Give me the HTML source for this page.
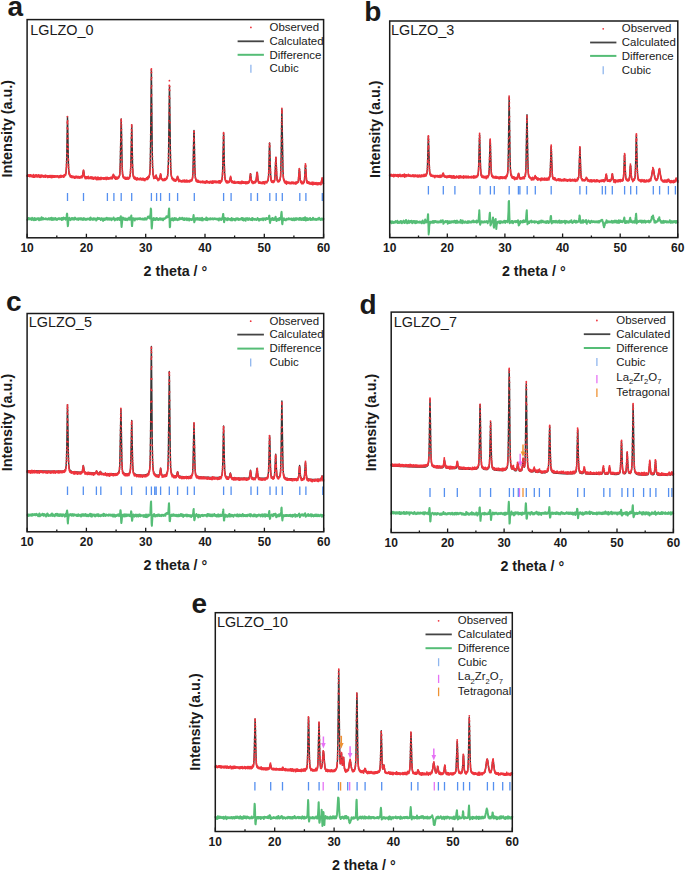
<!DOCTYPE html>
<html><head><meta charset="utf-8"><style>
html,body{margin:0;padding:0;background:#fff;}
svg{display:block;}
text{font-family:"Liberation Sans", sans-serif;fill:#1a1a1a;}
</style></head><body>
<svg width="685" height="871" viewBox="0 0 685 871">
<path d="M27.1 175.8L52.8 176.4L60.6 176.5L62.5 176.4L63.7 176.2L64.6 175.7L65.3 175.1L65.7 174L66.1 172.3L66.5 166L66.8 153.5L67.3 123.8L67.5 116.8L67.7 124.2L68.3 157.7L68.6 168.1L68.9 171.7L69.2 173.9L69.7 175.1L70.4 176L71 176.4L71.8 176.7L74.2 177L79.6 177.3L81 177.3L81.8 177.1L82.2 176.8L82.5 176L83.3 171.3L83.5 170.4L83.7 170.9L84.2 174.9L84.5 176.4L85 177.2L85.9 177.5L89.1 177.8L99 178.2L108 178.5L111.3 178.4L112.1 178.2L112.5 177.8L113.3 175.1L113.5 174.7L113.7 175.2L114.4 177.5L114.6 177.9L114.9 178.2L115.9 178.3L117.2 178.2L118.1 177.8L118.7 177.3L119.3 176.4L119.7 174.9L119.9 172.7L120.1 168.3L121.2 118.9L121.4 125.3L122.2 167.7L122.6 174.2L122.9 175.6L123.2 176.6L123.8 177.5L124.8 178.1L126.3 178.4L127.9 178.3L128.9 178L129.5 177.3L129.9 176.5L130.2 175.1L130.5 171.6L130.8 165.7L131.7 124.9L131.9 129.7L132.6 166.2L132.9 173.1L133.4 176.5L133.9 177.5L134.6 178.3L135.7 178.8L137.3 179.1L141.5 179.3L144.9 179.2L146.8 178.9L148.1 178.2L148.6 177.6L149 176.8L149.6 174.8L150 170.9L150.2 165.2L150.6 141.7L151.2 79.7L151.4 69.4L152.2 146.5L152.5 164.4L152.8 170.6L153.1 174.2L153.7 176.6L154.1 177.6L154.6 178.1L154.9 178.2L155.3 178L156 175.8L156.2 175.6L156.9 178.1L157.3 179L157.7 179.3L158.1 179.5L158.8 179.5L159.2 179.3L159.5 178.9L159.7 178.3L160.4 174.9L160.6 174.4L161.4 178.3L161.8 179.3L162.1 179.6L162.7 179.7L164.5 179.7L165.7 179.2L166.6 178.5L167.3 177.2L167.7 175.6L168.1 170L168.5 159.4L169.3 95L169.5 85.9L169.7 96.5L170.4 151.7L170.8 168.7L171.1 174.1L171.5 176.7L172.2 178.5L172.7 179.2L173.3 179.7L174.1 180.1L175 180.3L175.8 180.4L176.3 180.2L176.8 179.5L177.4 177.3L177.6 176.9L177.8 177.3L178.6 180.2L179 180.6L179.8 180.8L185 181.2L189.4 181.1L190.4 180.9L191.2 180.5L191.8 180L192.2 179.4L192.5 178.2L192.7 176.4L193 170.6L193.8 133.7L194 130.5L194.2 133.1L194.7 161.5L195.1 173.9L195.4 177.1L195.7 179L196.2 180.1L197 180.9L198.7 181.5L201.9 181.8L208 182.1L215.7 182.1L218.2 182L219.8 181.8L220.9 181.3L221.6 180.5L222 179.5L222.2 178.1L222.6 171.8L223.4 139.4L223.6 133.3L223.8 135.8L224.3 163.1L224.7 174.9L225 178L225.2 179.4L225.6 180.6L226.2 181.2L226.9 181.7L227.8 181.9L228.7 182L229.3 181.8L229.8 180.8L230.4 177.7L230.6 177.3L231.6 181.4L231.9 181.9L232.5 182.2L234.8 182.5L241 182.6L246.4 182.6L248.5 182.4L249.1 181.9L249.5 180.8L250.5 173.7L250.7 174.6L251.4 180.1L251.8 181.7L252.1 182.1L252.7 182.4L253.9 182.5L255 182.3L255.7 181.9L256.1 180.7L256.9 173.2L257.1 172.1L257.4 173.5L258 180L258.3 181.4L258.7 182.1L259.3 182.4L260.2 182.5L263.8 182.6L266 182.3L266.7 182L267.3 181.7L267.8 181L268.1 180.1L268.3 178.6L268.6 175.6L268.9 167.5L269.4 145.2L269.6 142.9L269.8 147.5L270.5 172L270.8 177.7L271.1 180L271.4 180.7L271.8 181.3L272.2 181.6L272.9 181.8L273.5 181.7L274 181.4L274.3 180.9L274.6 180.2L275 175.6L275.7 160.1L275.9 157.5L276.2 160.9L276.7 174.7L277 178.8L277.3 180.2L277.7 181L278.3 181.3L279 181.1L279.8 180.2L280.2 178.7L280.6 176L280.8 171.3L281.2 153.1L281.7 116.7L281.9 109.1L283 170.1L283.4 177.4L283.7 179.4L284.2 180.7L284.7 181.5L285.4 182L286.4 182.4L287.8 182.7L291 182.9L294.8 183L296.6 182.8L297.6 182.5L298.1 181.8L298.4 180.3L299.2 170.1L299.4 168.9L300.2 179L300.6 181.5L301 182.2L301.6 182.7L302.7 182.8L303.6 182.5L303.9 182.1L304.2 181.6L304.5 179.8L305.3 166.8L305.5 164.9L306.5 179.5L306.8 181.5L307.3 182.5L307.8 182.9L308.4 183.1L310.5 183.4L317.3 183.6L320.3 183.5L320.8 183.3L321.1 182.8L322.1 179.2L322.3 179.6L323 182.7L323.3 183.2L323.6 183.5" fill="none" stroke="#363636" stroke-width="1.4" stroke-linejoin="round"/>
<path d="M27.1 175.7h0m0.2 0.6h0m0.3 -1.2h0m0.1 0.9h0m0 -1h0m0.2 0.9h0m0.4 -0.4h0m0.2 0.6h0m0.2 -0.6h0m0.2 -0.6h0m0.1 0.9h0m0.2 -0.6h0m0.1 1h0m0.3 -0.6h0m0.1 0.8h0m0.1 -1.2h0m0.1 1.3h0m0.1 -1.5h0m0.1 1h0m0 -0.6h0m0.1 1h0m0.3 -1.2h0m0.1 1.1h0m0.1 -1.3h0m0.1 1.2h0m0.1 -0.9h0m0.1 0.8h0m0.3 -0.5h0m0 0.8h0m0.1 -0.9h0m0.1 1.1h0m0.1 -1.3h0m0.1 0.5h0m0 0.7h0m0.2 -0.9h0m0.1 0.8h0m0.2 -0.6h0m0.3 1h0m0 -1.1h0m0.3 1h0m0.1 -1.3h0m0 0.7h0m0.3 0.9h0m0.1 -1.3h0m0.1 -1h0m0.1 1.7h0m0.2 -1.2h0m0.1 0.6h0m0.1 0.6h0m0.3 -0.5h0m0.3 0.6h0m0 0.7h0m0.1 -0.8h0m0.3 -1.1h0m0 1h0m0.1 -0.8h0m0.1 1.1h0m0.2 -0.6h0m0.3 -0.9h0m0.1 0.9h0m0.1 0.7h0m0.3 -1h0m0.1 1h0m0.1 -1.7h0m0.2 1.2h0m0.3 0.5h0m0.1 -0.9h0m0 -0.6h0m0.3 0.8h0m0.1 0.9h0m0.1 -0.6h0m0.3 -1h0m0 1.2h0m0.3 -1.1h0m0.1 1.1h0m0 -0.8h0m0.3 -0.7h0m0.1 0.8h0m0 0.6h0m0.1 -1.3h0m0.1 1.1h0m0.6 0.8h0m0 -0.7h0m0.1 -0.6h0m0.1 1.3h0m0.1 -0.6h0m0.1 -0.7h0m0 0.6h0m0.2 -0.6h0m0.1 0.8h0m0.1 -0.8h0m0 1.6h0m0.1 -0.9h0m0.3 -1.1h0m0.1 1h0m0.2 -0.8h0m0.1 0.8h0m0.1 0.8h0m0.1 -1.5h0m0.1 1.3h0m0.1 -1.1h0m0.1 -0.6h0m0.1 0.9h0m0.6 0h0m0.4 -0.8h0m0.4 0.7h0m0.2 0.9h0m0.1 -0.7h0m0.1 0.8h0m0.1 -0.8h0m0.3 0.6h0m0.2 -0.7h0m0.1 0.6h0m0.1 -1h0m0 0.7h0m0.4 -0.6h0m0.4 0.7h0m0.1 0.6h0m0.2 -0.9h0m0.1 -0.8h0m0.1 1.1h0m0.1 -1.1h0m0.2 0.9h0m0.1 0.7h0m0.1 -1.3h0m0.2 0.5h0m0.5 0h0m0.2 -0.6h0m0.1 0.8h0m0.4 -0.4h0m0.4 0.6h0m0 0.8h0m0.2 -0.6h0m0.1 -0.8h0m0.1 0.6h0m0.5 -0.4h0m0.1 0.7h0m0.1 -0.9h0m0.1 0.6h0m0 -0.6h0m0.1 1.1h0m0.1 -0.6h0m0.3 0.5h0m0.1 -0.9h0m0.2 1h0m0 -0.9h0m0.3 -0.6h0m0.1 1.4h0m0 -1.3h0m0.1 1.2h0m0.1 -0.5h0m0.6 0.3h0m0 -0.5h0m0.3 0.5h0m0.1 -0.6h0m0 1.5h0m0.1 -1.4h0m0.3 -0.6h0m0.1 0.8h0m0.4 -0.6h0m0.1 0.8h0m0.2 -0.5h0m0 1.2h0m0.1 -0.8h0m0.1 0.6h0m0.2 -0.7h0m0 -0.7h0m0.1 1.1h0m0.3 -1h0m0 1.3h0m0.1 -1.1h0m0.2 1.2h0m0.1 -0.6h0m0.2 -0.6h0m0.1 0.6h0m0.1 -0.7h0m0.1 0.5h0m0.2 0.7h0m0.1 -0.6h0m0.1 0.7h0m0.1 -0.7h0m0.1 -0.7h0m0.2 0.7h0m0.6 0.2h0m0.3 -0.8h0m0.1 0.9h0m0.4 -0.5h0m0.1 0.6h0m0.2 -0.6h0m0.3 0.4h0m0.2 -0.7h0m0.1 0.7h0m0.1 -0.8h0m0.1 0.8h0m0.2 -0.8h0m0 0.6h0m0.4 0.6h0m0.1 -0.6h0m0.2 0.8h0m0.1 -0.7h0m0.2 1h0m0.1 -1.3h0m0.3 0.5h0m0.1 -0.6h0m0.2 0.6h0m0.3 -0.8h0m0 1.4h0m0.1 -0.9h0m0.3 -0.5h0m0.3 0.7h0m0.1 -0.6h0m0.2 1h0m0.1 -1h0m0.1 -0.6h0m0 0.7h0m0.2 0.5h0m0.1 -1h0m0.1 1.3h0m0.4 -0.5h0m0.2 -0.6h0m0.1 0.7h0m0.5 -0.1h0m0.2 -0.5h0m0.2 0.8h0m0 -0.7h0m0.4 1h0m0 -1h0m0.2 1.1h0m0.1 -1.7h0m0.2 1.2h0m0.1 -1.3h0m0.1 1.3h0m0.1 -1h0m0.1 -0.8h0m0.1 1.5h0m0.3 -0.8h0m0.4 -0.8h0m0.1 0.6h0m0.2 -0.8h0m0 0.7h0m0.1 -0.9h0m0.1 0.9h0m0.1 -0.9h0m0.1 -1h0m0.2 -0.5h0m0.2 -1h0m0.1 -1.6h0m0.1 -1.2h0m0.1 -1.4h0m0.1 -1.9h0m0 -1.6h0m0.1 -2.8h0m0.1 -4.1h0m0.1 -4h0m0.1 -5h0m0 -4.2h0m0.1 -5.5h0m0.1 -4.7h0m0.1 -5.9h0m0.1 -5.3h0m0 -0.6h0m0.1 -5.5h0m0.3 4.3h0m0 2.9h0m0.1 5.1h0m0.1 5h0m0.1 4.5h0m0.1 6.6h0m0 4h0m0.1 5.2h0m0.1 4.8h0m0.1 1.1h0m0.1 4.6h0m0 2.1h0m0.1 0.8h0m0.1 2.2h0m0.2 3.4h0m0 -1.2h0m0.1 1h0m0.1 1.1h0m0.3 0.6h0m0.1 -1h0m0.1 0.6h0m0.1 0.8h0m0.2 -0.6h0m0.1 1.4h0m0.5 1h0m0.1 -0.7h0m0.1 0.6h0m0.2 -0.8h0m0 1h0m0.1 -1h0m0.2 1.1h0m0.2 -0.8h0m0.1 1h0m0.3 -1.3h0m0.1 0.7h0m0.2 0.9h0m0 -0.8h0m0.1 0.8h0m0.1 -0.9h0m0.6 -0.3h0m0 0.6h0m0.6 0.2h0m0.2 -0.7h0m0.4 0.7h0m0.1 0.8h0m0.1 -0.9h0m0.1 0.8h0m0.1 -1h0m0.3 0.8h0m0.1 -1.1h0m0 0.8h0m0.2 0.6h0m0.1 -0.6h0m0.2 -0.9h0m0.2 0.8h0m0.4 -0.4h0m0.1 0.8h0m0.2 -1.2h0m0.2 0.8h0m0.4 -0.9h0m0.1 1.1h0m0.1 -0.7h0m0.3 1h0m0.2 -0.8h0m0.4 0.4h0m0.1 -0.7h0m0.1 0.7h0m0.1 -0.8h0m0.1 0.7h0m0.1 0.6h0m0.1 -1h0m0.1 0.7h0m0.4 -0.6h0m0.4 1.1h0m0.3 -0.8h0m0.3 -0.6h0m0.3 1.1h0m0.1 -1h0m0 0.9h0m0.1 -1.1h0m0.3 0.8h0m0.4 -0.4h0m0.4 0.5h0m0.1 -1.6h0m0.1 1.8h0m0.3 -1.6h0m0.2 0.5h0m0.1 -1.2h0m0 0.9h0m0.1 -1.1h0m0.1 1.2h0m0.1 -1.7h0m0.1 -0.5h0m0.1 -1.6h0m0.3 -0.9h0m0.1 -1.3h0m0.1 0.8h0m0.1 -0.7h0m0.1 1.5h0m0.2 0.6h0m0.2 0.9h0m0 1h0m0.1 0.5h0m0.3 1.8h0m0.2 -0.6h0m0.2 1.6h0m0.3 -0.6h0m0.1 1.3h0m0 -1.3h0m0.4 0.9h0m0.1 -1.2h0m0.2 0.8h0m0.1 -0.9h0m0.3 0.8h0m0.2 -0.5h0m0.2 1.4h0m0.1 -1.4h0m0.2 0.7h0m0.1 -0.6h0m0.1 1.1h0m0 -1.1h0m0.3 0.6h0m0.3 -0.8h0m0.1 0.9h0m0.1 -0.6h0m0 0.6h0m0.3 -1.4h0m0.1 0.8h0m0.3 1.2h0m0.4 -1.2h0m0.1 1h0m0 -1h0m0.4 0.5h0m0.5 -0.1h0m0.2 0.7h0m0.4 -1.4h0m0.1 1.4h0m0 -0.7h0m0.3 0.9h0m0.2 -0.6h0m0.3 0.7h0m0 -1h0m0.3 -0.8h0m0.1 1.1h0m0.1 0.6h0m0.1 -0.6h0m0.4 -0.6h0m0.1 1.1h0m0.1 -0.9h0m0.2 1.1h0m0.1 -1h0m0.1 1.5h0m0 -1.5h0m0.2 1.2h0m0.1 -1.2h0m0.3 0.4h0m0.2 -0.6h0m0 0.9h0m0.3 -0.7h0m0.1 0.8h0m0 -0.9h0m0.3 0.7h0m0.1 -0.8h0m0.2 0.6h0m0.2 0.7h0m0 -0.7h0m0.1 -0.9h0m0.1 1.3h0m0.1 -1h0m0.1 0.7h0m0.2 -0.5h0m0.2 0.9h0m0.2 -0.8h0m0.2 1.7h0m0 -1h0m0.1 -0.7h0m0.2 1.1h0m0.1 -0.7h0m0.3 -0.9h0m0.1 1h0m0.2 0.7h0m0.1 -0.8h0m0.1 -0.8h0m0.2 2.1h0m0.1 -1.3h0m0.1 0.8h0m0.1 -0.7h0m0.2 -0.9h0m0.1 1.1h0m0.2 -0.9h0m0.1 1h0m0.1 -0.6h0m0.4 1.3h0m0 -0.8h0m0.3 0.6h0m0.1 -0.5h0m0 -0.7h0m0.1 0.6h0m0.6 0h0m0.1 -0.6h0m0.1 1.4h0m0.2 -1.2h0m0.2 -0.7h0m0.1 1.9h0m0.1 -0.7h0m0.5 -0.1h0m0.5 -0.6h0m0.3 0.6h0m0.5 0.3h0m0.3 -0.6h0m0.1 0.7h0m0.1 -1h0m0.1 1h0m0.1 -0.8h0m0.2 1.1h0m0.2 -1.4h0m0.1 0.9h0m0.5 -0.8h0m0.2 1h0m0.1 -1h0m0.3 0.9h0m0.3 -0.7h0m0.1 0.6h0m0 -1.1h0m0.1 0.9h0m0.2 -1.2h0m0.1 1.4h0m0.2 0.7h0m0.1 -0.9h0m0.2 -0.5h0m0.1 0.7h0m0.4 -0.5h0m0.2 -0.8h0m0 0.8h0m0.2 0.6h0m0.4 -0.6h0m0.3 0.8h0m0.2 -1.1h0m0.1 0.8h0m0 -0.8h0m0.3 0.7h0m0.1 -0.5h0m0 0.8h0m0.2 -0.9h0m0.2 0.6h0m0.3 -0.8h0m0.1 0.9h0m0.2 -0.6h0m0.2 0.6h0m0.5 -1.4h0m0.1 0.7h0m0.1 0.6h0m0.1 -0.6h0m0.4 0.5h0m0 -0.6h0m0.1 0.7h0m0.5 -1.1h0m0.1 0.9h0m0.1 -0.7h0m0 1.1h0m0.1 -2.3h0m0.1 1h0m0.5 -0.9h0m0.1 -0.8h0m0 1.1h0m0.1 -1.3h0m0.1 0.6h0m0.1 -1.6h0m0.1 0.8h0m0.1 -0.9h0m0.1 0.6h0m0.4 0.9h0m0.2 0.7h0m0.2 0.5h0m0.1 0.7h0m0.2 -0.5h0m0.1 0.7h0m0.1 -1.6h0m0.1 1.2h0m0 0.7h0m0.3 -1h0m0.1 1h0m0.4 0.8h0m0 -1.3h0m0.2 1.3h0m0.1 -2h0m0.1 1.1h0m0.1 0.8h0m0.1 -1.1h0m0.2 -0.7h0m0.1 1h0m0.3 -0.9h0m0 0.9h0m0.4 -0.6h0m0.1 1.1h0m0.1 -0.9h0m0.3 0.5h0m0.3 -1.3h0m0 0.7h0m0.2 -0.8h0m0.1 1.1h0m0.1 -0.9h0m0.2 0.5h0m0.1 -0.6h0m0.2 -0.8h0m0.5 -0.7h0m0.2 -0.9h0m0.1 -1.1h0m0.2 -1.9h0m0.1 -1.1h0m0 -1.9h0m0.1 -2.2h0m0.1 -2.4h0m0.1 -4.5h0m0.1 -3.5h0m0 -4.5h0m0.1 -4.5h0m0.1 -5.4h0m0.1 -3.4h0m0.1 -7.6h0m0 -3.7h0m0.1 -3.7h0m0.1 -2.8h0m0.1 -1.1h0m0.1 2h0m0.1 3.4h0m0.1 4.8h0m0.1 5.4h0m0.1 5h0m0 5.6h0m0.1 4.8h0m0.1 4.9h0m0.1 4.6h0m0.1 3.4h0m0 1.8h0m0.1 2.2h0m0.1 1.8h0m0.1 2.1h0m0.1 1.6h0m0 1.1h0m0.3 2.1h0m0.1 -0.8h0m0 0.9h0m0.3 0.6h0m0.1 0.7h0m0 -0.8h0m0.1 0.9h0m0.4 -0.5h0m0.1 1h0m0.3 -0.9h0m0.1 1.2h0m0.1 -0.8h0m0.1 0.9h0m0.5 -0.3h0m0.2 0.9h0m0.3 -0.9h0m0.2 0.8h0m0 -1.4h0m0.1 0.6h0m0.2 1.1h0m0.1 -0.6h0m0.5 -0.5h0m0.3 0.5h0m0.1 0.6h0m0.1 -1.3h0m0.1 0.8h0m0.2 -1.3h0m0.1 1.1h0m0.5 -0.7h0m0.2 0.6h0m0.2 -0.6h0m0.2 1.2h0m0.3 -1h0m0.3 -0.6h0m0.3 0.6h0m0.1 -1.1h0m0.5 -0.9h0m0 -0.7h0m0.1 -0.7h0m0.3 -2h0m0 -1.1h0m0.1 -2.1h0m0.1 -2.1h0m0.1 -1.7h0m0.1 -2h0m0 -3h0m0.1 -4.9h0m0.1 -3.7h0m0.1 -5.3h0m0.1 -4.7h0m0 -4.1h0m0.1 -4.3h0m0.1 -3.9h0m0.1 -4.1h0m0.1 -0.8h0m0.1 2.1h0m0.1 4h0m0.1 3.2h0m0.1 2.9h0m0 6.7h0m0.1 3h0m0.1 5.5h0m0.1 4.1h0m0.1 3h0m0 5.4h0m0.1 1.2h0m0.1 3.1h0m0.1 1.4h0m0.1 1.6h0m0 2h0m0.2 0.9h0m0.2 1.2h0m0.2 0.6h0m0.1 -0.7h0m0.1 1.1h0m0 0.7h0m0.1 -0.7h0m0.2 0.7h0m0.2 0.5h0m0.3 -0.7h0m0.1 1.3h0m0.1 -0.6h0m0.1 -1.1h0m0.1 1.5h0m0.3 -1.3h0m0.1 1.3h0m0 -0.8h0m0.1 1.2h0m0.1 -0.9h0m0.2 0.7h0m0.4 -0.5h0m0 0.9h0m0.1 -0.9h0m0.3 1.5h0m0.1 -1.4h0m0.2 0.6h0m0.5 -1.3h0m0 0.8h0m0.2 1h0m0.3 -0.6h0m0.2 -0.7h0m0.1 0.6h0m0.4 0.5h0m0.2 -0.5h0m0.2 0.7h0m0.2 -0.6h0m0.2 0.7h0m0.2 -1.1h0m0.2 0.8h0m0.2 -0.8h0m0.2 0.6h0m0.4 -1h0m0.1 1.1h0m0.1 -0.7h0m0.1 0.7h0m0.3 0.5h0m0.1 -0.8h0m0.1 0.7h0m0.1 -0.6h0m0.3 0.7h0m0 -0.8h0m0.3 0.9h0m0.1 -1.3h0m0.1 1.3h0m0.1 -1.4h0m0.1 1.4h0m0.1 -0.6h0m0.4 0.6h0m0.2 -0.7h0m0.2 -0.8h0m0 1.3h0m0.1 -0.8h0m0.2 0.7h0m0.1 -0.7h0m0 0.5h0m0.1 0.7h0m0.1 -0.8h0m0.1 1h0m0.1 -0.5h0m0.2 -0.6h0m0.6 -0.2h0m0 1.6h0m0.1 -1.7h0m0.1 0.7h0m0.3 -0.7h0m0.2 0.6h0m0.5 -0.9h0m0.4 0.8h0m0 -0.7h0m0.1 -0.7h0m0.1 0.6h0m0.2 -0.7h0m0.1 1h0m0.4 -0.5h0m0.3 0.9h0m0 -0.6h0m0.1 -1.7h0m0.1 1.5h0m0.2 -0.5h0m0.2 -0.5h0m0.1 0.6h0m0.1 -1.1h0m0.2 0.6h0m0.2 -1h0m0.1 0.8h0m0.1 -1.4h0m0.2 -0.5h0m0.4 -1.2h0m0 -0.7h0m0.1 -1.4h0m0.2 -2h0m0.1 -0.9h0m0 -2.2h0m0.1 -2.3h0m0.1 -2.7h0m0.1 -3.7h0m0.1 -3.9h0m0 -5.9h0m0.1 -7.3h0m0.1 -6.9h0m0.1 -8.7h0m0.1 -10.6h0m0 -7.3h0m0.1 -11.4h0m0.1 -8.5h0m0.1 -8.3h0m0.1 -6.9h0m0 -2.7h0m0.1 -1.2h0m0.1 3.6h0m0.1 5.3h0m0.1 8.1h0m0 9h0m0.1 9.5h0m0.1 9h0m0.1 9.3h0m0.1 9.4h0m0 8.4h0m0.1 5.7h0m0.1 6.1h0m0.1 4.2h0m0.1 4.5h0m0 2.6h0m0.1 2.7h0m0.1 2.7h0m0.1 1.2h0m0.1 1.4h0m0 1.6h0m0.1 1.4h0m0.3 1.4h0m0 -0.7h0m0.1 1.4h0m0.1 -0.9h0m0.1 1.5h0m0.2 1.2h0m0.1 -1.2h0m0.3 0.9h0m0.3 -0.5h0m0.3 0.6h0m0.2 -0.5h0m0.4 -1h0m0.2 1h0m0.1 -0.9h0m0.1 -0.7h0m0.3 -1h0m0.2 0.8h0m0.3 1.2h0m0.2 1.1h0m0.4 0.8h0m0.4 0.4h0m0.4 1.2h0m0.1 -0.7h0m0.1 -0.5h0m0.2 -0.8h0m0.1 1.1h0m0.4 -1.3h0m0 0.6h0m0.4 0.7h0m0 -0.5h0m0.2 -1.1h0m0.2 1h0m0.1 -0.6h0m0.1 -1.1h0m0.2 -1.3h0m0.2 -0.6h0m0.2 -1.5h0m0 0.9h0m0.2 -0.8h0m0.1 1.1h0m0.1 0.9h0m0.1 -0.9h0m0.1 2.5h0m0.1 -1.4h0m0.1 1.9h0m0.2 0.8h0m0.1 -0.6h0m0.1 0.7h0m0.1 -0.5h0m0.1 0.7h0m0.4 0.5h0m0.6 0.1h0m0 -0.6h0m0.1 1.2h0m0.1 -1.3h0m0.2 0.9h0m0.6 0.2h0m0.2 -1h0m0 0.6h0m0.4 0.5h0m0 -0.6h0m0.3 -1.2h0m0.1 0.5h0m0.2 1.1h0m0.1 -0.9h0m0.3 0.5h0m0.2 -1.1h0m0.4 0.6h0m0 -0.7h0m0.2 0.7h0m0.2 -0.5h0m0.2 -1.5h0m0.2 1.1h0m0.1 -0.7h0m0.3 -1.4h0m0 0.6h0m0.2 -0.5h0m0.1 -1.1h0m0.2 -2.1h0m0.2 -1.4h0m0.1 -1.5h0m0 -0.6h0m0.1 -2.5h0m0.1 -1.3h0m0.1 -4.7h0m0.1 -3.5h0m0 -3.8h0m0.1 -5.4h0m0.1 -5.6h0m0.1 -6.2h0m0.1 -7h0m0 -9h0m0.1 -7.8h0m0.1 -8.9h0m0.1 -7.6h0m0.1 -6.9h0m0 -4.1h0m0.1 -4.7h0m0.3 5.7h0m0 4h0m0.1 7.9h0m0.1 9.4h0m0.1 7.1h0m0.1 7.7h0m0 8.3h0m0.1 7.4h0m0.1 7h0m0.1 5.3h0m0.1 4.7h0m0 4.2h0m0.1 3.8h0m0.1 2.3h0m0.1 2.8h0m0.1 2.5h0m0.1 1.1h0m0.1 1.8h0m0.1 0.6h0m0.1 1.2h0m0.2 0.6h0m0.2 0.9h0m0.2 0.8h0m0.1 0.7h0m0.1 -0.6h0m0.1 0.9h0m0.1 -1.2h0m0.2 1.1h0m0 0.8h0m0.1 -0.7h0m0.2 0.9h0m0.1 -1h0m0.1 1h0m0.2 -1.1h0m0.1 0.6h0m0.2 0.6h0m0.2 0.7h0m0.1 -0.8h0m0.2 0.8h0m0.1 -0.8h0m0.3 0.5h0m0.1 -0.8h0m0 0.8h0m0.3 0.7h0m0.2 -1.4h0m0.1 1.6h0m0.1 -0.5h0m0.1 -0.6h0m0.1 0.6h0m0.3 0.5h0m0.1 -0.9h0m0.3 -0.5h0m0.1 0.9h0m0.3 -0.8h0m0.3 -0.6h0m0.2 -0.8h0m0 0.6h0m0.2 -1.8h0m0.1 1.1h0m0.1 -1.6h0m0.2 1.1h0m0.1 -1.3h0m0.1 0.7h0m0 0.6h0m0.4 0.9h0m0.1 1.2h0m0.1 -1.6h0m0.1 2.1h0m0.1 -1.2h0m0 1.1h0m0.1 -0.5h0m0.1 0.7h0m0.1 1h0m0.1 -1.4h0m0 1h0m0.6 -0.4h0m0.2 0.5h0m0 -1.1h0m0.2 0.9h0m0.3 -0.6h0m0.3 0.5h0m0.4 0.8h0m0 -0.9h0m0.5 1h0m0.1 -0.6h0m0.6 0.6h0m0.4 -1.5h0m0.3 0.9h0m0.5 -0.3h0m0.1 0.8h0m0.1 -0.7h0m0.4 -0.9h0m0.1 1.1h0m0.3 -0.5h0m0.2 1.2h0m0.1 -0.8h0m0.2 -0.7h0m0.1 1.3h0m0 -1.2h0m0.1 0.7h0m0.3 0.6h0m0.2 -0.6h0m0.2 0.7h0m0.1 -1h0m0.3 1h0m0 -0.9h0m0.4 -0.8h0m0.2 1.3h0m0.2 -0.7h0m0.1 0.7h0m0.1 -0.6h0m0.2 1h0m0.1 -0.6h0m0.2 -0.7h0m0.1 0.6h0m0.4 0.6h0m0 -0.7h0m0.6 0.2h0m0.4 -0.6h0m0.2 0.8h0m0.1 -0.8h0m0.2 1.2h0m0.1 -1.3h0m0.1 1h0m0.1 -0.5h0m0.5 -0.5h0m0.5 -0.6h0m0 0.8h0m0.4 -0.6h0m0 0.7h0m0.2 -0.8h0m0.1 0.6h0m0.1 -0.6h0m0.4 -0.4h0m0 -0.6h0m0.3 -1h0m0.1 -0.9h0m0.1 -1.3h0m0.2 -2.1h0m0.1 -0.9h0m0 -3h0m0.1 -0.7h0m0.1 -3.2h0m0.1 -3.8h0m0.1 -3.6h0m0 -3.5h0m0.1 -5h0m0.1 -4.4h0m0.1 -4.7h0m0.1 -2.8h0m0 -6.1h0m0.1 -0.7h0m0.3 0.5h0m0 3.1h0m0.1 4.7h0m0.1 4.8h0m0.1 5.1h0m0.1 5.2h0m0 3.1h0m0.1 3.7h0m0.1 3.7h0m0.1 3.4h0m0.1 2.1h0m0 1.7h0m0.1 0.6h0m0.1 2.4h0m0.1 1.9h0m0.2 0.9h0m0.3 0.5h0m0.1 1.2h0m0.2 1h0m0.1 -0.9h0m0.1 1h0m0.1 -1.1h0m0.1 0.8h0m0.1 -0.7h0m0 0.8h0m0.1 -0.6h0m0.1 0.6h0m0.2 0.9h0m0 -1.2h0m0.4 1.2h0m0 -1.1h0m0.2 1h0m0.1 -0.9h0m0.1 1.2h0m0.1 -0.6h0m0.2 -1h0m0.1 1.2h0m0.1 -0.7h0m0.1 0.7h0m0.2 -0.5h0m0.1 0.9h0m0.2 -0.9h0m0.4 0.5h0m0.5 0.5h0m0 -0.7h0m0.1 0.8h0m0.1 -0.6h0m0.5 0.9h0m0.1 -0.6h0m0.2 -0.5h0m0.6 0.9h0m0.1 -0.7h0m0.3 0.7h0m0.3 -0.8h0m0.1 0.5h0m0.3 -0.9h0m0.1 1.5h0m0 -0.7h0m0.1 -0.5h0m0.2 0.6h0m0.5 -0.4h0m0 0.9h0m0.2 -0.9h0m0.1 1.1h0m0.1 -1.1h0m0 0.7h0m0.1 -0.8h0m0.3 0.8h0m0 -0.7h0m0.4 1.3h0m0.1 -1.1h0m0.3 1.1h0m0 -0.6h0m0.1 -0.6h0m0.1 1h0m0.1 -0.7h0m0.1 1h0m0.1 -0.6h0m0.5 -0.7h0m0.1 0.6h0m0.3 -1.4h0m0.1 0.8h0m0.2 0.8h0m0.2 -0.6h0m0.3 0.5h0m0.2 -1h0m0 1h0m0.2 -1.1h0m0.1 1.2h0m0.2 -0.7h0m0.3 0.8h0m0.3 -0.6h0m0.5 0.6h0m0.2 -0.8h0m0.1 1.2h0m0.1 -1.4h0m0.1 0.6h0m0.6 -0.5h0m0.1 0.7h0m0.3 -0.6h0m0.3 -0.4h0m0.1 0.6h0m0.1 0.8h0m0.3 -1.3h0m0.2 0.7h0m0.3 0.9h0m0 -1.3h0m0.2 0.5h0m0.2 -0.8h0m0.1 1.4h0m0.2 -0.7h0m0.2 -0.7h0m0.1 0.7h0m0.1 -1h0m0.1 1.8h0m0 -1.9h0m0.1 0.8h0m0.5 0.7h0m0.1 -0.6h0m0.2 -0.7h0m0.1 1.1h0m0.6 -0.1h0m0.1 -1.2h0m0.1 0.7h0m0.2 0.6h0m0 -0.5h0m0.2 0.5h0m0.2 -1.3h0m0.2 0.8h0m0.6 0.8h0m0 -0.6h0m0.4 -0.6h0m0.2 0.9h0m0.2 -0.9h0m0.2 0.7h0m0.2 -0.6h0m0.3 1h0m0.1 -0.9h0m0.5 0.8h0m0.4 -0.7h0m0.1 1h0m0.1 -1.8h0m0.1 1.9h0m0 -1.2h0m0.3 0.7h0m0.1 -1.6h0m0 1.2h0m0.4 -0.9h0m0.3 0.7h0m0.1 1.3h0m0 -1.6h0m0.3 0.6h0m0.1 -0.6h0m0 -0.7h0m0.2 1h0m0.1 -0.6h0m0.1 0.8h0m0.1 -0.6h0m0.1 -0.8h0m0.1 1.2h0m0.1 -0.9h0m0 0.7h0m0.1 -1.4h0m0.2 -0.6h0m0.1 1.5h0m0 -1.5h0m0.3 -0.6h0m0.1 -1h0m0.2 -0.8h0m0.1 -2.4h0m0.1 -1.1h0m0 -1.4h0m0.1 -2h0m0.1 -4.7h0m0.1 -2.6h0m0.1 -2.8h0m0 -4.2h0m0.1 -3.9h0m0.1 -4.6h0m0.1 -4.6h0m0.1 -4.3h0m0 -1.6h0m0.1 -3.3h0m0.1 -1h0m0.1 1.4h0m0.1 2.5h0m0 2h0m0.1 3.5h0m0.1 4.2h0m0.1 4.6h0m0.1 4.4h0m0 3.9h0m0.1 3.7h0m0.1 3.9h0m0.1 2.1h0m0.1 2h0m0 2.9h0m0.1 1.7h0m0.1 1.6h0m0.2 1.1h0m0.1 0.6h0m0.1 0.8h0m0.2 0.8h0m0.3 0.5h0m0.1 0.7h0m0.1 -1.1h0m0.1 0.8h0m0.1 0.8h0m0.1 -0.8h0m0.1 -0.7h0m0.1 1.8h0m0.2 -1.3h0m0 0.6h0m0.1 -0.6h0m0.1 0.6h0m0.1 -0.8h0m0.1 1.1h0m0.1 0.9h0m0.1 -0.7h0m0.2 -0.8h0m0 0.8h0m0.2 -0.8h0m0.1 1.1h0m0.1 -1.2h0m0.1 1h0m0.1 -0.7h0m0.2 0.6h0m0.4 -0.8h0m0 1.2h0m0.1 -0.6h0m0.3 -0.9h0m0.2 1h0m0.3 -1.1h0m0.1 0.7h0m0.1 -0.7h0m0.2 -0.8h0m0.1 -0.7h0m0.1 1.1h0m0.1 -1h0m0 -1.3h0m0.2 -0.9h0m0.2 -0.9h0m0.1 1.4h0m0.1 -0.8h0m0.1 0.6h0m0.1 1h0m0.1 0.6h0m0.1 0.6h0m0.1 0.8h0m0.4 1.4h0m0.4 -1.1h0m0.1 1.1h0m0.1 0.6h0m0.1 -0.7h0m0.2 0.6h0m0.4 -0.6h0m0.4 0.4h0m0 -0.7h0m0.4 0.5h0m0 0.7h0m0.3 -0.8h0m0.2 1.1h0m0.1 -1h0m0.2 -0.9h0m0.1 1.9h0m0.1 -0.7h0m0.2 -0.7h0m0.2 0.5h0m0.2 0.8h0m0.2 -0.7h0m0.3 0.5h0m0.5 -0.8h0m0.6 0.5h0m0.4 -0.8h0m0.1 0.9h0m0.2 -0.6h0m0.1 0.6h0m0.2 -0.6h0m0.2 1h0m0.1 -1.2h0m0.1 0.8h0m0.2 -0.6h0m0.3 1h0m0.1 -1h0m0.1 0.6h0m0.5 0.6h0m0.1 -1.1h0m0.1 0.8h0m0.2 -0.9h0m0.2 1.2h0m0.1 -1h0m0.1 0.6h0m0.2 -0.8h0m0.3 0.7h0m0.1 -0.8h0m0.1 1.6h0m0.1 -0.9h0m0.4 -1.4h0m0.1 1.7h0m0.2 -0.8h0m0.3 -0.9h0m0 1.8h0m0.3 -0.8h0m0.2 0.6h0m0.1 -0.8h0m0.2 0.8h0m0.1 -0.7h0m0.2 0.8h0m0.1 -0.8h0m0.3 0.8h0m0.1 -0.6h0m0.3 -0.6h0m0.1 1.1h0m0.2 -0.5h0m0.2 0.6h0m0.2 -0.6h0m0.3 0.5h0m0.1 -0.6h0m0.2 -0.5h0m0.3 1.6h0m0.1 -0.9h0m0.1 1.2h0m0.1 -1.2h0m0.2 1h0m0.1 -1.7h0m0.2 1h0m0.5 -0.3h0m0 0.8h0m0.2 -0.7h0m0.1 0.6h0m0.1 -0.7h0m0 0.9h0m0.1 -1.5h0m0.1 0.8h0m0.5 -0.4h0m0.1 0.5h0m0.1 -0.9h0m0.1 1.2h0m0.1 -0.9h0m0.5 -0.9h0m0 1.1h0m0.1 -0.9h0m0.1 0.6h0m0.1 -0.9h0m0.3 -0.6h0m0.1 -1.3h0m0.1 -0.6h0m0.2 -2.1h0m0.1 -0.6h0m0.2 -1.9h0m0.5 0.3h0m0.1 2.7h0m0.2 0.9h0m0.1 0.9h0m0.2 1.4h0m0.1 1.3h0m0.2 -0.9h0m0.1 1.8h0m0 -0.6h0m0.5 0.3h0m0.3 0.5h0m0.2 -1.1h0m0.1 0.5h0m0.1 1.3h0m0 -1.5h0m0.2 0.7h0m0.2 -0.5h0m0.4 0.4h0m0.1 -0.5h0m0.1 0.7h0m0.3 -0.7h0m0.1 0.9h0m0.1 -0.7h0m0.3 -0.7h0m0.1 1.4h0m0.2 -0.8h0m0.6 -0.9h0m0.2 0.6h0m0.1 -0.6h0m0.1 -1.1h0m0.1 -0.8h0m0.1 0.6h0m0.1 -1.2h0m0.1 -1.1h0m0.1 -1.6h0m0.1 -1.2h0m0.1 -0.7h0m0.1 -0.8h0m0.1 -0.6h0m0.4 0.5h0m0 1.1h0m0.1 1.1h0m0.1 0.8h0m0.1 0.8h0m0.1 1.3h0m0.1 1.3h0m0.2 0.7h0m0.1 0.6h0m0.2 0.8h0m0.1 0.9h0m0.1 -1h0m0 0.9h0m0.1 -1.1h0m0.2 1.1h0m0.1 0.7h0m0.1 -0.8h0m0.2 0.6h0m0.3 -0.8h0m0.2 0.9h0m0.1 -1.1h0m0.1 0.8h0m0.2 -0.6h0m0.3 0.9h0m0.3 -0.6h0m0.1 0.8h0m0.1 -0.6h0m0.6 0.4h0m0.2 -0.8h0m0.3 1.2h0m0.1 -0.9h0m0.2 0.6h0m0.1 -1.1h0m0.1 0.9h0m0.4 -1.2h0m0.1 1.2h0m0.3 -1.1h0m0.1 1.4h0m0.1 -1.1h0m0.1 0.8h0m0.1 -0.8h0m0.2 1.1h0m0.1 -1.2h0m0.1 1h0m0.2 -1h0m0.1 0.6h0m0.1 -0.6h0m0 1.8h0m0.1 -2.1h0m0.2 1h0m0.2 -1.2h0m0.2 0.9h0m0.5 0h0m0.1 -0.9h0m0.2 0.9h0m0.3 -0.8h0m0.2 1.1h0m0 -0.6h0m0.2 0.5h0m0.1 -0.8h0m0.4 -0.5h0m0.5 -0.9h0m0.2 -0.6h0m0.2 -0.6h0m0.1 -0.7h0m0.1 -1.5h0m0.2 -1h0m0 -2.7h0m0.1 -1.1h0m0.1 -1.7h0m0.1 -2.9h0m0.1 -3.6h0m0 -2.7h0m0.1 -2.8h0m0.1 -5h0m0.1 -2.3h0m0.1 -4.5h0m0.1 -3.3h0m0.3 2.1h0m0 1.1h0m0.1 5.1h0m0.1 2h0m0.1 3.4h0m0.1 4.9h0m0 2h0m0.1 4h0m0.1 1.6h0m0.1 1.9h0m0.1 1.3h0m0 2.9h0m0.1 1h0m0.1 0.9h0m0.2 1h0m0 1.1h0m0.1 1h0m0.2 -0.7h0m0.1 1.3h0m0 -0.6h0m0.1 0.5h0m0.4 0.9h0m0.3 -1.2h0m0.1 1.1h0m0.2 -0.7h0m0.1 0.7h0m0.4 -0.7h0m0.1 1.2h0m0.1 -1.3h0m0.1 0.6h0m0.1 -1h0m0.1 1.1h0m0.2 -0.9h0m0.1 0.8h0m0.1 -0.7h0m0.3 0.6h0m0.2 -0.8h0m0.2 -0.6h0m0.1 -0.9h0m0.1 -1.3h0m0.2 -1.8h0m0.1 -2.4h0m0.1 -1.3h0m0.1 -2.2h0m0.1 -3.1h0m0 -0.6h0m0.1 -2.7h0m0.1 -1.4h0m0.1 -3.2h0m0.1 -1.7h0m0.1 1h0m0.1 -1.5h0m0.1 1.7h0m0.1 2h0m0 1h0m0.1 2.7h0m0.1 2.8h0m0.1 1.8h0m0.1 2.1h0m0 1.5h0m0.1 1.2h0m0.1 2.1h0m0.2 1.4h0m0 1.2h0m0.1 1.2h0m0.2 0.7h0m0.4 0.4h0m0.4 0.8h0m0.1 -1.2h0m0 1h0m0.4 -0.5h0m0.3 -0.8h0m0.1 1.2h0m0.2 -1.1h0m0.2 0.8h0m0 -1.3h0m0.1 0.5h0m0.3 -0.6h0m0.1 -0.6h0m0.3 -0.6h0m0.2 -1.4h0m0.2 -0.5h0m0 -1.8h0m0.1 -1.5h0m0.1 -1.8h0m0.1 -2.6h0m0.1 -3.7h0m0 -3.5h0m0.1 -3.1h0m0.1 -5.2h0m0.1 -5.9h0m0.1 -6.6h0m0 -5h0m0.1 -7.4h0m0.1 -6.4h0m0.1 -5.2h0m0.1 -4.6h0m0 -2.2h0m0.1 -2h0m0.1 2.9h0m0.1 1.9h0m0.1 6.6h0m0 4.7h0m0.1 6.7h0m0.1 8.3h0m0.1 4.5h0m0.1 6.6h0m0 5.7h0m0.1 4.4h0m0.1 3.3h0m0.1 2.8h0m0.1 4h0m0 0.8h0m0.1 3.2h0m0.1 1.2h0m0.1 0.9h0m0.1 1.3h0m0.2 1.3h0m0.2 0.7h0m0 -0.8h0m0.1 0.6h0m0.1 0.7h0m0.1 -1.1h0m0.1 2.1h0m0 -0.8h0m0.5 1.8h0m0.1 -1.5h0m0.2 0.6h0m0 0.6h0m0.2 -0.7h0m0.1 1.4h0m0.1 -0.8h0m0.3 -0.8h0m0.1 0.8h0m0.2 0.8h0m0.1 -0.6h0m0.2 -0.9h0m0.1 1.4h0m0.1 1.1h0m0.1 -0.6h0m0 -0.6h0m0.2 -0.8h0m0.1 0.9h0m0.3 -0.9h0m0.2 0.9h0m0.5 -0.4h0m0.3 0.5h0m0.4 -0.8h0m0.2 1.1h0m0.1 -0.9h0m0.5 0.6h0m0.2 -0.5h0m0.2 1h0m0.1 -0.7h0m0.2 0.7h0m0.1 -0.6h0m0.3 0.5h0m0.2 -0.7h0m0.1 0.9h0m0.2 -1h0m0 1.1h0m0.1 -0.9h0m0.5 -0.6h0m0.1 1.1h0m0.1 -0.8h0m0 0.8h0m0.1 -0.5h0m0.5 0.6h0m0.3 -1.3h0m0.1 1h0m0.3 -0.6h0m0.3 0.6h0m0 -0.8h0m0.2 1.4h0m0.1 -1.1h0m0.5 0.7h0m0.1 -0.7h0m0.3 0.5h0m0.4 -0.4h0m0.1 1h0m0.1 -0.8h0m0.5 0.4h0m0.1 -0.8h0m0.1 1.6h0m0.1 -0.6h0m0.1 -0.7h0m0.1 -0.8h0m0 0.9h0m0.1 -0.5h0m0.2 0.6h0m0.1 -0.7h0m0.2 0.9h0m0.4 -0.6h0m0.5 -0.3h0m0.3 -0.6h0m0.1 0.6h0m0.1 -0.8h0m0.3 -1.8h0m0.1 -0.9h0m0 -1.2h0m0.1 -0.6h0m0.1 -1h0m0.1 -1.5h0m0.1 -1h0m0.1 -3h0m0.2 -1.9h0m0.2 0.8h0m0.2 2.1h0m0.1 0.7h0m0 1.7h0m0.1 1h0m0.1 1h0m0.2 1.8h0m0 2.3h0m0.3 0.9h0m0.1 1h0m0.2 -0.7h0m0.1 1.3h0m0.1 -0.5h0m0.5 0.4h0m0.2 -0.9h0m0.1 2.2h0m0 -1.2h0m0.4 0.9h0m0.2 -0.7h0m0.2 0.7h0m0 -1.1h0m0.3 1.1h0m0.1 -0.6h0m0.2 0.7h0m0.1 -0.6h0m0.2 -0.8h0m0.5 0.4h0m0.1 -1h0m0.2 -0.9h0m0.2 -0.6h0m0.1 -2h0m0.2 -2.2h0m0.1 -1.3h0m0.1 -4.1h0m0.2 -3.2h0m0.2 -1.8h0m0 -1.6h0m0.1 1.2h0m0.1 0.6h0m0.2 0.6h0m0 3.4h0m0.1 1.4h0m0.1 1.7h0m0.1 1.3h0m0.1 1h0m0 1.9h0m0.1 0.6h0m0.1 1.3h0m0.2 1.6h0m0 1.2h0m0.1 -1.1h0m0.1 2h0m0.1 -1.1h0m0.1 -0.7h0m0 1.3h0m0.3 1h0m0.1 -0.6h0m0.1 0.7h0m0.2 -0.7h0m0.1 0.7h0m0.5 -0.3h0m0.1 -0.9h0m0.1 1.3h0m0.5 0.1h0m0.2 -1h0m0.1 1.6h0m0.1 -0.9h0m0 0.7h0m0.2 -1.1h0m0.2 1h0m0 -1.2h0m0.1 1.5h0m0.1 -0.7h0m0.2 0.6h0m0.2 -1h0m0.1 0.7h0m0.3 0.5h0m0.3 -0.8h0m0.2 0.6h0m0.1 -0.8h0m0.1 0.8h0m0.1 -0.7h0m0.5 -0.9h0m0.1 2.1h0m0 -0.9h0m0.6 1.3h0m0.2 -0.7h0m0.4 -0.8h0m0.3 0.8h0m0.1 -1.7h0m0.1 1.3h0m0.5 0.5h0m0.1 -0.7h0m0.5 -0.3h0m0 0.6h0m0.6 -0.4h0m0.1 0.8h0m0.1 -1.3h0m0 1h0m0.3 -1.2h0m0.2 1h0m0.1 0.8h0m0.1 -0.6h0m0.5 -0.4h0m0.2 1.1h0m0.1 -1h0m0.4 -0.5h0m0.1 0.9h0m0 -0.8h0m0.3 1.4h0m0.2 -0.7h0m0.3 -0.9h0m0 0.7h0m0.4 -0.4h0m0.4 0.4h0m0.3 -0.5h0m0.1 0.7h0m0 -0.8h0m0.1 1.3h0m0.1 -0.7h0m0.2 -0.6h0m0.1 1.1h0m0.1 -0.6h0m0.2 1h0m0 -1.1h0m0.4 -0.8h0m0.1 1.8h0m0.1 -1.8h0m0.1 -0.6h0m0.2 -1.2h0m0.3 -1.2h0m0.1 -0.6h0m0.2 -1.1h0m0.1 1.4h0m0.2 0.9h0m0.2 1.4h0m0.1 -1.2h0m0.1 1h0m0.1 0.9h0m0.1 1.3h0m0 -1.5h0m0.1 1.5h0m0.1 -0.9h0m0.2 0.9h0" fill="none" stroke="#ef343d" stroke-width="1.8" stroke-linecap="round"/>
<path d="M67.5 192.9V201M83.5 192.9V201M107.4 192.9V201M113.9 192.9V201M121.2 192.9V201M131.7 192.9V201M151.4 192.9V201M156.6 192.9V201M160.6 192.9V201M169.5 192.9V201M177.6 192.9V201M194.3 192.9V201M223.6 192.9V201M231.1 192.9V201M251 192.9V201M257.5 192.9V201M269.8 192.9V201M276.2 192.9V201M282.3 192.9V201M299.8 192.9V201M305.9 192.9V201M322.3 192.9V201" stroke="#5590f0" stroke-width="1.3"/>
<path d="M27.1 219.2L27.4 219.9L27.6 219.5L27.9 219.2L28.1 219.1L28.4 218L28.6 219L28.9 218.6L29.1 219.3L29.4 218.5L29.6 219.2L29.9 218.3L30.1 219.4L30.4 218.5L30.6 218.9L30.9 219.2L31.1 218.7L31.4 218.9L31.6 219.5L31.9 220L32.1 217.8L32.4 218.4L32.6 219.3L32.9 219.5L33.1 218.6L33.4 219L33.6 218.8L33.9 220.3L34.1 218.8L34.4 218.2L34.6 218L34.9 218.2L35.1 219.7L35.4 218.7L35.6 220.1L35.9 219.3L36.1 219.1L36.4 219.3L36.6 219.4L36.9 219.5L37.1 218.3L37.4 218.6L37.6 218.6L37.9 219L38.1 218.8L38.4 218.2L38.6 218.5L38.9 220L39.1 220.2L39.4 218.4L39.6 219.1L39.9 218.9L40.1 218.4L40.4 219.3L40.6 218.9L40.9 219.9L41.1 219.2L41.4 218.7L41.6 217.3L41.9 218.9L42.1 219.4L42.4 218.5L42.6 219.4L42.9 219.3L43.1 217.9L43.4 218.8L43.6 219.1L43.9 219.4L44.1 219L44.4 218.9L44.6 218.7L44.9 218.7L45.1 218.9L45.4 218.3L45.6 219.3L45.9 218.7L46.1 219.2L46.4 218.6L46.6 219.2L46.9 219L47.1 219.4L47.4 219.2L47.6 219.5L47.9 218.8L48.1 218.9L48.4 218.8L48.6 218.2L48.9 218.8L49.1 219.6L49.4 219.4L49.6 218.4L49.9 219.1L50.1 219.4L50.4 218.1L50.6 219.1L50.9 219.1L51.1 219.4L51.4 219.1L51.6 217.9L51.9 217.7L52.1 220.1L52.4 218.7L52.6 219.7L52.9 219.7L53.1 219L53.4 218.2L53.6 219.7L53.9 218.9L54.1 219.2L54.4 219.2L54.6 219.5L54.9 219.5L55.1 218.1L55.4 218.1L55.6 219L55.9 218.9L56.1 219.4L56.4 218.8L56.6 218.8L56.9 220.1L57.1 219.7L57.4 219.6L57.6 219.5L57.9 218.5L58.1 218.9L58.4 218.9L58.6 218.3L58.9 218.4L59.1 219L59.4 218.2L59.6 219.3L59.9 219.2L60.1 218.8L60.4 218.7L60.6 219.3L60.9 219.2L61.1 219.2L61.4 218.2L61.6 218L61.9 220.1L62.1 218.5L62.4 218.7L62.6 217.9L62.9 218.5L63.1 218.5L63.4 219.4L63.6 217.4L63.9 218.1L64.1 218.7L64.3 218.6L64.6 218.5L64.8 218.7L65.1 218L65.3 219.1L65.6 219.6L65.8 219L66.1 218.6L66.3 219.3L66.6 217.6L66.8 214.5L67.1 213.6L67.2 214.1L67.3 216.8L67.6 223.6L67.8 225.6L67.8 226.2L68.1 224.9L68.3 220.9L68.6 219.4L68.8 219.4L69.1 219.6L69.3 217.8L69.6 219.4L69.8 218.8L70.1 219.7L70.3 219.3L70.6 220.1L70.8 219.1L71.1 218.7L71.3 218.5L71.6 218.1L71.8 219.3L72.1 219.3L72.3 219.4L72.6 219.2L72.8 218.1L73.1 218.7L73.3 218.8L73.6 219L73.8 219.4L74.1 219.8L74.3 219.1L74.6 217.7L74.8 218.3L75.1 217.7L75.3 218.5L75.6 218.2L75.8 219.1L76.1 218.8L76.3 219.6L76.6 219.6L76.8 218.7L77.1 219.5L77.3 219L77.6 219.2L77.8 219.7L78.1 218.3L78.3 218.9L78.6 219.9L78.8 218.5L79.1 219.1L79.3 219L79.6 218.7L79.8 218.2L80.1 218.5L80.3 218.4L80.6 219.6L80.8 219.1L81.1 219.4L81.3 218.3L81.6 219.3L81.8 219L82.1 219.6L82.3 218.5L82.6 219.4L82.8 219.8L83.1 220L83.3 218.4L83.6 218.3L83.8 218.1L84.1 219.5L84.3 219.3L84.6 219.2L84.8 218.4L85.1 219.7L85.3 219.9L85.6 218.9L85.8 218.9L86.1 219.7L86.3 219.3L86.6 219.8L86.8 218.7L87.1 219.2L87.3 218.8L87.6 218.6L87.8 218.8L88.1 218.8L88.3 219.3L88.6 218.8L88.8 219L89.1 218.5L89.3 218.2L89.6 219.8L89.8 218.4L90.1 220L90.3 219.5L90.6 217.6L90.8 218.6L91.1 218.7L91.3 219L91.6 218.9L91.8 218.6L92.1 219.7L92.3 218.9L92.6 219.5L92.8 218.6L93.1 218.6L93.3 219.8L93.6 218.8L93.8 218.3L94.1 218.9L94.3 219.6L94.6 218.9L94.8 218.5L95.1 219.3L95.3 219.5L95.6 218.8L95.8 218.8L96.1 218.8L96.3 220.6L96.6 218.9L96.8 220L97.1 218.9L97.3 219.2L97.6 217.8L97.8 219.1L98.1 219L98.3 218.8L98.6 218.7L98.8 218.2L99.1 218.1L99.3 219.1L99.6 218.6L99.8 218.9L100.1 218.9L100.3 218.7L100.6 218.5L100.8 220.1L101.1 218.3L101.3 218.7L101.6 218.8L101.8 218.3L102.1 218.4L102.3 219.5L102.6 219.5L102.8 219.1L103.1 220.9L103.3 219.5L103.6 219.7L103.8 218.5L104.1 219.6L104.3 220L104.6 218.8L104.8 220L105.1 218.5L105.3 218.3L105.6 219L105.8 218.5L106.1 219.4L106.3 218.3L106.6 219L106.8 217.8L107.1 219L107.3 219.6L107.6 218.8L107.8 219.2L108.1 219.6L108.3 218.3L108.6 218.2L108.8 219L109.1 219.1L109.3 218.8L109.6 218.4L109.8 219.7L110.1 218.3L110.3 218.8L110.6 219L110.8 219.4L111.1 218.7L111.3 218.5L111.6 220.2L111.8 218.5L112.1 219.5L112.3 218.9L112.6 218.7L112.8 219L113.1 218.8L113.3 219.2L113.6 217.5L113.8 219L114.1 219L114.3 218.4L114.6 218.8L114.8 220.4L115.1 220.1L115.3 219.4L115.6 219.1L115.8 218.8L116.1 219.8L116.3 218.7L116.6 218.5L116.8 219.4L117.1 218.4L117.3 218.5L117.6 219.9L117.8 218.1L118.1 219L118.3 219.1L118.6 219.1L118.8 218.1L119.1 218.9L119.3 218.8L119.6 220.1L119.8 219.5L120.1 218.2L120.3 218.2L120.6 216.6L120.8 216.2L120.9 216.5L121.1 219.5L121.3 223.7L121.5 225.8L121.6 226.9L121.8 224.9L122.1 222.1L122.3 219.3L122.6 219.4L122.8 217.6L123.1 218.8L123.3 218.3L123.6 219.5L123.8 218L124.1 218.4L124.3 218.4L124.6 219.2L124.8 219.5L125.1 218.5L125.3 220.1L125.6 219.1L125.8 218.5L126.1 219.2L126.3 219L126.6 219.5L126.8 219.2L127.1 220.3L127.3 219.7L127.6 218.6L127.8 219.5L128.1 219.5L128.3 218.4L128.6 218.6L128.8 218.5L129.1 217.5L129.3 219.4L129.6 218.9L129.8 219.7L130.1 218.7L130.3 219L130.6 219.1L130.8 218.2L131.1 216.4L131.3 215.4L131.4 217.7L131.6 219.6L131.8 224.4L132 226.1L132.1 226.1L132.3 223.6L132.6 221.1L132.8 219.8L133.1 218.2L133.3 219.5L133.6 218.4L133.8 219.3L134.1 218.4L134.3 219.4L134.6 218.7L134.8 220.5L135.1 219.1L135.3 219.3L135.6 218.5L135.8 218.8L136.1 219L136.3 218.8L136.6 218.8L136.8 218.5L137.1 219.5L137.3 218.8L137.6 218.5L137.8 219.2L138.1 218.5L138.3 218.9L138.6 218.7L138.8 218.5L139.1 218.9L139.3 218.5L139.6 218.3L139.8 219.2L140.1 218.8L140.3 218.2L140.6 218.8L140.8 219.1L141.1 219.3L141.3 219.2L141.6 219.2L141.8 219.4L142.1 218.7L142.3 218.6L142.6 219.4L142.8 218.8L143.1 219L143.3 219.4L143.6 219.6L143.8 219.7L144.1 218.6L144.3 218.8L144.6 219.4L144.8 218.2L145.1 218.3L145.3 219.4L145.6 218.6L145.8 218.4L146.1 219.4L146.3 219.2L146.6 219.4L146.8 218.5L147.1 218.4L147.3 218.2L147.6 218.3L147.8 216.7L148.1 217.2L148.3 217.7L148.6 216.6L148.8 216.9L149.1 216.9L149.2 217.1L149.3 216.6L149.6 216.3L149.8 218.5L149.8 216.7L150.1 218.1L150.3 215.1L150.6 213.1L150.8 208.5L151.1 209.5L151.3 217.3L151.6 226.5L151.7 227.6L151.8 228.5L152.1 225L152.3 221.1L152.6 219.7L152.8 218.6L153.1 218.9L153.3 219.9L153.6 219.9L153.8 217.9L154.1 218.5L154.3 218.8L154.6 219.8L154.8 218.8L155.1 220.1L155.3 219.3L155.6 219.9L155.8 218.5L156.1 218.9L156.3 219.6L156.6 219.4L156.8 217.9L157.1 218.9L157.3 219.1L157.6 219.4L157.8 218.7L158.1 220L158.3 219.1L158.6 219.9L158.8 219.3L159.1 219.1L159.3 218.9L159.6 218.4L159.8 219.6L160.1 219.5L160.3 219.6L160.6 218.8L160.8 218.4L161.1 218.8L161.3 218.9L161.6 219L161.8 219.6L162.1 218.5L162.3 218.8L162.6 219.4L162.8 219.6L163.1 220.3L163.3 219.3L163.6 218.5L163.8 218.4L164.1 218.5L164.3 218.9L164.6 218.9L164.8 218.6L165.1 218.1L165.3 218.2L165.6 218L165.8 218.1L166.1 217.4L166.3 216.6L166.6 216.2L166.8 217.5L167.1 216.5L167.2 216.4L167.3 216.5L167.6 217.3L167.8 216.6L167.8 217L168.1 216.9L168.3 217L168.6 214.1L168.8 210.7L169.1 208.5L169.2 209.2L169.3 212.2L169.6 221.1L169.8 227.1L169.8 227.2L170.1 226.6L170.3 221.5L170.6 219.2L170.8 219.6L171.1 218.9L171.3 218.8L171.6 218.5L171.8 219.9L172.1 218.4L172.3 219.1L172.6 218.2L172.8 219L173.1 220.4L173.3 220.5L173.6 218.8L173.8 218.5L174.1 220L174.3 218.6L174.6 218L174.8 219.3L175.1 218.4L175.3 218.2L175.6 219.7L175.8 218.6L176.1 218.4L176.3 219.2L176.6 218.9L176.8 219.7L177.1 219.1L177.3 220L177.6 219.7L177.8 220.1L178.1 219.7L178.3 219.1L178.6 219.4L178.8 219.1L179.1 218.2L179.3 218.4L179.6 219.5L179.8 217.7L180.1 218.6L180.3 218.3L180.6 219L180.8 218.5L181.1 219.2L181.3 218.9L181.6 218.8L181.8 218.6L182.1 217.8L182.3 219.1L182.6 218.3L182.8 218.9L183.1 219.3L183.3 219.7L183.6 219.5L183.8 219.9L184.1 218.2L184.3 219.5L184.6 220L184.8 219.3L185.1 218.4L185.3 219.3L185.6 218.8L185.8 218.7L186.1 219.7L186.3 219L186.6 218.4L186.8 218.7L187.1 220.2L187.3 218.6L187.6 219.5L187.8 219.2L188.1 219.7L188.3 218.9L188.6 218.5L188.8 218.7L189.1 218.5L189.3 220.6L189.6 219.2L189.8 218.9L190.1 219.8L190.3 219.5L190.6 219L190.8 219.4L191.1 219.2L191.3 219.7L191.6 220L191.8 218.9L192.1 219L192.3 219L192.6 219.7L192.8 219L193.1 218.4L193.3 217L193.6 215.1L193.7 215.7L193.8 217.6L194.1 220.6L194.3 222.3L194.3 221.9L194.6 221.4L194.8 219.8L195.1 219.2L195.3 219.1L195.6 218.2L195.8 219.8L196.1 218.6L196.3 219.2L196.6 219.4L196.8 218.8L197.1 218L197.3 219.6L197.6 219.3L197.8 218.9L198.1 219.7L198.3 219.6L198.6 218.5L198.8 219L199.1 218.1L199.3 218.9L199.6 219.9L199.8 218.6L200.1 219.6L200.3 218.2L200.6 218.9L200.8 219.6L201.1 220.1L201.3 219.4L201.6 219.5L201.8 220.1L202.1 217.7L202.3 218.1L202.6 220.2L202.8 220.5L203.1 219.4L203.3 219.1L203.6 219.2L203.8 219.1L204.1 218.7L204.3 219.1L204.6 219L204.8 219.5L205.1 219.5L205.3 219.7L205.6 219.4L205.8 218.5L206.1 219.9L206.3 217.5L206.6 219.2L206.8 219.3L207.1 218.8L207.3 220.2L207.6 218.5L207.8 218.4L208.1 218.8L208.3 219.3L208.6 219.5L208.8 219.2L209.1 219.5L209.3 218.7L209.6 218.7L209.8 219.2L210.1 218.3L210.3 219.2L210.6 218.9L210.8 219.5L211.1 218.5L211.3 218.8L211.6 218.8L211.8 218.9L212.1 218.5L212.3 218.9L212.6 218.3L212.8 219.4L213.1 219.5L213.3 219.1L213.6 219L213.8 218.6L214.1 218.5L214.3 219L214.6 218.6L214.8 218.4L215.1 219.2L215.3 219.1L215.6 218.9L215.8 218.6L216.1 219.1L216.3 218.7L216.6 218.8L216.8 219.2L217.1 219.5L217.3 219.5L217.6 218.7L217.8 219.8L218.1 218.4L218.3 219L218.6 219.9L218.8 220.5L219.1 219.2L219.3 218.9L219.6 218.9L219.8 218.4L220.1 219L220.3 218.9L220.6 218.7L220.8 219.8L221.1 218.6L221.3 220.1L221.6 219.6L221.8 219.5L222.1 218.7L222.3 218.6L222.6 217L222.8 216.6L223.1 214.1L223.3 214.3L223.3 214L223.6 217.9L223.8 220.2L223.9 220.2L224.1 222.2L224.3 221.4L224.6 217.9L224.8 220L225.1 218.9L225.3 219L225.6 218.2L225.8 218.5L226.1 219.5L226.3 218.7L226.6 219.1L226.8 219L227.1 220.3L227.3 219.6L227.6 218.3L227.8 218.8L228.1 218.4L228.3 218.3L228.6 218.7L228.8 219.8L229.1 219.1L229.3 219.5L229.6 219L229.8 218.9L230.1 219.2L230.3 219.1L230.6 220.2L230.8 220.2L231.1 219.3L231.3 219.5L231.6 218L231.8 219L232.1 220.5L232.3 218.7L232.6 219.6L232.8 219.8L233.1 218.9L233.3 219L233.6 218.8L233.8 219.6L234.1 219.1L234.3 220L234.6 219.8L234.8 219.1L235.1 220.6L235.3 218.9L235.6 218.8L235.8 219L236.1 218.6L236.3 218.9L236.6 219.1L236.8 219.6L237.1 218.2L237.3 218.3L237.6 218.7L237.8 218.9L238.1 219.4L238.3 218.7L238.6 220L238.8 218.8L239.1 219L239.3 219.2L239.6 219.8L239.8 219.3L240.1 219.1L240.3 218.8L240.6 219.2L240.8 219.4L241.1 218.9L241.3 219.1L241.6 218L241.8 218.8L242.1 219.8L242.3 219.9L242.6 219.1L242.8 217.9L243.1 220.2L243.3 219L243.6 220.6L243.8 218.9L244.1 219.7L244.3 218.8L244.6 219.9L244.8 219.8L245.1 218.5L245.3 219.9L245.6 220.8L245.8 219L246.1 218.4L246.3 219.3L246.6 218.9L246.8 218.3L247.1 218.5L247.3 219.3L247.6 218.2L247.8 219.8L248.1 219.4L248.3 219L248.6 219.9L248.8 218.6L249.1 219.5L249.3 218.3L249.6 218.9L249.8 219.5L250.1 218.8L250.3 219.1L250.6 219.5L250.8 220L251.1 219.9L251.3 219.4L251.6 219L251.8 218.3L252.1 220.1L252.3 220.2L252.6 217.9L252.8 219.6L253.1 219.1L253.3 219.5L253.6 219.3L253.8 219L254.1 219.1L254.3 219.1L254.6 219.8L254.8 219L255.1 218.8L255.3 219.5L255.6 219.5L255.8 219.4L256.1 219.3L256.4 220L256.6 219.8L256.9 219.3L257.1 219L257.4 219.5L257.6 218L257.9 218.8L258.1 218.7L258.4 219.2L258.6 218.9L258.9 220.6L259.1 219.6L259.4 219.4L259.6 220.4L259.9 219.1L260.1 218.9L260.4 219.9L260.6 219.6L260.9 219.7L261.1 219.8L261.4 218.9L261.6 218.8L261.9 218.7L262.1 219.2L262.4 219.7L262.6 218.5L262.9 218.8L263.1 218.4L263.4 220.3L263.6 219.6L263.9 219.3L264.1 218.4L264.4 218.6L264.6 218.8L264.9 219.2L265.1 218.4L265.4 219L265.6 219.9L265.9 219.2L266.1 219.2L266.4 217.9L266.6 219L266.9 219.1L267.1 218.7L267.4 218.4L267.6 219.1L267.9 218.6L268.1 218.8L268.4 218.1L268.6 218.5L268.9 218L269.1 215.8L269.3 216.6L269.4 215.8L269.6 219.8L269.9 222.5L269.9 222.3L270.1 223L270.4 220.6L270.6 219.8L270.9 220.3L271.1 219.2L271.4 218.5L271.6 219.8L271.9 219.5L272.1 219L272.4 218.1L272.6 218L272.9 218.3L273.1 220L273.4 219.3L273.6 218.7L273.9 219.8L274.1 220L274.4 218.7L274.6 219.4L274.9 218.1L275.1 218.9L275.4 219L275.6 216.7L275.7 217.7L275.9 217.9L276.1 219.7L276.3 220.7L276.4 220.9L276.6 221L276.9 220.1L277.1 219.9L277.4 219.8L277.6 219.8L277.9 218.8L278.1 219.4L278.4 218.9L278.6 218.7L278.9 220.3L279.1 219.3L279.4 219.2L279.6 217.9L279.9 219L280.1 219.6L280.4 219L280.6 218.7L280.9 219L281.1 215.7L281.4 212.5L281.6 211.9L281.9 216.2L282.1 222.7L282.2 223.8L282.4 224.1L282.6 222.3L282.9 220.3L283.1 220.4L283.4 219L283.6 219.5L283.9 218.2L284.1 219.4L284.4 219.6L284.6 219.9L284.9 219.3L285.1 219.5L285.4 219.4L285.6 219.8L285.9 220.4L286.1 219.3L286.4 218.7L286.6 219.5L286.9 219.1L287.1 219.5L287.4 219.6L287.6 219.3L287.9 218.9L288.1 219.3L288.4 218.4L288.6 219.3L288.9 218.6L289.1 219.4L289.4 219.2L289.6 219L289.9 218.5L290.1 219.2L290.4 218.8L290.6 219.1L290.9 219.6L291.1 219.7L291.4 218.4L291.6 219.7L291.9 220L292.1 219.8L292.4 219.3L292.6 219.1L292.9 220.2L293.1 219L293.4 218.3L293.6 219.2L293.9 219.3L294.1 218.6L294.4 218.5L294.6 220.3L294.9 219.2L295.1 219.6L295.4 218.8L295.6 218.3L295.9 219.1L296.1 219.9L296.4 218.8L296.6 218.2L296.9 219.1L297.1 219L297.4 219.2L297.6 218.6L297.9 219L298.1 218.9L298.4 219.7L298.6 219.3L298.9 219.7L299.1 219.2L299.4 217.9L299.6 218.1L299.9 219.5L300.1 219.7L300.4 219.7L300.6 219.1L300.9 218.1L301.1 218.9L301.4 219.4L301.6 220L301.9 219L302.1 218.9L302.4 218.7L302.6 219.8L302.9 219.7L303.1 218.1L303.4 219.9L303.6 218.7L303.9 218.3L304.1 218.3L304.4 218.7L304.6 220.1L304.9 219.7L305.1 217.2L305.2 217.7L305.4 218.7L305.6 220.3L305.8 220.5L305.9 219.9L306.1 220.3L306.4 219.4L306.6 218.3L306.9 219.3L307.1 218.4L307.4 218.2L307.6 220.1L307.9 219.7L308.1 220L308.4 219.3L308.6 219L308.9 219.1L309.1 218.4L309.4 219.6L309.6 219.3L309.9 219L310.1 218.1L310.4 219.1L310.6 220.1L310.9 220L311.1 219.7L311.4 219L311.6 219.3L311.9 219.5L312.1 219.3L312.4 219.8L312.6 218.8L312.9 217.8L313.1 217.8L313.4 218.7L313.6 218.4L313.9 219.6L314.1 219.8L314.4 219.2L314.6 219.5L314.9 219.2L315.1 219.3L315.4 218.9L315.6 219L315.9 219.9L316.1 219L316.4 219.2L316.6 219.9L316.9 219.8L317.1 219L317.4 219.3L317.6 218.6L317.9 219.3L318.1 219.4L318.4 219.2L318.6 219.3L318.9 219.4L319.1 217.7L319.4 218.7L319.6 219.2L319.9 218.9L320.1 218.6L320.4 219.1L320.6 220.1L320.9 219.1L321.1 218.8L321.4 218.9L321.6 218.5L321.9 219.5L322.1 218.6L322.4 219.7L322.6 219.7L322.9 219.5L323.1 219.8L323.4 219.1L323.6 218.2" fill="none" stroke="#55bd76" stroke-width="2" stroke-linejoin="round"/>
<rect x="27.1" y="19.6" width="296.5" height="218.2" fill="none" stroke="#1a1a1a" stroke-width="1.5"/>
<path d="M27.1 237.8v-4M56.8 237.8v-2.2M86.4 237.8v-4M116 237.8v-2.2M145.7 237.8v-4M175.3 237.8v-2.2M205 237.8v-4M234.6 237.8v-2.2M264.3 237.8v-4M293.9 237.8v-2.2M323.6 237.8v-4" stroke="#1a1a1a" stroke-width="1.3"/>
<text x="27.1" y="252.3" text-anchor="middle" font-size="12" font-weight="bold">10</text>
<text x="86.4" y="252.3" text-anchor="middle" font-size="12" font-weight="bold">20</text>
<text x="145.7" y="252.3" text-anchor="middle" font-size="12" font-weight="bold">30</text>
<text x="205" y="252.3" text-anchor="middle" font-size="12" font-weight="bold">40</text>
<text x="264.3" y="252.3" text-anchor="middle" font-size="12" font-weight="bold">50</text>
<text x="323.6" y="252.3" text-anchor="middle" font-size="12" font-weight="bold">60</text>
<text x="175.4" y="276" text-anchor="middle" font-size="14.3" font-weight="bold">2 theta / <tspan dy="0.9">°</tspan></text>
<text transform="translate(11.9 128.7) rotate(-90)" text-anchor="middle" font-size="14.4" font-weight="bold">Intensity (a.u.)</text>
<text x="7.4" y="16.3" font-size="28" font-weight="bold">a</text>
<text x="30.3" y="34.6" font-size="14.4">LGLZO_0</text>
<text x="269.5" y="30.8" font-size="11.45">Observed</text>
<text x="269.5" y="44.9" font-size="11.45">Calculated</text>
<text x="269.5" y="58.5" font-size="11.45">Difference</text>
<text x="269.5" y="72.4" font-size="11.45">Cubic</text>
<circle cx="250.9" cy="27.4" r="0.9" fill="#ef343d"/>
<path d="M237.6 41.3H263.9" stroke="#444" stroke-width="1.8"/>
<path d="M237.6 54.8H263.9" stroke="#55bd76" stroke-width="2"/>
<path d="M250.9 64.8V72.8" stroke="#8fb6ee" stroke-width="1.3"/>
<path d="M389.7 175.4L421.4 175.9L424.7 175.7L425.5 175.4L426.2 174.9L426.7 174.2L427 173L427.4 168.5L428.2 140.2L428.4 136.2L429.5 169.4L429.7 172.3L429.9 173.7L430.3 174.5L430.8 175.2L431.9 175.8L433.7 176.1L438.1 176.4L441.3 176.4L441.9 176.2L442.2 175.7L443.1 173.4L443.3 173.6L443.9 175.5L444.2 176.1L444.6 176.4L445.5 176.5L454.7 177L456.2 176.9L470.7 177.2L474.6 177.1L475.8 176.9L476.6 176.7L477.4 176.1L477.9 175.3L478.2 174L478.4 171.8L478.7 165.2L479.4 138.7L479.6 134.6L480.6 168.6L481 173.8L481.2 175L481.5 175.8L482.2 176.5L483.1 176.9L484.4 177.1L486 177.1L487.1 176.9L487.8 176.6L488.3 176L488.7 175.1L489 173L489.3 167.8L489.9 144.6L490.2 139.6L490.4 143.7L491.1 169.1L491.5 173.6L491.9 175.9L492.4 176.6L493.2 177.1L494.3 177.4L495.9 177.6L499.9 177.8L502.9 177.8L504.7 177.5L505.9 177L506.5 176.5L506.9 175.9L507.5 174.2L507.8 171.7L508 167.5L508.4 150.2L509 104.5L509.2 96.9L510 153.8L510.4 168.9L510.7 173.2L511.1 175.2L511.9 176.7L512.3 177.2L513 177.6L514 177.9L515.4 178.2L516.6 178.2L517.2 178L517.7 177.2L518.3 174.3L518.6 173.7L518.8 174.2L519.5 177.4L519.9 177.9L520.3 178.2L522.3 178.2L523.8 177.8L524.3 177.3L524.7 176.8L525.3 175.4L525.7 172.2L526 165.1L526.8 118.9L527 114.8L527.2 121.9L527.8 157.7L528.2 170.7L528.4 173.8L528.8 176L529.5 177.4L530.6 178.1L532.3 178.5L534 178.5L534.4 178.1L535.1 176.6L535.3 176.3L536.3 178.3L536.7 178.7L537.3 178.8L542.4 179.1L546.6 179.1L548.4 178.8L548.9 178.5L549.3 178.1L549.6 177.5L549.9 176.4L550.2 173L551 149.3L551.2 146.3L552 167.6L552.4 175L552.6 176.9L552.9 178L553.4 178.6L554.2 179.1L555.9 179.5L559.1 179.8L565 180.1L572.5 180.3L574.9 180.2L576.4 180.1L577.3 179.8L578 179.2L578.3 178.6L578.5 177.7L578.9 173.7L579.9 147.3L580.1 150.5L580.7 169.2L581 175.3L581.2 177.5L581.5 178.6L581.9 179.4L582.4 179.9L583.9 180.3L584.8 180.4L585.2 180.2L585.6 179.8L586.3 178L586.5 177.7L587.5 180.1L587.8 180.4L588.4 180.6L596 181L602 181L604.2 180.8L604.8 180.5L605.2 179.7L606 175.4L606.2 174.6L606.4 175.4L607.1 179.3L607.5 180.3L607.8 180.6L608.4 180.8L610.2 180.8L610.9 180.4L611.3 179.6L612.3 174L612.5 174.7L613.2 179.4L613.5 180.1L613.9 180.6L615.3 180.9L618.8 180.9L621 180.7L622.3 180.3L622.8 179.9L623.1 179.3L623.3 178.3L623.6 176.3L623.9 170.9L624.4 156.2L624.6 154.6L624.8 157.7L625.5 173.9L625.8 177.6L626.1 179.1L626.4 179.6L626.8 180L627.8 180.3L628.4 180.2L628.8 180L629.2 179.1L629.6 176.4L630.3 166.6L630.5 164.9L630.8 167.1L631.3 175.8L631.6 178.4L631.9 179.3L632.3 179.9L632.8 180.1L633.6 179.9L634.2 179.5L634.7 178.6L635 177.1L635.2 174.7L635.6 164.6L636.2 138.5L636.4 134.6L637.2 164.5L637.5 173.3L637.9 177.7L638.2 178.9L638.7 179.7L639.2 180.2L640 180.5L642.7 180.9L647.7 180.8L649.2 180.6L650 180.2L650.6 179.5L651.2 178L651.7 175.5L652.6 170.4L652.8 169.4L653.1 169L653.3 169.3L653.6 170.1L654.5 175.6L655 177.7L655.5 179L656.1 179.8L656.6 179.9L657 179.6L657.3 179.2L657.6 178.4L658.1 176.3L659 170.6L659.2 169.6L659.4 169.4L659.6 169.7L659.8 170.7L660.6 176L661.1 178.4L661.6 179.9L662.3 180.6L663 180.9L664.1 181.1L666.9 181.2L667.5 180.9L668.2 179.5L668.4 179.4L669.2 180.8L669.8 181.3L671.8 181.5L674.5 181.4L675 181.3L675.3 180.9L676.3 178.4L676.5 178.8L677.2 180.9L677.8 181.4" fill="none" stroke="#363636" stroke-width="1.4" stroke-linejoin="round"/>
<path d="M389.7 175.4h0m0.1 -0.7h0m0.1 1.2h0m0.3 -0.6h0m0.5 -0.5h0m0.1 0.9h0m0.1 -0.7h0m0.1 0.9h0m0.1 -0.5h0m0 -1h0m0.1 0.6h0m0.1 0.7h0m0.3 -0.7h0m0.3 1h0m0.3 -0.9h0m0.3 1.1h0m0.1 -0.7h0m0.1 -0.6h0m0.1 0.9h0m0.5 -1.1h0m0.1 0.8h0m0.3 1.2h0m0.2 -2h0m0 0.8h0m0.5 0.4h0m0.2 -0.5h0m0.1 0.6h0m0.5 -1.3h0m0.1 0.7h0m0.4 0.5h0m0.1 -0.9h0m0.1 0.8h0m0.2 -0.6h0m0.2 0.9h0m0 -0.6h0m0.3 -0.5h0m0.3 1.2h0m0.2 -0.9h0m0.4 0.6h0m0.1 -0.8h0m0.2 0.6h0m0.1 -1.1h0m0.1 1.6h0m0.1 -0.6h0m0.1 -0.8h0m0.1 2h0m0 -1.6h0m0.2 1.1h0m0.1 -0.6h0m0.3 -0.8h0m0.1 1.2h0m0.2 -0.6h0m0.5 -0.8h0m0.2 1.4h0m0.1 -1.7h0m0.1 0.7h0m0.2 0.7h0m0.2 -0.7h0m0.2 0.9h0m0.3 0.6h0m0.1 -1h0m0.2 0.7h0m0.1 -0.9h0m0.1 0.8h0m0.3 -1.1h0m0.1 0.8h0m0.3 -0.5h0m0.3 0.5h0m0.1 -0.9h0m0.1 0.8h0m0.2 0.6h0m0.1 -0.8h0m0.2 -0.8h0m0.1 0.9h0m0.2 0.5h0m0.1 -0.8h0m0.1 0.6h0m0.2 -1h0m0 0.9h0m0.1 -0.6h0m0.4 -1.2h0m0.1 1.3h0m0.1 1h0m0.1 -0.8h0m0 1.5h0m0.1 -1.2h0m0.3 -0.6h0m0 0.8h0m0.2 -1.2h0m0.2 0.7h0m0.4 0.7h0m0 -1.2h0m0.1 0.6h0m0.1 -0.7h0m0.1 0.8h0m0.1 -0.6h0m0 0.6h0m0.1 -0.8h0m0.1 1.4h0m0.2 -1h0m0.1 0.6h0m0.3 -0.6h0m0.5 0.3h0m0.3 -0.9h0m0 0.8h0m0.4 -0.4h0m0.1 -0.7h0m0.1 1.3h0m0.2 -0.7h0m0.1 0.6h0m0.1 -0.8h0m0.1 1.2h0m0.3 -0.9h0m0.2 0.9h0m0.2 -0.9h0m0.1 0.8h0m0.4 -0.7h0m0.5 0.5h0m0.1 -0.6h0m0.3 1.2h0m0.2 -0.6h0m0.6 -0.2h0m0.1 0.6h0m0.1 -0.7h0m0.6 0.8h0m0.1 -1.5h0m0.1 1.4h0m0.4 -0.6h0m0.2 0.5h0m0.2 -0.8h0m0.2 0.6h0m0.2 0.8h0m0.2 -0.7h0m0.1 -0.9h0m0.1 1.1h0m0.2 -0.6h0m0.1 0.5h0m0.4 -0.5h0m0.2 0.5h0m0.1 -1h0m0 1.3h0m0.1 -0.7h0m0.3 -0.6h0m0.2 0.9h0m0.6 0h0m0.2 0.5h0m0.1 -0.8h0m0.1 0.7h0m0.1 -1h0m0.3 0.7h0m0.1 -0.6h0m0.2 0.7h0m0.1 0.7h0m0.1 -1.4h0m0.1 0.7h0m0.1 0.7h0m0.1 -0.8h0m0.2 -0.8h0m0.1 1.4h0m0.1 -1.1h0m0.4 0.5h0m0.3 0.6h0m0.1 -1.2h0m0 0.8h0m0.1 -0.9h0m0.2 0.6h0m0.1 -0.7h0m0.2 1.4h0m0.1 -0.9h0m0.1 0.7h0m0.2 -0.6h0m0.1 0.9h0m0.1 -1.4h0m0.2 0.6h0m0.3 -0.7h0m0.1 0.9h0m0.4 0.4h0m0.1 -0.8h0m0.1 -0.8h0m0.3 0.7h0m0.1 0.7h0m0.3 -0.8h0m0.2 0.8h0m0.1 -0.7h0m0.1 0.7h0m0.1 -1.1h0m0 1h0m0.1 -0.6h0m0.3 0.6h0m0.3 -0.8h0m0.1 0.8h0m0.1 -1h0m0.1 -0.8h0m0.1 1.3h0m0.1 0.5h0m0.2 -0.7h0m0.2 0.6h0m0.1 -1.2h0m0.1 1.1h0m0.1 -0.7h0m0.1 0.7h0m0 -0.6h0m0.1 -0.6h0m0.2 0.9h0m0.1 -0.8h0m0.1 0.9h0m0.1 -1.1h0m0.1 -0.6h0m0.1 1.7h0m0 -1h0m0.4 -0.6h0m0 0.6h0m0.1 -0.6h0m0.4 -0.8h0m0.1 -0.7h0m0.3 -1.6h0m0.1 -0.6h0m0.1 -2.1h0m0.1 -2.4h0m0.1 -4h0m0.1 -1.6h0m0.1 -3.4h0m0.1 -4.3h0m0 -3.3h0m0.1 -2.7h0m0.1 -4.3h0m0.1 -3.1h0m0.1 -1.2h0m0 -1.6h0m0.1 -0.8h0m0.1 0.8h0m0.1 2.8h0m0.1 2.2h0m0 4.4h0m0.1 1.9h0m0.1 4.4h0m0.1 2.6h0m0.1 4.2h0m0 2.9h0m0.1 1.7h0m0.1 2.4h0m0.1 1.5h0m0.1 2.1h0m0 1.1h0m0.1 0.7h0m0.2 1h0m0.1 1.2h0m0.4 1.3h0m0 -0.7h0m0.1 0.8h0m0.1 -1.3h0m0.1 1.5h0m0.3 0.7h0m0.1 -1.6h0m0.1 1.1h0m0.1 -0.5h0m0.1 0.6h0m0.1 0.6h0m0.1 -1h0m0.2 1h0m0.5 -0.4h0m0.2 0.5h0m0.1 -0.5h0m0.2 0.5h0m0.1 -0.8h0m0.1 0.7h0m0.1 -0.7h0m0.1 1h0m0.1 -0.7h0m0.1 0.7h0m0.3 -0.7h0m0.6 0.2h0m0.1 0.7h0m0 -0.8h0m0.5 1.6h0m0.1 -1.9h0m0.2 1.4h0m0 -1.2h0m0.1 0.7h0m0.2 -0.8h0m0.1 0.8h0m0.3 -0.5h0m0.5 0.7h0m0 -0.6h0m0.4 0.6h0m0.2 -1.1h0m0.1 0.9h0m0.1 -0.7h0m0.2 1h0m0.2 -1.2h0m0 0.7h0m0.1 0.5h0m0.2 -0.9h0m0.1 0.5h0m0.4 -0.5h0m0.2 1.1h0m0.2 -0.8h0m0.2 0.6h0m0.2 -1.1h0m0.1 0.8h0m0.2 -0.6h0m0.2 0.5h0m0.2 -0.6h0m0.1 0.6h0m0.1 0.9h0m0.1 -1.8h0m0.1 0.9h0m0.4 0.8h0m0.2 -0.7h0m0.1 -1h0m0.1 0.8h0m0.5 0.5h0m0.1 -0.8h0m0.4 0.5h0m0.1 -0.8h0m0.3 -0.9h0m0.3 -0.8h0m0.4 -0.8h0m0.2 0.9h0m0.1 -0.8h0m0.1 0.6h0m0.2 1.1h0m0.2 1.1h0m0.6 0.8h0m0.1 -0.8h0m0.3 0.8h0m0.2 -0.7h0m0.3 1h0m0.1 -1h0m0.3 0.8h0m0.5 0.1h0m0.2 -0.8h0m0.1 1.3h0m0.1 -0.6h0m0.1 -0.9h0m0.2 0.7h0m0.4 0.5h0m0.1 -1.1h0m0.1 0.6h0m0.3 0.5h0m0.2 -0.8h0m0.3 -0.6h0m0.1 1h0m0.2 -0.7h0m0.2 0.9h0m0.5 -0.7h0m0.1 0.7h0m0.1 -0.9h0m0.1 0.9h0m0.1 -1.4h0m0.1 1.5h0m0.1 -0.7h0m0.4 -0.4h0m0.2 1.3h0m0.1 -0.9h0m0.3 -0.7h0m0.1 0.8h0m0.4 1h0m0 -0.9h0m0.2 1.2h0m0.1 -1h0m0.1 -0.7h0m0.1 0.7h0m0.3 -0.7h0m0.1 1.6h0m0.1 -0.6h0m0.2 -0.8h0m0 0.8h0m0.4 -0.5h0m0 0.6h0m0.1 -0.8h0m0.3 -0.7h0m0.1 2h0m0.1 -1.2h0m0.1 -0.7h0m0.1 1.4h0m0 -1h0m0.2 0.7h0m0.1 0.8h0m0.1 -1.4h0m0.1 0.6h0m0.1 0.5h0m0.1 -0.8h0m0.1 1.3h0m0 -0.9h0m0.1 -0.6h0m0.2 0.6h0m0.2 0.7h0m0.1 -0.9h0m0.4 0.9h0m0.1 -1h0m0.2 0.5h0m0.4 -0.6h0m0.3 -0.5h0m0 0.6h0m0.1 0.7h0m0.1 -1.3h0m0.2 0.9h0m0.5 -0.4h0m0.4 0.6h0m0.3 -0.6h0m0.4 1.3h0m0.1 -0.9h0m0.2 -1.3h0m0.1 1.3h0m0.3 0.8h0m0.1 -1.2h0m0.1 0.9h0m0.2 -0.7h0m0.3 0.6h0m0.2 -0.6h0m0.2 -0.9h0m0.1 1.5h0m0.1 -0.6h0m0.1 0.5h0m0.3 -0.5h0m0.5 0.1h0m0.3 -0.6h0m0 0.7h0m0.1 0.6h0m0.1 -1.1h0m0.3 0.6h0m0.4 -0.4h0m0.3 0.8h0m0.2 -0.9h0m0.1 0.5h0m0.1 0.8h0m0.1 -2h0m0.1 1.4h0m0.2 -0.6h0m0.4 0.7h0m0 -0.7h0m0.1 0.6h0m0.3 -0.8h0m0.2 0.9h0m0.2 -0.9h0m0.2 1h0m0.1 -1.2h0m0.1 1.2h0m0.2 -0.9h0m0.2 0.6h0m0 -1h0m0.1 1.1h0m0.1 -0.9h0m0.2 0.8h0m0.3 -0.6h0m0.1 0.7h0m0 -0.9h0m0.1 1.3h0m0.2 -1.2h0m0.3 0.9h0m0.1 -1.1h0m0.1 0.6h0m0.3 0.4h0m0.3 -0.5h0m0.1 -0.5h0m0.1 1.4h0m0.1 -1.3h0m0.1 0.6h0m0.2 0.6h0m0.1 -0.9h0m0.3 0.6h0m0.2 -0.6h0m0.2 0.7h0m0.5 0.2h0m0.2 -1h0m0.1 0.6h0m0.4 -0.5h0m0 0.9h0m0.2 -0.6h0m0.2 0.5h0m0 -1h0m0.2 1.2h0m0.1 -0.6h0m0.3 -0.9h0m0.1 1.4h0m0.1 -1h0m0.3 1h0m0.3 -1h0m0.1 0.8h0m0.1 -0.7h0m0.2 0.7h0m0.2 -0.7h0m0.4 0.4h0m0.3 -1.2h0m0.1 2h0m0 -0.8h0m0.3 -0.7h0m0.1 0.9h0m0 -0.8h0m0.1 0.6h0m0.3 -0.7h0m0 1h0m0.4 -0.7h0m0.3 0.7h0m0.2 -0.5h0m0.3 0.6h0m0 -1.5h0m0.1 0.6h0m0.2 0.6h0m0.1 -0.5h0m0.2 -0.7h0m0.1 1h0m0.1 -0.7h0m0.1 0.7h0m0.3 -0.5h0m0.2 -1.2h0m0.2 1h0m0.3 -1.1h0m0.1 -0.9h0m0.1 0.6h0m0.3 -1h0m0 -1.8h0m0.2 -1.9h0m0.1 -1.4h0m0.1 -1.3h0m0 -2.7h0m0.1 -1.6h0m0.1 -4.1h0m0.1 -2.1h0m0.1 -4.4h0m0 -3.3h0m0.1 -3.3h0m0.1 -5.2h0m0.1 -2.2h0m0.1 -3.5h0m0.1 -1.9h0m0.1 2.5h0m0.1 1.8h0m0.1 3h0m0 2.4h0m0.1 5.4h0m0.1 3.8h0m0.1 3.5h0m0.1 3.4h0m0 4.4h0m0.1 1.3h0m0.1 2h0m0.1 2.3h0m0.1 0.8h0m0 1.5h0m0.1 0.9h0m0.2 1h0m0.1 1.2h0m0 0.7h0m0.1 -0.8h0m0.1 0.9h0m0.2 0.9h0m0.1 -1.5h0m0.1 0.8h0m0.1 1.4h0m0.1 -0.7h0m0.1 0.9h0m0.5 -0.6h0m0.5 0.6h0m0.1 -1h0m0.1 1h0m0.1 0.6h0m0.1 -0.9h0m0.4 0.5h0m0.1 -0.6h0m0.4 1h0m0 -1h0m0.2 1.1h0m0.2 -1.2h0m0.5 0.6h0m0.1 -0.9h0m0.1 1h0m0.4 -0.4h0m0.1 0.8h0m0.3 0.8h0m0.1 -1.7h0m0.4 -0.3h0m0.1 0.8h0m0.2 -0.9h0m0.1 1.3h0m0 -1.7h0m0.1 1.6h0m0.1 -1.4h0m0.2 1.2h0m0.1 -0.8h0m0.2 0.9h0m0.1 -0.6h0m0.1 -0.6h0m0.4 -0.4h0m0.2 -0.7h0m0.2 -1.3h0m0.2 -1h0m0.1 -1.3h0m0.1 -0.8h0m0.1 -2.2h0m0.1 -3.6h0m0.1 -1.5h0m0 -4h0m0.1 -1.8h0m0.1 -2.9h0m0.1 -4h0m0.1 -1.9h0m0 -4.1h0m0.1 -2.1h0m0.1 -1.9h0m0.1 -1.6h0m0.1 1.8h0m0 1.1h0m0.1 1.9h0m0.1 3h0m0.1 2.8h0m0.1 3.5h0m0 3.2h0m0.1 3.2h0m0.1 2.8h0m0.1 2.2h0m0.1 1.7h0m0 2.3h0m0.1 2.2h0m0.1 1.7h0m0.1 0.8h0m0.1 0.9h0m0.2 1.1h0m0.1 0.7h0m0.1 -1h0m0.1 0.8h0m0.1 0.7h0m0.5 -0.6h0m0.3 0.9h0m0.2 0.8h0m0.1 -0.8h0m0.2 0.8h0m0.3 -1.2h0m0.1 0.8h0m0.4 0.6h0m0.5 -0.7h0m0.4 0.4h0m0 -0.6h0m0.3 0.8h0m0.2 -0.7h0m0.3 1h0m0 -1.7h0m0.1 1.3h0m0.3 -0.5h0m0.2 1h0m0.1 -1.2h0m0.1 0.7h0m0.1 -0.6h0m0.2 0.9h0m0.2 -1.1h0m0.1 0.7h0m0.6 0.3h0m0.5 -0.8h0m0.2 0.7h0m0.2 0.8h0m0.3 -0.5h0m0.1 -0.7h0m0.3 1.3h0m0.1 -1.5h0m0.1 0.6h0m0.2 0.9h0m0.1 -1.8h0m0.1 1.1h0m0.5 -0.3h0m0.1 -0.8h0m0.2 0.9h0m0.2 -0.6h0m0.1 0.6h0m0.2 -0.9h0m0.1 1.3h0m0.4 -0.4h0m0.5 0.6h0m0.1 -0.9h0m0.1 0.9h0m0.1 -0.7h0m0.2 -0.9h0m0.1 1.3h0m0.5 -0.3h0m0.6 0h0m0.3 -0.7h0m0.1 0.6h0m0.2 0.6h0m0.1 -0.6h0m0.2 0.7h0m0.1 -1.4h0m0.1 1h0m0.1 -1.4h0m0.2 0.8h0m0.1 -0.9h0m0.1 1.8h0m0.1 -0.9h0m0.1 1.2h0m0 -1.9h0m0.2 -0.7h0m0.1 0.9h0m0.1 -0.8h0m0.1 1.1h0m0.1 -0.9h0m0.1 -0.8h0m0.1 1h0m0 -1h0m0.1 0.7h0m0.1 -1.3h0m0.1 1.1h0m0.1 -0.7h0m0 0.6h0m0.2 -1h0m0.2 -1.1h0m0.1 -1h0m0.2 -0.7h0m0.1 -1.9h0m0 -1.5h0m0.1 -1.1h0m0.1 -3h0m0.1 -2.2h0m0.1 -3h0m0 -4.1h0m0.1 -6.3h0m0.1 -4.6h0m0.1 -5.9h0m0.1 -6.5h0m0 -7.6h0m0.1 -6.6h0m0.1 -8h0m0.1 -5h0m0.1 -6h0m0 -2.7h0m0.1 1.9h0m0.1 1.4h0m0.1 3.4h0m0.1 5.1h0m0 8.7h0m0.1 4.9h0m0.1 9.2h0m0.1 6.2h0m0.1 6.1h0m0 5.5h0m0.1 5.3h0m0.1 4.8h0m0.1 2.7h0m0.1 4.8h0m0.1 3.5h0m0.1 1h0m0.1 1.1h0m0.1 1.3h0m0.1 0.8h0m0.2 1.5h0m0.3 0.7h0m0.2 -1.1h0m0 1.5h0m0.2 0.7h0m0.1 -0.6h0m0.1 0.8h0m0.4 -0.3h0m0.1 1.2h0m0.1 -1.5h0m0.2 1.2h0m0.2 -1.1h0m0.1 1h0m0.4 -0.7h0m0.1 0.7h0m0 -0.8h0m0.1 0.8h0m0.1 0.8h0m0.1 -1.2h0m0.1 1.2h0m0.3 -0.9h0m0.1 0.6h0m0.2 -1.1h0m0.2 1h0m0 1.4h0m0.1 -1.8h0m0.2 0.7h0m0.1 -0.6h0m0.4 0.4h0m0.4 0.4h0m0.1 -0.7h0m0.3 1h0m0.1 -1.3h0m0.3 0.9h0m0.2 -0.6h0m0.4 -0.6h0m0.2 1.4h0m0 -1.3h0m0.1 -1.1h0m0.1 0.6h0m0.2 -0.8h0m0.2 -1h0m0.2 -0.6h0m0 -0.7h0m0.1 1h0m0.1 -0.7h0m0.1 -0.7h0m0.2 0.6h0m0.1 1h0m0.2 0.5h0m0.1 0.9h0m0.1 0.6h0m0.2 0.6h0m0.2 0.6h0m0.5 0.7h0m0.1 -1.4h0m0 1.1h0m0.1 -0.6h0m0.3 0.5h0m0.3 -0.5h0m0.1 0.6h0m0.4 -0.5h0m0 0.6h0m0.1 -0.7h0m0.4 -0.5h0m0.1 0.6h0m0.2 0.5h0m0.3 -0.5h0m0.1 -0.7h0m0.2 1.2h0m0.2 -1.4h0m0.1 0.9h0m0.2 -1h0m0.2 1h0m0.1 -1h0m0.3 0.5h0m0.3 -0.5h0m0.1 1.3h0m0.1 -1.5h0m0.4 -0.7h0m0.3 -1.5h0m0.1 1.4h0m0.1 -1h0m0.1 -0.9h0m0 -1h0m0.2 -1.1h0m0.1 -1.2h0m0.1 -0.8h0m0 -2.6h0m0.1 -2.9h0m0.1 -2.4h0m0.1 -3.1h0m0.1 -4.7h0m0 -4.7h0m0.1 -4.4h0m0.1 -5.9h0m0.1 -5.3h0m0.1 -4.8h0m0 -7.1h0m0.1 -1.9h0m0.1 -4.5h0m0.2 1.8h0m0.1 2.8h0m0.1 5.7h0m0.1 5.4h0m0.1 6.8h0m0 5.2h0m0.1 6h0m0.1 4.8h0m0.1 3.4h0m0.1 3.5h0m0 2.9h0m0.1 2.4h0m0.1 3h0m0.1 1.4h0m0.1 0.5h0m0 1.3h0m0.1 1.3h0m0.2 0.8h0m0.1 0.8h0m0.1 0.9h0m0.3 -0.5h0m0 1h0m0.6 -0.1h0m0.2 0.8h0m0.1 -0.7h0m0.2 1.2h0m0.2 -0.9h0m0.1 1.2h0m0.1 -0.7h0m0.5 0h0m0.3 0.5h0m0.1 1.5h0m0.1 -1.6h0m0.5 0.6h0m0.1 -0.9h0m0.1 0.8h0m0.1 0.7h0m0.3 -2h0m0 0.9h0m0.1 0.5h0m0.4 -0.6h0m0.3 0.5h0m0.1 0.9h0m0.1 -0.8h0m0.4 -0.5h0m0.3 -0.6h0m0.1 0.8h0m0.1 -0.7h0m0.1 -0.7h0m0.1 0.6h0m0 -1.4h0m0.1 0.7h0m0.3 -1.4h0m0 0.6h0m0.4 0.7h0m0.4 0.7h0m0 0.6h0m0.1 -1.3h0m0.2 1.5h0m0.1 -0.6h0m0.2 0.8h0m0.2 -0.8h0m0 0.7h0m0.2 0.6h0m0.1 -0.9h0m0.2 0.7h0m0.2 0.7h0m0.1 -0.9h0m0.2 1.2h0m0.1 -2.1h0m0.1 1h0m0.1 -0.6h0m0.1 1h0m0.2 -0.6h0m0.2 0.7h0m0.2 -0.6h0m0.1 0.7h0m0.1 -0.7h0m0.6 0.8h0m0.2 -0.6h0m0.6 -0.1h0m0.3 1.5h0m0.1 -1.7h0m0 1.9h0m0.1 -2h0m0.1 1.3h0m0.1 -1.3h0m0.3 0.6h0m0.2 -0.9h0m0.1 0.7h0m0.1 0.6h0m0.2 -1.1h0m0 1.1h0m0.2 -0.5h0m0.1 -0.7h0m0.1 1.5h0m0.1 -1.3h0m0.2 1h0m0.1 -0.9h0m0.4 0.4h0m0.5 -0.4h0m0.1 1.2h0m0.1 -0.6h0m0.1 -0.7h0m0.2 0.6h0m0.3 -1h0m0.1 0.8h0m0.3 1.1h0m0.1 -1.2h0m0.2 0.5h0m0.3 -0.7h0m0.1 0.7h0m0.1 -0.8h0m0.1 1.2h0m0.1 -0.8h0m0.1 0.7h0m0 -1.4h0m0.2 0.7h0m0.1 1h0m0.1 -0.8h0m0.2 -0.8h0m0.1 0.9h0m0.1 -0.7h0m0.2 1h0m0.2 -0.7h0m0.4 0.4h0m0.1 -0.6h0m0.1 1.4h0m0.1 -1.4h0m0.3 -0.8h0m0.1 1.3h0m0.2 -1.4h0m0.1 1h0m0.3 -0.5h0m0.2 1.4h0m0.1 -1.1h0m0 -1.8h0m0.1 1.2h0m0.1 -0.7h0m0.3 -0.5h0m0.3 -0.5h0m0 -1.1h0m0.1 -0.9h0m0.1 -1.8h0m0.1 -1.2h0m0.1 -2h0m0 -0.6h0m0.1 -3.2h0m0.1 -2.4h0m0.1 -3.5h0m0.1 -2.3h0m0 -2.9h0m0.1 -3.1h0m0.1 -2.8h0m0.1 -0.8h0m0.1 -1.4h0m0 -1.2h0m0.1 1.4h0m0.1 3h0m0.1 2.2h0m0.1 2.5h0m0 3.6h0m0.1 2.8h0m0.1 2.7h0m0.1 2.2h0m0.1 1.8h0m0 1.8h0m0.1 2h0m0.1 1.4h0m0.1 1.8h0m0.1 0.7h0m0 1.3h0m0.3 0.6h0m0.1 1.2h0m0 -0.7h0m0.2 0.9h0m0.1 -0.8h0m0.1 1.5h0m0.1 -0.8h0m0.3 0.7h0m0 -0.9h0m0.1 1h0m0.4 -0.4h0m0.1 1h0m0.1 -0.9h0m0.1 0.8h0m0.1 -1.5h0m0.1 1.7h0m0.2 -0.6h0m0.1 0.7h0m0.1 -1.9h0m0.1 1.2h0m0.2 0.5h0m0.1 -1h0m0.2 0.7h0m0.3 0.7h0m0.1 -0.6h0m0.3 0.6h0m0.2 0.5h0m0.1 -0.9h0m0.6 0.2h0m0.5 -0.4h0m0.4 -0.5h0m0.1 1.4h0m0.1 -0.5h0m0.2 -0.6h0m0.1 0.6h0m0.2 -1h0m0.1 0.8h0m0.1 0.8h0m0.1 -1h0m0.1 0.7h0m0.4 0.6h0m0 -0.7h0m0.2 -0.8h0m0.1 0.9h0m0.1 -0.6h0m0 1h0m0.1 -0.6h0m0.3 -0.7h0m0.1 1h0m0.5 -0.9h0m0.1 0.8h0m0.3 0.7h0m0.1 -1.1h0m0.2 0.5h0m0.3 0.6h0m0.1 -0.9h0m0.6 -0.1h0m0.1 0.6h0m0.1 -0.8h0m0.1 0.9h0m0.1 -1h0m0.2 0.9h0m0.4 0.4h0m0.1 -1.1h0m0.1 1h0m0.1 -0.8h0m0.3 -0.9h0m0.1 1.4h0m0.3 -0.6h0m0.5 0.7h0m0 -0.6h0m0.1 0.8h0m0.3 -1.2h0m0 1.1h0m0.3 -0.7h0m0.1 0.8h0m0 -1.2h0m0.1 1.1h0m0.5 -0.5h0m0.1 0.7h0m0.3 -1h0m0.1 1h0m0.1 -1h0m0 1.2h0m0.1 -0.9h0m0.3 0.9h0m0.1 -0.9h0m0.5 -0.4h0m0.2 0.8h0m0.2 -0.5h0m0.2 0.6h0m0.1 -0.5h0m0.5 -0.5h0m0.2 0.8h0m0.4 -1.2h0m0 1.3h0m0.1 -0.7h0m0.2 0.8h0m0.1 0.5h0m0.1 -1h0m0.2 0.8h0m0.1 -0.9h0m0 0.8h0m0.1 -0.9h0m0.2 1h0m0.3 -0.9h0m0.1 0.7h0m0.1 -0.9h0m0.1 0.7h0m0.2 -0.9h0m0.2 1.2h0m0.3 -1.3h0m0 0.7h0m0.6 0.4h0m0.1 -0.7h0m0.1 0.8h0m0.4 -0.5h0m0.2 -0.5h0m0.1 0.6h0m0.1 0.6h0m0 -0.6h0m0.3 -0.6h0m0.1 0.7h0m0 -1h0m0.2 0.7h0m0.2 -0.6h0m0 1h0m0.1 -0.6h0m0.2 0.9h0m0.2 -1h0m0.1 1.5h0m0.2 -1h0m0.2 -0.6h0m0.2 0.7h0m0.4 -0.5h0m0.1 1h0m0.1 -0.9h0m0.4 -0.5h0m0.2 1.2h0m0 -1h0m0.3 0.8h0m0.1 -0.7h0m0 -1.6h0m0.1 1.2h0m0.3 -0.9h0m0.4 -0.5h0m0.3 -0.7h0m0.1 -1.7h0m0 -0.5h0m0.1 -1.6h0m0.1 -1.1h0m0.1 -1.5h0m0.1 -1.6h0m0 -3.2h0m0.1 -4h0m0.1 -1.5h0m0.1 -1.7h0m0.1 -3.5h0m0 -3.6h0m0.1 -2.7h0m0.1 -0.9h0m0.1 -1.3h0m0.1 1.3h0m0.1 2.9h0m0.1 2.1h0m0.1 2.5h0m0.1 4.2h0m0 2.1h0m0.1 2.7h0m0.1 2h0m0.1 2.3h0m0.1 2.5h0m0 2.1h0m0.2 1.8h0m0.1 0.6h0m0.1 1.5h0m0 0.6h0m0.2 -1.3h0m0.1 1.9h0m0.3 0.5h0m0.2 0.5h0m0.3 -0.5h0m0.1 1.5h0m0 -1.6h0m0.2 0.6h0m0.2 0.8h0m0.4 -0.5h0m0.2 0.5h0m0.1 -0.7h0m0.1 0.9h0m0.4 -0.5h0m0.4 0.6h0m0 -0.6h0m0.4 -0.5h0m0.2 0.9h0m0.3 -0.8h0m0.5 -0.6h0m0.4 -0.6h0m0.1 -1.3h0m0.1 0.7h0m0.4 1.2h0m0.2 -0.6h0m0.1 1h0m0.2 -1h0m0.1 1.4h0m0.1 0.7h0m0.4 -0.6h0m0.1 0.9h0m0.2 -0.8h0m0.1 0.7h0m0.1 -0.9h0m0.1 0.6h0m0.3 -0.8h0m0 1h0m0.1 -0.7h0m0.1 0.6h0m0.2 -0.5h0m0.1 0.7h0m0.2 0.6h0m0.1 -0.5h0m0.2 -0.6h0m0.2 0.7h0m0.2 -0.6h0m0.1 0.8h0m0.3 -0.5h0m0.1 -0.9h0m0.1 1.3h0m0.1 -0.7h0m0.1 0.7h0m0.1 -0.6h0m0.1 1.2h0m0.1 -0.6h0m0.1 -0.9h0m0.2 0.6h0m0.1 -1h0m0.1 0.8h0m0.2 0.7h0m0.3 -1.2h0m0.1 1.3h0m0.4 -1.1h0m0.1 0.8h0m0.2 -1h0m0.1 0.9h0m0.6 0h0m0.4 -1.3h0m0.1 0.8h0m0.1 0.8h0m0.2 -1.2h0m0.1 0.7h0m0.2 0.8h0m0.1 -0.8h0m0.2 0.6h0m0 -0.7h0m0.2 0.9h0m0.1 -1.1h0m0.1 1h0m0.2 -0.7h0m0.3 -0.5h0m0.2 1.2h0m0.1 -1.7h0m0.1 1.3h0m0.6 0.1h0m0.1 -1h0m0.1 1h0m0.2 -0.8h0m0.2 0.7h0m0.1 -0.7h0m0.1 0.6h0m0.2 -0.6h0m0.2 0.8h0m0.1 -0.5h0m0 0.6h0m0.1 -0.6h0m0.4 0.8h0m0.4 -0.5h0m0.1 1h0m0.1 -0.9h0m0.1 -0.6h0m0.1 1h0m0.4 -0.9h0m0.3 0.7h0m0.1 -0.7h0m0.3 0.6h0m0.3 -0.5h0m0.1 -0.7h0m0 0.6h0m0.4 0.6h0m0.4 -0.8h0m0 0.8h0m0.2 -0.8h0m0.3 0.7h0m0.6 -1.4h0m0.1 0.8h0m0.3 -0.6h0m0.1 1.1h0m0 -0.5h0m0.2 0.9h0m0.1 -1h0m0.1 1h0m0.2 -0.8h0m0.2 -0.6h0m0 1.5h0m0.1 -0.8h0m0.2 -0.9h0m0.1 0.8h0m0.4 -0.5h0m0.1 -0.9h0m0.3 -0.8h0m0 -0.8h0m0.1 -0.6h0m0.1 -1.3h0m0.1 0.9h0m0.1 -1.6h0m0 -0.7h0m0.3 0.6h0m0.1 -0.9h0m0 1.5h0m0.2 1.2h0m0.1 -1.1h0m0.1 2.3h0m0.2 1.5h0m0.2 0.7h0m0 -0.8h0m0.2 1.6h0m0.1 -0.7h0m0.4 0.4h0m0.5 0.3h0m0.4 -0.5h0m0.1 -0.6h0m0.1 0.8h0m0.3 0.6h0m0.2 -0.7h0m0.1 -0.6h0m0.1 1h0m0.3 -0.6h0m0.1 1h0m0.5 -0.5h0m0.4 -1.1h0m0.3 -0.5h0m0.3 -1h0m0.1 -0.7h0m0.1 -0.5h0m0.1 -0.7h0m0.1 -0.6h0m0 -1.1h0m0.2 -0.6h0m0.1 0.6h0m0.1 -0.9h0m0.1 0.9h0m0.2 1.8h0m0.1 1h0m0.2 1.1h0m0.2 0.9h0m0.4 0.8h0m0.1 1.6h0m0.1 -1.5h0m0.2 1.2h0m0.2 -0.5h0m0.1 -0.6h0m0.1 -0.6h0m0.1 0.9h0m0.2 0.8h0m0.1 -1.6h0m0 0.9h0m0.3 0.6h0m0.1 1h0m0.1 -1.5h0m0.5 -0.8h0m0.1 0.7h0m0.1 -0.8h0m0 1.3h0m0.4 -0.9h0m0 0.6h0m0.6 0.7h0m0.1 -1h0m0.5 -0.3h0m0.1 0.7h0m0.4 -1.2h0m0.1 0.7h0m0.2 0.8h0m0 -0.9h0m0.4 0.9h0m0.1 -1.2h0m0.1 0.7h0m0.3 -1.1h0m0.1 1.1h0m0.6 -0.4h0m0.3 -0.9h0m0.1 1.9h0m0 -1.3h0m0.2 0.8h0m0.4 -0.7h0m0.6 0.5h0m0 -1.1h0m0.1 0.9h0m0.4 -0.5h0m0.1 0.8h0m0.1 -0.9h0m0.2 0.8h0m0.1 -0.6h0m0.2 -0.7h0m0.2 -0.6h0m0.2 1h0m0.1 -1.5h0m0.2 -1.4h0m0.1 -1.3h0m0 -0.6h0m0.1 -0.7h0m0.1 -1.6h0m0.1 -2h0m0.1 -1.7h0m0 -2.4h0m0.1 -3.2h0m0.2 -3.4h0m0.1 -2.1h0m0 -1.6h0m0.1 -0.9h0m0.1 -2h0m0.1 0.7h0m0.1 1.2h0m0 2.2h0m0.1 1.6h0m0.1 3.4h0m0.1 0.9h0m0.1 3.4h0m0 1.7h0m0.1 1.4h0m0.1 2.6h0m0.1 1h0m0.1 2.1h0m0.1 1.2h0m0.1 1.3h0m0.2 0.5h0m0.4 1h0m0.1 -1h0m0.1 0.9h0m0.1 0.6h0m0.1 -0.6h0m0.3 0.7h0m0.1 -0.9h0m0.1 0.8h0m0.2 0.5h0m0.1 -0.5h0m0.2 -0.8h0m0.1 1h0m0.1 -0.6h0m0.2 0.6h0m0.1 -0.9h0m0.1 0.6h0m0 0.6h0m0.2 -1h0m0.1 0.7h0m0.1 -1h0m0.3 0.5h0m0.1 -1.3h0m0 1.2h0m0.1 -1.1h0m0.1 -1.2h0m0.2 -0.6h0m0.1 -2.2h0m0.1 -0.9h0m0.1 -1.2h0m0.1 -1.4h0m0.1 -1.8h0m0.1 -1.9h0m0.1 -1h0m0.1 -2.5h0m0.1 1.9h0m0.3 0.6h0m0 2h0m0.1 1.7h0m0.1 1.5h0m0.2 0.9h0m0 1.9h0m0.1 1.2h0m0.1 1.1h0m0.1 0.6h0m0.1 -0.6h0m0 1.8h0m0.2 0.6h0m0.4 0.5h0m0.5 -0.2h0m0.1 0.6h0m0 1.3h0m0.1 -1.2h0m0.2 0.7h0m0.1 -0.6h0m0.1 -0.6h0m0.5 0.5h0m0.1 -1.3h0m0.1 0.7h0m0.3 0.4h0m0.1 -1.2h0m0.4 -0.8h0m0.2 -1.4h0m0.2 -2.2h0m0.1 -1.9h0m0.1 -1.1h0m0.1 -1.9h0m0.1 -2.5h0m0 -2h0m0.1 -4.8h0m0.1 -2.7h0m0.1 -2.4h0m0.1 -4.6h0m0 -5.6h0m0.1 -3.8h0m0.1 -1.8h0m0.1 -3.2h0m0.1 -2.4h0m0 0.9h0m0.1 1h0m0.1 3.3h0m0.1 1h0m0.1 5.6h0m0 3.3h0m0.1 5.1h0m0.1 3.5h0m0.1 3.4h0m0.1 3h0m0 4.3h0m0.1 1h0m0.1 2.2h0m0.1 2.4h0m0.1 1.4h0m0.1 1.2h0m0.1 0.8h0m0.2 0.7h0m0.1 1.6h0m0.5 0.6h0m0.1 -0.8h0m0.1 1h0m0 -0.9h0m0.2 1.2h0m0.3 -0.9h0m0.3 0.8h0m0.2 -0.6h0m0.1 0.6h0m0.1 -0.7h0m0.1 1h0m0.3 0.4h0m0.1 -0.5h0m0.3 -0.6h0m0 0.6h0m0.2 1.1h0m0.2 -0.9h0m0.3 -0.5h0m0.1 0.6h0m0.1 -0.7h0m0.3 -0.6h0m0 1.6h0m0.2 -1h0m0.2 0.5h0m0.2 -0.5h0m0.3 0.9h0m0.1 -0.6h0m0.2 0.5h0m0.2 -0.9h0m0.1 0.9h0m0.1 0.6h0m0.1 -0.6h0m0.6 -1.2h0m0.1 1.1h0m0.1 0.9h0m0.1 -1.5h0m0.1 0.7h0m0.1 -0.6h0m0 0.9h0m0.4 0.4h0m0.1 -0.8h0m0.1 0.9h0m0.1 -1.1h0m0.2 0.6h0m0.1 -0.9h0m0.2 1h0m0 -0.7h0m0.4 -0.6h0m0 1.4h0m0.1 -1.2h0m0.2 0.7h0m0.1 -0.9h0m0 1.3h0m0.1 -0.7h0m0.3 -0.5h0m0.1 1.1h0m0.2 -0.5h0m0.4 -0.6h0m0.3 0.9h0m0.2 -0.7h0m0.2 0.7h0m0.1 0.5h0m0.1 -1h0m0.1 -0.8h0m0.4 1h0m0.1 -1.4h0m0.1 1.7h0m0.1 -1.4h0m0 0.9h0m0.4 -0.6h0m0.2 -0.6h0m0.1 0.6h0m0.1 -0.5h0m0.2 -0.9h0m0.2 1.8h0m0 -1.5h0m0.2 -0.8h0m0.2 -0.7h0m0.2 -0.5h0m0.2 -0.7h0m0.1 -1.1h0m0.3 -1.8h0m0.2 -0.8h0m0.1 0.7h0m0.1 -2.3h0m0 0.7h0m0.1 -1.2h0m0.3 -2.9h0m0.1 2.2h0m0.1 -1.3h0m0.1 0.6h0m0.1 -0.7h0m0.1 0.7h0m0.3 0.7h0m0.1 1.4h0m0.2 0.8h0m0.1 1.5h0m0.1 -0.7h0m0.1 1.5h0m0.2 1h0m0.1 0.5h0m0.1 1.1h0m0.2 0.6h0m0.2 0.7h0m0.3 1.1h0m0.1 -0.9h0m0.2 0.8h0m0.4 -0.2h0m0.1 0.8h0m0.1 0.6h0m0.1 -0.7h0m0.1 0.7h0m0.1 -1h0m0.2 0.7h0m0.1 -0.7h0m0.4 0.3h0m0.2 -0.7h0m0.3 -0.6h0m0.1 -1.2h0m0.2 -0.8h0m0.2 -1.5h0m0.3 -1.7h0m0.2 0.5h0m0.1 -1.4h0m0 -0.7h0m0.1 -1.1h0m0.1 0.9h0m0.1 -1.9h0m0.1 1.2h0m0 -0.9h0m0.1 -1h0m0.3 2.3h0m0 -2.5h0m0.1 1.2h0m0.1 1.6h0m0.2 1.7h0m0.1 -0.6h0m0.2 1.1h0m0.1 0.7h0m0.1 1.4h0m0.2 0.5h0m0.1 1.1h0m0 1h0m0.1 -1.3h0m0.1 0.7h0m0.1 1.8h0m0.2 -1.1h0m0.1 1.8h0m0.1 -0.7h0m0.5 0.6h0m0.1 0.6h0m0.1 -0.6h0m0.1 0.8h0m0.1 -0.6h0m0.2 1h0m0.1 -0.9h0m0.1 1.3h0m0.2 -0.9h0m0.6 -0.1h0m0.4 0.4h0m0 1h0m0.1 -1.7h0m0.1 0.8h0m0.1 -0.7h0m0.1 0.8h0m0.2 -0.6h0m0.2 0.9h0m0.2 -0.5h0m0.2 -0.9h0m0.1 1.6h0m0.3 -1.2h0m0.1 0.8h0m0.3 -0.7h0m0.3 0.6h0m0.1 -0.8h0m0 1.4h0m0.1 -1h0m0.2 0.6h0m0.2 0.5h0m0.1 -0.8h0m0.1 -1h0m0.1 1h0m0.1 -0.7h0m0.1 1.2h0m0.1 -2h0m0.1 1.5h0m0 -1h0m0.5 0.6h0m0.1 -1.1h0m0.4 0.5h0m0.1 -0.8h0m0.2 1.3h0m0.3 0.7h0m0.1 -0.9h0m0.2 0.6h0m0.4 1.2h0m0.1 -0.8h0m0.2 -0.5h0m0.1 0.6h0m0.2 1h0m0.1 -1.7h0m0.3 1.5h0m0.1 -0.7h0m0.2 -1.1h0m0.1 0.8h0m0.3 0.5h0m0.3 0.5h0m0.1 -1.5h0m0 1.1h0m0.2 -0.6h0m0.5 0.6h0m0.4 -0.5h0m0.1 -0.6h0m0.1 0.7h0m0.3 0.9h0m0 -0.8h0m0.4 -1.3h0m0.1 0.9h0m0.3 0.5h0m0.1 -0.7h0m0.2 0.9h0m0.1 -0.6h0m0.2 -0.9h0m0.1 1.3h0m0.1 -0.7h0m0.5 -1.6h0m0.3 0.7h0m0 -0.8h0m0.1 -1.2h0m0.3 0.6h0m0.2 0.5h0m0.2 0.8h0m0 -0.6h0m0.1 1.1h0m0.4 1h0m0.1 -0.7h0m0.3 1.4h0m0.1 -1.4h0" fill="none" stroke="#ef343d" stroke-width="1.8" stroke-linecap="round"/>
<path d="M428.4 186.1V194.6M443.3 186.1V194.6M454.9 186.1V194.6M479.9 186.1V194.6M490.4 186.1V194.6M494.3 186.1V194.6M509.2 186.1V194.6M518.4 186.1V194.6M519.9 186.1V194.6M527.2 186.1V194.6M535.3 186.1V194.6M551.2 186.1V194.6M579.9 186.1V194.6M586.5 186.1V194.6M602.3 186.1V194.6M605.5 186.1V194.6M612.3 186.1V194.6M624.6 186.1V194.6M630.7 186.1V194.6M636.6 186.1V194.6M653.3 186.1V194.6M659.6 186.1V194.6M668.4 186.1V194.6M675.4 186.1V194.6" stroke="#5590f0" stroke-width="1.3"/>
<path d="M389.7 222.1L389.9 221.8L390.2 222.1L390.4 221.3L390.7 222.1L390.9 222.2L391.2 222.7L391.4 223.2L391.7 221.6L391.9 222.2L392.2 221.5L392.4 222.1L392.7 222.7L392.9 222.4L393.2 221.8L393.4 223L393.7 222.5L393.9 222.7L394.2 222L394.4 222.8L394.7 221.9L394.9 222.5L395.2 222L395.4 222L395.7 221.1L395.9 222.6L396.2 222.3L396.4 221.6L396.7 222L396.9 222.3L397.2 222.4L397.4 220.8L397.7 222.9L397.9 221.4L398.2 223.1L398.4 222.7L398.7 222.1L398.9 222.1L399.2 222.2L399.4 221.8L399.7 222.9L399.9 221.6L400.2 221.7L400.4 221.9L400.7 221.1L400.9 222.6L401.2 221.3L401.4 222.9L401.7 222.5L401.9 223.2L402.2 221.6L402.4 221.8L402.7 221.7L402.9 222.4L403.2 221.5L403.4 221.8L403.7 220.6L403.9 222L404.2 222.1L404.5 223.1L404.7 221.5L405 222.5L405.2 222.3L405.5 222.5L405.7 221.3L406 219.9L406.2 221.7L406.5 222.5L406.7 222.1L407 222.8L407.2 223.3L407.5 221.6L407.7 221.7L408 222.9L408.2 221L408.5 220.5L408.7 222.1L409 222.2L409.2 222.9L409.5 222.4L409.7 222L410 221.6L410.2 220.9L410.5 222.3L410.7 221.6L411 221.8L411.2 222.2L411.5 220.8L411.7 221.9L412 221.6L412.2 223.2L412.5 221.9L412.7 222.6L413 221.4L413.2 221L413.5 222.5L413.7 221.8L414 221.2L414.2 222.6L414.5 222.3L414.7 221L415 221.8L415.2 223.2L415.5 222L415.7 221.2L416 221.5L416.2 222.8L416.5 222.9L416.7 222.4L417 221.1L417.2 222.5L417.5 221.5L417.7 221.7L418 221.7L418.2 222.6L418.5 222.3L418.7 222.3L419 221.7L419.2 221.7L419.5 222.6L419.7 221.6L420 221.8L420.2 222.3L420.5 221.9L420.7 222.6L421 222.3L421.2 222.3L421.5 223.3L421.7 221.6L422 223.2L422.2 221.2L422.5 221.5L422.7 220.5L423 221.6L423.2 221.5L423.5 222.4L423.7 222.7L424 223.3L424.2 221.6L424.5 222.6L424.7 221.8L425 220.9L425.2 219.5L425.5 221.7L425.7 220.8L426 222.5L426.2 221.4L426.5 222.3L426.7 221.5L427 222.2L427.2 220.9L427.5 220.1L427.7 217.5L428 214.2L428.1 214.3L428.2 217.2L428.5 227.4L428.7 234.4L428.7 233.3L429 232.1L429.2 226.2L429.5 224.6L429.7 222.4L430 222.2L430.2 221.7L430.5 223.1L430.7 222.3L431 221.9L431.2 222.7L431.5 222.3L431.7 221.8L432 221.7L432.2 221.9L432.5 222.8L432.7 221.1L433 221L433.2 222.4L433.5 222.6L433.7 222.8L434 222.3L434.2 221L434.5 222.4L434.7 222L435 221.3L435.2 221L435.5 221L435.7 222L436 221.2L436.2 222.2L436.5 221.8L436.7 222.3L437 222.5L437.2 221.4L437.5 221.7L437.7 222.4L438 221.6L438.2 222.6L438.5 222.3L438.7 222.5L439 221.6L439.2 222.4L439.5 221.8L439.7 222.1L440 222.3L440.2 221.6L440.5 221.9L440.7 220.5L441 221.5L441.2 222.3L441.5 221.3L441.7 220.6L442 221L442.2 221.4L442.5 221.5L442.7 221.2L442.8 220.2L443 221.7L443.2 221.9L443.4 223.8L443.5 223.4L443.7 222.5L444 222.1L444.2 222L444.5 221.6L444.7 222.6L445 222.1L445.2 221.6L445.5 222.2L445.7 221.1L446 222L446.2 221.7L446.5 221.6L446.7 221.9L447 222.1L447.2 221L447.5 222.1L447.7 223.7L448 222.4L448.2 221.6L448.5 222.1L448.7 222.9L449 221.3L449.2 222.9L449.5 221.7L449.7 223.1L450 221.4L450.2 222.6L450.5 221.6L450.7 222.7L451 222.4L451.2 222.1L451.5 221.4L451.7 222.6L452 222.1L452.2 221.3L452.5 222.2L452.7 221.8L453 221.8L453.2 221.3L453.5 222L453.7 222.4L454 221.4L454.2 222.4L454.5 220.8L454.7 222L455 222.1L455.2 221.3L455.5 222L455.7 221.1L456 223L456.2 222.1L456.5 222.5L456.7 221.3L457 220.6L457.2 221.9L457.5 222.7L457.7 221.8L458 222.6L458.2 222.1L458.5 222.1L458.7 222.5L459 221.6L459.2 221.7L459.5 222.5L459.7 222.2L460 221.6L460.2 221.2L460.5 222.8L460.7 219.9L461 222.4L461.2 221.8L461.5 221.2L461.7 222.1L462 222.2L462.2 223.3L462.5 222.1L462.7 220.4L463 221.4L463.2 222.4L463.5 221.6L463.7 221.9L464 221.9L464.2 222.8L464.5 222.1L464.7 221.8L465 221.5L465.2 222.5L465.5 221.5L465.7 222.1L466 222.1L466.2 222.4L466.5 222.3L466.7 222.1L467 223L467.2 222.4L467.5 221.5L467.7 221.3L468 221.5L468.2 222.7L468.5 221.3L468.7 222.8L469 222.1L469.2 221.5L469.5 221.3L469.7 221.8L470 222.3L470.2 221.8L470.5 222.3L470.7 222L471 222.7L471.2 221.6L471.5 221.8L471.7 221.2L472 221.7L472.2 221.3L472.5 221L472.7 221.7L473 222.3L473.2 220.5L473.5 221.2L473.7 221L474 222.1L474.2 222.2L474.5 222.1L474.7 221.8L475 221.4L475.2 222L475.5 221.4L475.7 221.7L476 222.1L476.2 221.7L476.5 222.6L476.7 220.5L477 221L477.2 222.5L477.5 221.6L477.7 221.6L478 221.6L478.2 221.7L478.5 220.9L478.7 218.8L479 214.8L479.2 212.5L479.3 210.3L479.5 214L479.7 220L479.9 223.9L480 224L480.2 224.7L480.5 223.3L480.7 222.2L481 222.1L481.2 222.3L481.5 221.3L481.7 221.8L482 222.5L482.2 222.4L482.5 222.4L482.7 221.4L483 221.5L483.2 222.5L483.5 221.9L483.7 222L484 221.7L484.2 222.4L484.5 222L484.7 221.3L485 222.1L485.2 221.7L485.5 221.7L485.7 222.2L486 222L486.2 221.5L486.5 221.2L486.7 221.6L487 221.8L487.2 221.1L487.5 221.5L487.7 223.3L488 221.5L488.2 221.9L488.5 221.2L488.7 221.6L489 221.6L489.2 220.2L489.5 216L489.7 213.6L489.9 212.8L490 214.8L490.2 219.4L490.5 225.5L490.5 225L490.7 224.8L491 224.4L491.2 222.2L491.5 221.9L491.7 221.9L492 221.1L492.2 222.4L492.5 221.2L492.7 219.1L493 217.4L493.2 218.8L493.2 219.5L493.5 223L493.7 226.8L493.8 226.9L494 227.7L494.2 225.2L494.5 222.4L494.7 221.6L495 220L495.2 220.7L495.5 220.3L495.7 219L495.7 219.7L496 223.9L496.2 227.2L496.3 229L496.5 227L496.7 224.6L497 223.9L497.2 222.6L497.5 222.3L497.7 221.8L498 221.8L498.2 221.9L498.5 222.1L498.7 221.5L499 222.4L499.2 222.9L499.5 221.6L499.7 221.3L500 221.9L500.2 223.3L500.5 221.3L500.7 222.7L501 221.5L501.2 221.4L501.5 222.5L501.7 221.7L502 221.8L502.2 222.3L502.5 222.5L502.7 222L503 222.7L503.2 221.4L503.5 221.6L503.7 222.3L504 222.2L504.2 220.8L504.5 221.7L504.7 222.3L505 221.8L505.2 222.9L505.5 220.9L505.7 222L506 221.4L506.2 220.9L506.5 221.7L506.7 221.8L507 221.6L507.2 221.5L507.5 222.3L507.7 221.1L508 220.6L508.2 216.9L508.5 211.1L508.7 201.4L508.9 201.6L509 201L509.2 209.8L509.5 219.7L509.5 218.4L509.7 223.3L510 221.9L510.2 221.8L510.5 222.2L510.7 222L511 222L511.2 222L511.5 222.7L511.7 220.9L512 221.4L512.2 222.4L512.5 221L512.7 221.4L513 223.2L513.2 222.7L513.5 222.1L513.7 221.9L514 221.7L514.2 221.3L514.5 221.3L514.7 221.2L515 221.1L515.2 221.9L515.5 222.1L515.7 221.3L516 221.9L516.2 221L516.5 222L516.7 221.6L517 221.8L517.2 221.9L517.5 222.4L517.7 221.4L518 220.3L518.2 220.8L518.3 221.1L518.5 222.7L518.7 225.4L518.9 225.1L519 225L519.2 224.9L519.5 222.2L519.8 222.4L520 223.4L520.2 222.6L520.5 221L520.8 221.3L521 222L521.2 221.7L521.5 222.2L521.8 222L522 222L522.2 222.2L522.5 220.9L522.8 222.5L523 221L523.2 221.3L523.5 220.4L523.8 221.8L524 222L524.2 221.6L524.5 221.1L524.8 220.5L525 222.1L525.2 221.1L525.5 221.6L525.8 221.6L526 219.9L526.2 216.5L526.5 212.5L526.7 210.9L526.8 210.2L527 215.7L527.2 221.5L527.3 221.9L527.5 224.3L527.8 223.1L528 222.5L528.2 222.3L528.5 223L528.8 221.5L529 222.2L529.2 223.1L529.5 222.7L529.8 222L530 221.4L530.2 221.9L530.5 221.5L530.8 221.6L531 220.8L531.2 221.6L531.5 220.7L531.8 222.4L532 222.1L532.2 221.6L532.5 221.8L532.8 221.9L533 221.7L533.2 222L533.5 221.7L533.8 222.1L534 221.3L534.2 221.9L534.5 222.8L534.8 221.3L535 221.3L535.2 222.4L535.5 222L535.8 221.9L536 221.9L536.2 221.6L536.5 221.5L536.8 222.1L537 221.9L537.2 222.2L537.5 222.1L537.8 223.2L538 221.8L538.2 222.7L538.5 221.9L538.8 223.2L539 222.4L539.2 221.3L539.5 222.7L539.8 221.5L540 222.4L540.2 221.3L540.5 222L540.8 221.9L541 222.6L541.2 220.5L541.5 220.7L541.8 222.4L542 222.2L542.2 221.5L542.5 221.8L542.8 220.7L543 221.6L543.2 221.4L543.5 222.3L543.8 222L544 221.7L544.2 222.5L544.5 221.4L544.8 222.3L545 221.7L545.2 222.1L545.5 221.6L545.8 222.7L546 221.5L546.2 223L546.5 222.2L546.8 221.3L547 221.5L547.2 222.6L547.5 222.6L547.8 221.1L548 221.9L548.3 222.2L548.5 223.1L548.8 222.2L549 221.7L549.3 222.4L549.5 221.8L549.8 221.2L550 221.4L550.3 220.3L550.5 218L550.8 216L550.9 215.9L551 215.9L551.3 219.9L551.5 221.4L551.5 222.8L551.8 223.4L552 222.8L552.3 221.1L552.5 221.5L552.8 221.9L553 222L553.3 222.3L553.5 220.9L553.8 221.8L554 222.4L554.3 221.1L554.5 221.1L554.8 221.5L555 221.6L555.3 221.6L555.5 222.5L555.8 222L556 220.7L556.3 222.3L556.5 221.8L556.8 222.3L557 221.8L557.3 222.6L557.5 221.9L557.8 221.5L558 221.1L558.3 222.4L558.5 221.7L558.8 220.7L559 222.3L559.3 222.6L559.5 220.6L559.8 222.1L560 222.1L560.3 222.8L560.5 222.5L560.8 221.3L561 222L561.3 222.2L561.5 220.9L561.8 222.7L562 222.1L562.3 222.3L562.5 221.3L562.8 222.3L563 221.7L563.3 221.6L563.5 221.8L563.8 222L564 220.9L564.3 221.8L564.5 222L564.8 220.8L565 222.7L565.3 223.4L565.5 222.1L565.8 221.8L566 221.2L566.3 221.1L566.5 221.1L566.8 222.3L567 221.3L567.3 221.9L567.5 221.5L567.8 222.3L568 222.5L568.3 222.3L568.5 222.1L568.8 222.4L569 222.7L569.3 221.3L569.5 221.9L569.8 221.4L570 221.8L570.3 221.7L570.5 221.8L570.8 222.2L571 221L571.3 220.2L571.5 221.9L571.8 222.4L572 221.5L572.3 222.7L572.5 223L572.8 221.8L573 221.6L573.3 222.1L573.5 222.2L573.8 220.9L574 222L574.3 220.5L574.5 221.1L574.8 221.9L575 221.9L575.3 221.1L575.5 221.8L575.8 222.6L576 220.8L576.3 222.1L576.5 222.5L576.8 221L577 222.4L577.3 222.1L577.5 221.6L577.8 221.8L578 221.7L578.3 221.8L578.5 221.6L578.8 220.9L579 220.5L579.3 218.5L579.5 215.4L579.6 216.4L579.8 216.1L580 219L580.2 222L580.3 222.2L580.5 222.8L580.8 221.6L581 221.6L581.3 222.4L581.5 222.7L581.8 221.9L582 222L582.3 220.2L582.5 221.4L582.8 222.6L583 222.8L583.3 221.3L583.5 220.3L583.8 222.1L584 221L584.3 221.5L584.5 221.4L584.8 221.6L585 221.2L585.3 222.1L585.5 221.7L585.8 220.5L586 220L586.2 222.3L586.3 221.4L586.5 222L586.8 221.5L586.8 223.8L587 221.9L587.3 222.3L587.5 222.1L587.8 221.4L588 221.8L588.3 221.5L588.5 220.5L588.8 220.9L589 221.4L589.3 221.5L589.5 222L589.8 222.8L590 221.6L590.3 223.1L590.5 221.5L590.8 221.8L591 221.6L591.3 220.7L591.5 221.7L591.8 221.6L592 221.2L592.3 222.2L592.5 221.9L592.8 221.6L593 221.2L593.3 222L593.5 221.3L593.8 221.2L594 221.4L594.3 222.3L594.5 221.5L594.8 221.7L595 221.5L595.3 222.1L595.5 221.6L595.8 222.3L596 221.6L596.3 222.3L596.5 221.5L596.8 221.3L597 221.9L597.3 221.6L597.5 221.4L597.8 222.6L598 221.4L598.3 221.3L598.5 221.5L598.8 222.6L599 220.9L599.3 222.5L599.5 222L599.8 221.5L600 221.5L600.3 221.2L600.5 220.4L600.8 220.9L601 220.4L601.3 220L601.5 220.4L601.8 220.8L602 219.8L602.2 220.2L602.3 219.9L602.5 220.7L602.8 221.6L602.8 222.3L603 222.7L603.3 223.9L603.5 225.7L603.5 225.5L603.8 226.4L604 227.2L604.1 227.3L604.3 226.1L604.5 225.5L604.8 225.1L605 222.9L605.3 222.9L605.5 222.2L605.8 222.3L606 222.2L606.3 222.6L606.5 220.3L606.8 221.9L607 221.9L607.3 222.6L607.5 221.3L607.8 222L608 221.6L608.3 221.2L608.5 221.8L608.8 222.3L609 221.5L609.3 221.8L609.5 222.3L609.8 221.6L610 221.5L610.3 221.9L610.5 221.9L610.8 222L611 222.4L611.3 222L611.5 221L611.8 220.8L612 221.6L612.3 222.8L612.5 221.7L612.8 221.5L613 221.8L613.3 222.1L613.5 222.4L613.8 221L614 222.1L614.3 221.9L614.5 222.1L614.8 222.4L615 220.4L615.3 222.3L615.5 221.9L615.8 221.3L616 221.6L616.3 222.4L616.5 220.8L616.8 222.3L617 222.1L617.3 222.8L617.5 221.2L617.8 221.4L618 222.2L618.3 221.6L618.5 221.9L618.8 220.2L619 223L619.3 220.6L619.5 220.7L619.8 222L620 221.9L620.3 221.2L620.5 220.4L620.8 222.1L621 221.8L621.3 221.2L621.5 221.7L621.8 221.4L622 221.1L622.3 222.2L622.5 221.6L622.8 221.8L623 220.9L623.3 221.2L623.5 221L623.8 219.8L624 218.6L624.3 217.7L624.3 217.5L624.5 218.9L624.8 221.5L624.9 222.8L625 221.9L625.3 223.1L625.5 222.5L625.8 222.3L626 221.3L626.3 221.9L626.5 222.8L626.8 220.9L627 222.1L627.3 221.6L627.5 222.6L627.8 221.8L628 222.1L628.3 221.3L628.5 221.4L628.8 222.7L629 220.9L629.3 221.3L629.5 220.9L629.8 219.2L630 219L630.2 217.7L630.3 218.6L630.5 220L630.8 220.4L630.8 221.9L631 221.3L631.3 222.1L631.5 220.4L631.8 221.4L632 222.1L632.3 221.9L632.5 222.3L632.8 222.7L633 222L633.3 221.6L633.5 221.6L633.8 222.1L634 220.9L634.3 221.1L634.5 221.6L634.8 222.8L635 220.9L635.3 221.2L635.5 218.7L635.8 216.4L636 213.9L636.1 213.7L636.3 215.8L636.5 219.2L636.7 220.4L636.8 223.4L637 222.4L637.3 222.3L637.5 222.2L637.8 221.2L638 221.4L638.3 221.2L638.5 221.9L638.8 222L639 221.7L639.3 220.9L639.5 221.1L639.8 220.8L640 220.8L640.3 221.3L640.5 221.8L640.8 222L641 220.6L641.3 222.1L641.5 221.8L641.8 222.7L642 222.1L642.3 220.8L642.5 221.9L642.8 221.8L643 221.8L643.3 221.3L643.5 222.4L643.8 221.8L644 221.3L644.3 220.6L644.5 221.5L644.8 220.9L645 220.8L645.3 222.7L645.5 221.6L645.8 222.3L646 222.2L646.3 222.1L646.5 221.4L646.8 221L647 221.5L647.3 221.8L647.5 221.5L647.8 221.5L648 221.7L648.3 220.8L648.5 222.2L648.8 221L649 221.7L649.3 221.1L649.5 222.4L649.8 221.3L650 221L650.3 221.3L650.5 221.8L650.8 220.4L651 220L651.3 219.9L651.5 219.8L651.8 216.8L652 218.1L652.3 218.3L652.5 216.2L652.8 216.9L652.8 216.1L653 215.5L653.3 217L653.4 218.1L653.5 217.5L653.8 219L654 219.6L654.3 221L654.5 222.5L654.8 221.5L655 220.8L655.3 222.7L655.5 221.4L655.8 221.4L656 221.9L656.3 222.1L656.5 221.7L656.8 221.8L657 221.6L657.3 220.7L657.5 221.5L657.8 221.4L658 219.8L658.3 218.7L658.5 218.9L658.8 219.1L659 219.6L659.1 219.1L659.3 217.2L659.5 219.3L659.7 220L659.8 220.4L660 219.9L660.3 221.1L660.5 221.6L660.8 222.1L661 222.1L661.3 222.8L661.5 221.2L661.8 221.4L662 221.3L662.3 222L662.5 222.7L662.8 221.8L663 221.7L663.3 221.1L663.5 220.8L663.8 222.8L664 221.5L664.3 222.5L664.5 222.1L664.8 221.4L665 221.7L665.3 221.1L665.5 221.9L665.8 221.6L666 222L666.3 222.4L666.5 221.2L666.8 222.2L667 221.8L667.3 221.3L667.5 221.7L667.8 222.4L668 221.7L668.3 222.3L668.5 221.8L668.8 222.4L669 221.5L669.3 221.5L669.5 221.9L669.8 220.2L670 221.3L670.3 222.6L670.5 221.1L670.8 222.8L671 222.5L671.3 221.3L671.5 221.1L671.8 221.9L672 222.1L672.3 222.7L672.5 222.5L672.8 221.2L673 222.1L673.3 221.3L673.5 222.2L673.8 221.9L674 222.4L674.3 221.6L674.5 222.1L674.8 220.9L675 221L675.3 222L675.5 221.6L675.8 222.2L676 222.9L676.3 221.3L676.5 220.9L676.8 221L677 221.2L677.3 222.4L677.5 221.8L677.8 221.5" fill="none" stroke="#55bd76" stroke-width="2" stroke-linejoin="round"/>
<rect x="389.7" y="21" width="288.1" height="216.6" fill="none" stroke="#1a1a1a" stroke-width="1.5"/>
<path d="M389.7 237.6v-4M418.5 237.6v-2.2M447.3 237.6v-4M476.1 237.6v-2.2M504.9 237.6v-4M533.8 237.6v-2.2M562.6 237.6v-4M591.4 237.6v-2.2M620.2 237.6v-4M649 237.6v-2.2M677.8 237.6v-4" stroke="#1a1a1a" stroke-width="1.3"/>
<text x="389.7" y="252.1" text-anchor="middle" font-size="12" font-weight="bold">10</text>
<text x="447.3" y="252.1" text-anchor="middle" font-size="12" font-weight="bold">20</text>
<text x="504.9" y="252.1" text-anchor="middle" font-size="12" font-weight="bold">30</text>
<text x="562.6" y="252.1" text-anchor="middle" font-size="12" font-weight="bold">40</text>
<text x="620.2" y="252.1" text-anchor="middle" font-size="12" font-weight="bold">50</text>
<text x="677.8" y="252.1" text-anchor="middle" font-size="12" font-weight="bold">60</text>
<text x="533.8" y="275.8" text-anchor="middle" font-size="14.3" font-weight="bold">2 theta / <tspan dy="0.9">°</tspan></text>
<text transform="translate(379.7 129.3) rotate(-90)" text-anchor="middle" font-size="14.4" font-weight="bold">Intensity (a.u.)</text>
<text x="364.2" y="20.7" font-size="28" font-weight="bold">b</text>
<text x="391.1" y="35" font-size="14.4">LGLZO_3</text>
<text x="621.8" y="32.2" font-size="11.45">Observed</text>
<text x="621.8" y="46.1" font-size="11.45">Calculated</text>
<text x="621.8" y="59.6" font-size="11.45">Difference</text>
<text x="621.8" y="73.8" font-size="11.45">Cubic</text>
<circle cx="603.2" cy="28.8" r="0.9" fill="#ef343d"/>
<path d="M590.1 42.5H616.4" stroke="#444" stroke-width="1.8"/>
<path d="M590.1 55.9H616.4" stroke="#55bd76" stroke-width="2"/>
<path d="M603.2 66.2V74.2" stroke="#8fb6ee" stroke-width="1.3"/>
<path d="M27.1 470.7L53.2 471.2L60.9 471.2L62.6 471.1L63.8 470.8L64.6 470.4L65.3 469.6L65.7 468.4L66.1 466.5L66.5 459.4L66.8 445.4L67.3 412.4L67.5 404.7L67.7 413.1L68.3 450.4L68.6 461.9L68.9 465.9L69.2 468.3L69.7 469.7L70.4 470.6L70.9 471L71.7 471.4L74 471.8L79.2 472.2L80.7 472.2L81.6 472L82.1 471.6L82.4 470.7L83.3 465.5L83.5 466.2L84.1 470.1L84.4 471.4L84.8 472.1L85.7 472.4L89.7 472.8L94.9 472.9L95.3 472.8L95.7 472.6L96.4 471.2L96.6 471L97.4 472.5L98 473L98.8 473.1L99.3 472.9L100.4 471.5L100.6 471.7L101.2 472.7L101.6 473.1L103.4 473.4L111 473.7L115.1 473.7L117.3 473.4L117.9 473L118.5 472.5L119 471.4L119.4 470L119.6 467.8L119.8 463.2L120.9 409.1L121.1 415.3L121.9 461.7L122.3 469.1L122.6 470.7L122.9 471.8L123.5 472.9L124.4 473.5L125.8 473.9L127.4 473.9L128.5 473.7L129.3 473.2L129.8 472.3L130.2 471.2L130.5 468.3L130.8 461.1L131.7 420.4L131.9 425.6L132.6 462.1L133 468.8L133.4 472.2L134 473.3L134.8 474L136 474.5L137.9 474.8L141.6 475.1L145 474.9L146.9 474.5L148.1 473.7L148.6 473L149 472.1L149.6 469.7L150 465L150.2 458.2L150.6 430.2L151.2 357.5L151.4 346.5L152.2 437.4L152.6 460.9L153 467.6L153.4 470.7L154.1 473L154.6 473.8L155.1 474.3L156.1 474.9L157.3 475.2L158.6 475.3L159.2 475L159.5 474.4L159.8 473.5L160.6 468.3L160.8 468.9L161.6 474.2L161.9 475L162.4 475.3L163.4 475.4L164.5 475.3L165.4 475L166.1 474.6L166.6 473.9L167 473.1L167.6 470.8L167.8 468.5L168.1 463.8L168.4 449.6L169.3 371.4L169.5 382L170.2 446.9L170.5 462.6L170.7 468L171.1 471.6L171.8 473.7L172.2 474.5L172.9 475.1L173.7 475.5L174.6 475.8L175.7 475.9L176.2 475.8L176.7 475L177.4 472.3L177.6 471.8L177.8 472L178.6 475.6L179 476.1L179.7 476.3L181.5 476.5L184.8 476.6L189.4 476.5L190.4 476.2L191.2 475.8L191.8 475.3L192.2 474.6L192.5 473.3L192.7 471.3L193 465.1L193.8 429.6L194 423.2L194.2 429.8L194.8 459.8L195.1 469L195.4 472.3L195.7 474.2L196.2 475.3L197 476.1L198.6 476.7L201.4 477L209.3 477.3L216.3 477.4L218.6 477.3L220 477L221 476.6L221.6 475.8L221.9 474.9L222.2 473.7L222.6 468.2L222.9 457.4L223.4 431.8L223.6 425.9L223.8 432.4L224.4 461.3L224.7 470.2L225 473.2L225.2 474.7L225.6 475.9L226.2 476.6L226.8 477L227.7 477.3L228.6 477.4L229.1 477.2L229.5 476.4L230.2 473.5L230.4 473L230.6 473.6L231.4 476.8L231.7 477.4L232.2 477.7L234.6 478L241 478.2L246.3 478.2L248.4 478L249 477.7L249.4 476.9L250.5 470.3L250.7 471.2L251.4 476.1L251.8 477.5L252.1 477.8L252.7 478L253.9 478.1L255 478L255.4 477.8L255.7 477.5L256.1 476.4L256.9 469L257.1 468.1L258 475.8L258.3 477.2L258.7 477.7L259.2 478L260.1 478.2L263.6 478.3L265.9 478L266.7 477.7L267.2 477.3L267.8 476.6L268.1 475.5L268.5 471.9L268.9 461.4L269.5 437.6L269.6 435.6L269.9 441.2L270.5 467.3L270.8 473.2L271.1 475.5L271.4 476.3L271.8 476.9L272.3 477.3L272.9 477.4L273.5 477.3L273.9 477L274.4 475.7L274.9 470.5L275.5 457.1L275.7 454.1L275.9 456.8L276.5 470.3L276.9 475.1L277.1 476.2L277.5 476.9L278.2 477.2L279 476.9L279.7 476L280.2 474.6L280.5 472.2L280.7 468.1L281.1 451.4L281.7 407.8L281.9 401L282.7 450.8L283 465.7L283.4 473.1L283.7 475.1L284.2 476.4L284.7 477.2L285.5 477.8L286.4 478.2L287.7 478.4L290.8 478.7L294.7 478.8L296.7 478.7L297.8 478.4L298.1 478L298.3 477.5L298.7 475.9L299.4 466.9L299.6 465.5L299.9 467.3L300.4 474.8L300.8 477.3L301.1 478.1L301.7 478.5L302.7 478.6L303.6 478.3L303.9 478L304.2 477.4L304.5 475.7L305.3 463.5L305.5 462.1L306.4 475L306.7 477.2L307 478L307.3 478.4L308.3 478.9L310.4 479.2L317.1 479.4L320.3 479.3L320.8 479.1L321.1 478.7L321.9 476.3L322.1 475.9L322.3 476.3L323 478.6L323.3 479.1L323.7 479.4" fill="none" stroke="#363636" stroke-width="1.4" stroke-linejoin="round"/>
<path d="M27.1 471.9h0m0.2 -0.9h0m0 0.7h0m0.5 -0.5h0m0.1 0.7h0m0.3 -0.8h0m0.1 1h0m0.2 -1.1h0m0 1.3h0m0.1 -0.7h0m0.4 0.9h0m0.1 -1.1h0m0.2 0.6h0m0.1 -1h0m0.2 0.6h0m0.3 -0.8h0m0.2 0.6h0m0.4 1.5h0m0 -0.9h0m0.1 -0.8h0m0.1 1.8h0m0.1 -0.7h0m0.1 -1.2h0m0 0.6h0m0.2 -0.5h0m0.1 0.9h0m0.1 -0.9h0m0 0.6h0m0.1 0.8h0m0.2 -0.9h0m0.1 -0.7h0m0.1 1.4h0m0.1 -2.1h0m0.1 2h0m0.1 -0.6h0m0.4 0.6h0m0 -0.8h0m0.2 1.3h0m0.2 -1.4h0m0 1h0m0.1 -1h0m0.2 1.1h0m0.1 -1h0m0.1 1.1h0m0.1 -1h0m0.5 0.4h0m0.1 -0.9h0m0.1 1.3h0m0.3 -0.6h0m0 -1.1h0m0.2 1.1h0m0.2 1h0m0 -1.6h0m0.1 0.9h0m0.1 -1h0m0.1 1h0m0.1 -1.1h0m0 0.7h0m0.2 -0.8h0m0.1 1.1h0m0.2 -0.9h0m0.1 0.9h0m0.1 -0.5h0m0.2 0.5h0m0.2 -0.6h0m0.5 1h0m0.1 -0.7h0m0.1 1.2h0m0.1 -1.4h0m0.1 0.8h0m0 -0.6h0m0.3 0.7h0m0.1 -1.3h0m0.2 1.2h0m0.2 -0.7h0m0.3 1h0m0.1 -0.8h0m0.2 0.6h0m0.1 -0.7h0m0.2 0.6h0m0.2 -0.7h0m0.1 1.4h0m0.1 -2.1h0m0.1 1.4h0m0.1 -1.1h0m0.1 1.4h0m0.2 -1.6h0m0.1 0.7h0m0.4 -0.6h0m0.1 0.7h0m0.2 -0.7h0m0.1 1h0m0.3 -0.6h0m0.1 -0.6h0m0.1 1.3h0m0 -0.6h0m0.5 0.7h0m0.3 -0.7h0m0.4 0.9h0m0 -0.9h0m0.2 1.1h0m0.1 -0.9h0m0.1 0.6h0m0 -0.7h0m0.1 0.7h0m0.1 -0.7h0m0.6 0.8h0m0.1 -0.6h0m0.1 0.7h0m0.1 -0.8h0m0.1 0.6h0m0.1 -0.8h0m0.1 0.6h0m0.6 -0.9h0m0.1 0.6h0m0.5 -0.3h0m0.2 0.6h0m0.1 -0.6h0m0.1 0.7h0m0.1 0.6h0m0.1 -0.6h0m0.1 -0.7h0m0.6 -0.2h0m0.3 0.5h0m0.3 1.2h0m0.1 -1.3h0m0.1 1h0m0.1 -0.9h0m0.2 0.7h0m0.1 -1h0m0.3 1h0m0.1 -1.1h0m0.1 0.6h0m0.1 -0.8h0m0.1 1.3h0m0.2 -1.2h0m0.4 0.5h0m0.6 0.3h0m0.2 -0.7h0m0.2 1.6h0m0.1 -0.7h0m0.2 -0.7h0m0.1 0.7h0m0.2 -0.5h0m0 1h0m0.1 -0.6h0m0.5 0.5h0m0.1 -1.3h0m0.1 0.6h0m0.5 -0.8h0m0.1 1h0m0.2 -1h0m0.2 1h0m0.3 -0.9h0m0.3 0.9h0m0.1 0.6h0m0.1 -1.7h0m0.1 1h0m0.3 -0.7h0m0.1 1.1h0m0.1 -0.7h0m0 0.5h0m0.1 -0.7h0m0.1 -0.7h0m0.1 0.7h0m0.2 0.6h0m0.2 -0.8h0m0.1 0.7h0m0.1 -0.8h0m0.1 1h0m0.2 0.6h0m0.1 -0.5h0m0.4 -0.6h0m0.3 0.5h0m0.1 -0.8h0m0.4 0.5h0m0.3 -0.8h0m0.2 0.9h0m0.4 0.4h0m0.1 -1h0m0.1 0.9h0m0.3 -0.6h0m0.5 -1.1h0m0.1 1.4h0m0.2 0.7h0m0.1 -0.8h0m0.1 -0.9h0m0.1 1.3h0m0.1 -0.7h0m0.5 0.2h0m0.3 -0.8h0m0.1 1.3h0m0.2 -0.6h0m0.1 -0.8h0m0.1 0.7h0m0.4 -0.3h0m0.1 0.8h0m0.1 -0.7h0m0.5 0.9h0m0.1 -1h0m0 0.6h0m0.2 -1h0m0.1 1.6h0m0.1 -0.9h0m0.4 0.5h0m0.1 -0.9h0m0.2 0.8h0m0.1 -1h0m0.1 1h0m0.3 -1.2h0m0 1.1h0m0.1 -0.7h0m0.1 0.6h0m0.1 -1h0m0.1 0.6h0m0.3 0.7h0m0.1 -1.1h0m0.1 1h0m0.1 -0.8h0m0.2 -0.7h0m0.1 1.1h0m0.1 -0.6h0m0.1 -0.6h0m0.1 0.8h0m0.1 -1.1h0m0.4 0.5h0m0.1 -1h0m0.1 0.6h0m0.1 -0.7h0m0.1 -0.9h0m0.2 -0.5h0m0.1 -1.7h0m0.2 -3.4h0m0.2 -2.8h0m0 -2.7h0m0.1 -3.3h0m0.1 -4.5h0m0.1 -3.3h0m0.1 -5.1h0m0 -7.2h0m0.1 -4h0m0.1 -6.4h0m0.1 -5.1h0m0.1 -5.6h0m0 -4.8h0m0.1 -2.3h0m0.1 -1.3h0m0.1 2.8h0m0.1 2.9h0m0 3.8h0m0.1 5.6h0m0.1 5.4h0m0.1 5.5h0m0.1 6h0m0 5.1h0m0.1 6.3h0m0.1 2.9h0m0.1 3.3h0m0.1 3.9h0m0 2h0m0.1 1.3h0m0.1 3.6h0m0.2 0.7h0m0 1.4h0m0.1 1h0m0.1 0.6h0m0.2 1.5h0m0.4 0.6h0m0.1 0.9h0m0.2 -1.2h0m0.1 0.6h0m0.4 0.6h0m0.4 0.8h0m0 -1.1h0m0.2 0.7h0m0.5 0.7h0m0.1 -0.6h0m0.3 0.5h0m0.3 -0.9h0m0.2 0.6h0m0.1 -0.8h0m0.1 0.9h0m0.4 -0.5h0m0.1 0.9h0m0.1 -1.1h0m0.1 1.5h0m0.2 -0.6h0m0.2 -1.1h0m0.2 1.2h0m0.1 -0.8h0m0.1 1.9h0m0.1 -1.4h0m0.2 1.1h0m0 -0.7h0m0.2 -0.7h0m0.2 -0.7h0m0.1 1.6h0m0.2 -1.2h0m0.1 1h0m0 -0.8h0m0.3 0.7h0m0.1 -0.6h0m0.1 1.2h0m0.1 -0.6h0m0.1 -0.8h0m0.1 1h0m0.3 -0.6h0m0.1 0.8h0m0 -0.8h0m0.2 1.1h0m0.2 -0.6h0m0.1 -0.5h0m0.1 0.8h0m0.2 -0.5h0m0 0.6h0m0.1 -1.1h0m0.1 1.2h0m0.1 -0.6h0m0.1 1.2h0m0.1 -1.9h0m0.1 0.8h0m0.3 -0.7h0m0.2 1h0m0.3 -0.7h0m0.3 0.5h0m0.3 -0.5h0m0.3 0.5h0m0.3 0.6h0m0.1 -1.5h0m0.1 1.8h0m0.1 -1.2h0m0.4 -0.4h0m0.3 0.6h0m0.1 -0.7h0m0.2 1.3h0m0.1 -1h0m0.2 0.6h0m0.1 -0.8h0m0.4 -0.9h0m0.1 0.9h0m0.2 -0.6h0m0.2 -1h0m0.2 -1.3h0m0.1 0.8h0m0.1 -1.9h0m0 -1h0m0.3 -1.5h0m0.1 0.7h0m0.3 1.2h0m0.2 1.2h0m0.1 0.7h0m0.1 0.6h0m0.1 1.8h0m0.1 -0.7h0m0.2 1h0m0.1 -0.9h0m0 1.2h0m0.6 1.2h0m0.1 -0.8h0m0.4 -0.7h0m0.1 0.9h0m0.5 0.3h0m0.3 -0.5h0m0.1 0.7h0m0.3 -0.8h0m0.2 -0.5h0m0.2 0.7h0m0.1 1.1h0m0.1 -1h0m0.2 -0.5h0m0.1 0.7h0m0.3 -0.7h0m0 -0.6h0m0.1 1.7h0m0.3 -0.6h0m0.4 -0.9h0m0 1.4h0m0.3 -1h0m0.1 1.4h0m0.1 -1h0m0.1 0.7h0m0.3 -0.7h0m0.3 0.7h0m0.3 -0.7h0m0.1 0.8h0m0.2 -0.6h0m0.1 0.8h0m0.1 -1.6h0m0 1.2h0m0.3 0.7h0m0.1 -1h0m0.2 0.6h0m0.1 -0.8h0m0.2 0.9h0m0.3 -0.8h0m0.4 0.4h0m0.1 -0.8h0m0.1 1h0m0.1 0.5h0m0.1 -1.2h0m0.2 0.7h0m0.1 -0.7h0m0.2 0.8h0m0.1 0.8h0m0.2 -2h0m0.1 1.2h0m0.4 -0.8h0m0.1 0.5h0m0.3 0.5h0m0.2 -0.7h0m0.4 -0.8h0m0.1 0.5h0m0.4 -0.8h0m0.2 0.8h0m0.2 -0.8h0m0.2 -1h0m0.2 1.4h0m0 -2.1h0m0.1 0.7h0m0.1 1.6h0m0.1 -0.6h0m0.3 -0.8h0m0.2 0.8h0m0 0.6h0m0.2 -0.6h0m0.1 0.9h0m0.1 0.8h0m0.1 -0.6h0m0.1 -0.6h0m0.2 0.6h0m0 -0.6h0m0.2 1.4h0m0.6 -0.4h0m0.4 0.5h0m0.1 -0.9h0m0.1 1h0m0.1 -1.4h0m0.1 0.8h0m0.1 -1h0m0.3 -0.8h0m0.2 -0.7h0m0.1 1.1h0m0.2 -0.6h0m0.2 0.7h0m0.3 0.6h0m0.1 0.8h0m0.6 -0.4h0m0 0.8h0m0.1 -1h0m0.5 0.6h0m0.3 -0.5h0m0.1 0.6h0m0.5 -0.3h0m0.2 0.8h0m0.3 -0.7h0m0.2 0.8h0m0.2 -0.9h0m0.6 0.5h0m0.1 -0.8h0m0.1 1.1h0m0.2 -0.7h0m0.2 -1.1h0m0.1 1.4h0m0.2 0.6h0m0.1 -1.1h0m0.3 1.1h0m0.5 0.6h0m0 -1.5h0m0.1 0.8h0m0.2 -0.8h0m0.1 1.4h0m0.1 -1.4h0m0.1 1.5h0m0.1 -1.3h0m0.2 0.8h0m0.2 -1.5h0m0.1 1.4h0m0.2 -0.7h0m0.1 1h0m0.2 -1.2h0m0.3 1.4h0m0.1 -1.1h0m0.1 1.1h0m0.1 -1.1h0m0.1 0.6h0m0.1 -0.8h0m0.3 0.9h0m0.1 0.9h0m0.1 -2.3h0m0.2 0.5h0m0.1 1.1h0m0.3 -1h0m0.4 0.7h0m0.1 -1.4h0m0.1 1.7h0m0.1 -0.6h0m0.5 -0.8h0m0 0.9h0m0.2 -1.1h0m0.1 0.8h0m0.2 0.6h0m0.1 -0.6h0m0.1 -0.6h0m0.2 1.3h0m0.1 -1.1h0m0.2 0.9h0m0.4 0.5h0m0.1 -0.9h0m0.4 -0.5h0m0.2 0.8h0m0.1 0.6h0m0 -0.7h0m0.6 0.1h0m0.2 -0.9h0m0.1 0.9h0m0.1 -0.9h0m0.2 0.9h0m0.4 -0.4h0m0 0.8h0m0.1 -0.8h0m0.2 0.5h0m0.3 -1.3h0m0.1 0.8h0m0.3 0.6h0m0.2 -1h0m0 0.6h0m0.1 -0.6h0m0.1 0.9h0m0.2 -0.6h0m0.1 -0.8h0m0.1 0.6h0m0.2 0.6h0m0.1 -0.7h0m0.3 -0.6h0m0.3 0.6h0m0.2 -0.6h0m0.3 -0.6h0m0.4 -0.6h0m0.1 0.6h0m0.1 -0.8h0m0.1 -0.9h0m0.2 -2.2h0m0.1 -1.6h0m0.2 -2.6h0m0.1 -3.5h0m0.1 -1.8h0m0.1 -3.8h0m0.1 -4.7h0m0 -4.6h0m0.1 -5.4h0m0.1 -5.9h0m0.1 -4.9h0m0.1 -4.6h0m0 -6.9h0m0.1 -4h0m0.1 -2.4h0m0.1 -3.9h0m0.1 2.1h0m0.1 5.7h0m0.1 4.3h0m0.1 6.1h0m0.1 5.7h0m0 5.5h0m0.1 6.4h0m0.1 4.2h0m0.1 4.5h0m0.1 2.8h0m0 3.1h0m0.1 3.9h0m0.1 1.7h0m0.1 1.3h0m0.1 1.9h0m0 1.9h0m0.2 1.7h0m0.2 1.1h0m0.1 1h0m0.1 -0.7h0m0.2 0.6h0m0.4 0.7h0m0 -0.7h0m0.2 0.9h0m0.2 0.5h0m0.3 -1.2h0m0.1 0.8h0m0 0.7h0m0.2 -0.6h0m0.2 0.7h0m0.1 -0.7h0m0.3 1.2h0m0 -1.3h0m0.4 1h0m0.4 0.5h0m0 -1.1h0m0.1 0.9h0m0.1 -1h0m0.4 -0.5h0m0.1 1h0m0.1 0.6h0m0.1 -0.5h0m0.3 -1.3h0m0 1.2h0m0.3 -1.1h0m0.1 1.7h0m0 -1h0m0.4 1h0m0 -0.7h0m0.5 -0.6h0m0.4 0.5h0m0.1 -1h0m0.1 1.6h0m0.1 -1.2h0m0.1 0.8h0m0.2 -1.7h0m0.5 -0.4h0m0 0.6h0m0.1 -0.7h0m0.2 -0.5h0m0.1 -1.2h0m0.2 -1.2h0m0.1 -0.6h0m0.1 -1.1h0m0 -2.1h0m0.1 -1.3h0m0.1 -2.7h0m0.1 -3.2h0m0.1 -2.9h0m0 -4.3h0m0.1 -4.4h0m0.1 -5.2h0m0.1 -4h0m0.1 -5.2h0m0 -2.6h0m0.1 -6h0m0.1 -1.6h0m0.2 -1.4h0m0 2.1h0m0.1 3.4h0m0.1 3.2h0m0.1 5h0m0.1 4.3h0m0 5.6h0m0.1 6h0m0.1 3h0m0.1 3.5h0m0.1 3.1h0m0 2.1h0m0.1 1.2h0m0.1 2.6h0m0.1 1.9h0m0.1 1.5h0m0.1 1.8h0m0.1 0.9h0m0.2 1.1h0m0 -1.3h0m0.1 1.5h0m0.5 0.7h0m0.1 -0.8h0m0.1 1.7h0m0 -1.5h0m0.3 0.7h0m0.1 0.6h0m0 0.6h0m0.2 -1h0m0.3 0.9h0m0.2 -0.8h0m0.3 0.8h0m0.2 -0.6h0m0.2 0.7h0m0.1 -0.7h0m0.4 0.4h0m0.1 1.1h0m0.1 -1.3h0m0.2 0.7h0m0.3 0.4h0m0.1 -0.6h0m0.2 -1h0m0.1 1h0m0.1 -0.6h0m0.1 0.6h0m0.5 0.4h0m0.3 -1h0m0.1 1.3h0m0.1 -1.3h0m0.1 0.7h0m0.1 0.9h0m0 -1h0m0.4 -0.5h0m0.4 1h0m0.4 -0.3h0m0.1 -0.9h0m0.1 1h0m0.2 0.7h0m0 -1h0m0.2 -0.6h0m0.2 1.3h0m0 -1.3h0m0.1 0.9h0m0.6 -0.5h0m0.2 0.5h0m0.1 -0.8h0m0.2 1.2h0m0.2 -0.7h0m0.1 1.3h0m0.1 -1.3h0m0.5 -0.4h0m0.2 0.6h0m0.1 -0.6h0m0.1 0.8h0m0.4 -1h0m0.1 0.6h0m0.2 0.7h0m0 -1.4h0m0.1 0.8h0m0.5 0.4h0m0.1 -1h0m0.1 1.2h0m0.1 -0.7h0m0.5 -0.4h0m0.2 0.6h0m0 0.7h0m0.1 -0.7h0m0.6 -0.2h0m0.1 -0.7h0m0.4 0.8h0m0 -0.6h0m0.2 -0.8h0m0.1 1.2h0m0.1 -0.6h0m0.4 0.3h0m0.1 -0.8h0m0.1 -0.9h0m0.2 0.7h0m0 0.6h0m0.1 -0.9h0m0.5 0.4h0m0.1 -1.3h0m0.1 -0.6h0m0.2 -1.4h0m0.1 0.6h0m0.2 -0.6h0m0.2 -1.5h0m0.1 -1.5h0m0.1 -1.9h0m0.1 0.6h0m0.1 -3h0m0.1 -2.3h0m0 -3.1h0m0.1 -2.2h0m0.1 -5.3h0m0.1 -6h0m0.1 -6.6h0m0 -7.6h0m0.1 -9.2h0m0.1 -9.5h0m0.1 -10.1h0m0.1 -12.5h0m0 -10.6h0m0.1 -9.9h0m0.1 -10h0m0.1 -8.7h0m0.1 -2.1h0m0 -0.9h0m0.1 5.2h0m0.1 4.4h0m0.1 9.9h0m0.1 12.2h0m0 11.4h0m0.1 11h0m0.1 8.9h0m0.1 11.7h0m0.1 8.5h0m0 7.7h0m0.1 7.2h0m0.1 6h0m0.1 3.6h0m0.1 4.3h0m0 2.6h0m0.1 1.1h0m0.1 2.6h0m0.1 2h0m0.1 0.6h0m0 1.4h0m0.2 1h0m0.1 0.7h0m0.1 1.3h0m0.2 0.6h0m0.4 0.7h0m0.1 0.7h0m0.1 -1.1h0m0 0.7h0m0.1 -0.6h0m0.2 0.6h0m0.1 0.9h0m0.1 -0.5h0m0.3 1h0m0.1 -0.6h0m0.1 -0.6h0m0.1 0.8h0m0.3 0.9h0m0.4 -0.6h0m0.1 0.9h0m0.1 -0.8h0m0.1 0.6h0m0.3 0.5h0m0.1 -0.9h0m0.2 0.7h0m0.1 -0.9h0m0.1 0.7h0m0.1 -0.7h0m0.1 0.8h0m0.5 0.5h0m0 -0.7h0m0.2 0.7h0m0.1 -1.3h0m0.2 0.5h0m0.3 0.5h0m0.1 -0.9h0m0.1 1.5h0m0.1 -1h0m0.1 -0.8h0m0 0.9h0m0.2 -0.6h0m0.4 -0.7h0m0.2 -0.7h0m0.1 -1.1h0m0.1 -1h0m0.1 0.9h0m0.1 -1.3h0m0.1 -1.6h0m0.3 -1.7h0m0.2 0.9h0m0.1 1.6h0m0.2 1.2h0m0.2 1.3h0m0.2 1.4h0m0.3 0.6h0m0.3 0.7h0m0.1 0.9h0m0 -0.9h0m0.4 0.7h0m0.1 -0.7h0m0.2 0.6h0m0.1 -0.7h0m0.1 0.6h0m0.1 -1.4h0m0.1 1.6h0m0.1 -0.6h0m0.5 0.4h0m0.1 -0.8h0m0.1 0.5h0m0.5 -1h0m0.2 0.6h0m0.3 0.5h0m0.3 -1h0m0.1 -0.8h0m0.1 0.8h0m0.2 -0.6h0m0 1.1h0m0.4 -1.2h0m0 1.4h0m0.3 -1.8h0m0.2 1.3h0m0.1 -0.6h0m0.1 -1.1h0m0.3 -1.2h0m0.1 0.9h0m0.1 -1.1h0m0.2 -1.3h0m0.1 -0.6h0m0.1 -1.2h0m0.1 -1.3h0m0.1 -1.3h0m0.1 -2.7h0m0.1 -1.5h0m0 -3.6h0m0.1 -3.4h0m0.1 -4.4h0m0.1 -6h0m0.1 -7.9h0m0 -4.9h0m0.1 -9.5h0m0.1 -9.4h0m0.1 -9.9h0m0.1 -9.5h0m0 -10h0m0.1 -4.1h0m0.1 -7.4h0m0.1 0.5h0m0.1 -0.8h0m0 2.8h0m0.1 5.9h0m0.1 10.9h0m0.1 8.5h0m0.1 8.7h0m0 8.7h0m0.1 8.1h0m0.1 7.9h0m0.1 6h0m0.1 8.5h0m0 4.5h0m0.1 4.1h0m0.1 4.6h0m0.1 1.2h0m0.1 2.5h0m0 3.1h0m0.1 0.7h0m0.2 1.6h0m0.1 1h0m0 1h0m0.3 0.9h0m0.1 0.7h0m0.4 1.3h0m0.1 -0.8h0m0.1 0.7h0m0.1 -1h0m0.1 2.2h0m0 -1.9h0m0.2 0.9h0m0.4 -0.4h0m0.1 1h0m0.3 -0.5h0m0.1 0.7h0m0.1 -0.6h0m0 1h0m0.1 -0.6h0m0.2 0.6h0m0.1 -0.9h0m0.1 1.7h0m0.1 -1.7h0m0.2 0.6h0m0.4 0.9h0m0 -1.7h0m0.1 1.4h0m0.2 -1.4h0m0.1 1h0m0.4 0.4h0m0.4 -1.1h0m0.1 1.5h0m0.1 -1.2h0m0.2 0.8h0m0.1 -0.7h0m0.4 -0.5h0m0.1 -0.7h0m0.2 -1.5h0m0.4 -1h0m0.1 -0.6h0m0.1 1.2h0m0.1 -0.8h0m0.2 1h0m0.1 0.7h0m0.2 2h0m0.1 -1h0m0.2 0.9h0m0.2 0.7h0m0.2 -0.9h0m0.1 1.2h0m0 -0.6h0m0.2 0.7h0m0.1 -0.9h0m0.1 0.6h0m0 0.7h0m0.1 -0.6h0m0.1 -0.5h0m0.2 1.1h0m0 -1.2h0m0.1 1.6h0m0.2 -0.9h0m0.1 0.6h0m0 -0.6h0m0.4 0.5h0m0.3 -0.8h0m0.3 0.9h0m0.1 -0.6h0m0.2 0.6h0m0.3 -0.9h0m0 1.6h0m0.1 -1.2h0m0.3 0.7h0m0.1 -0.7h0m0.3 -0.6h0m0.1 1.1h0m0.3 0.5h0m0.1 -1.1h0m0.3 1h0m0.1 -1.1h0m0.3 0.5h0m0.5 0.8h0m0.1 -0.9h0m0.1 -0.6h0m0.1 0.7h0m0.4 -0.6h0m0.1 0.8h0m0.2 -0.6h0m0.5 0.3h0m0.2 0.7h0m0.1 -1.5h0m0.1 0.7h0m0 -0.7h0m0.2 1.3h0m0.2 0.5h0m0.1 -0.9h0m0.4 0.5h0m0.2 -0.8h0m0.1 0.7h0m0.3 -0.9h0m0.1 0.5h0m0.5 0.7h0m0.1 -0.9h0m0.2 0.7h0m0 -1.4h0m0.1 1.8h0m0.1 -1h0m0.4 0.6h0m0.1 -1.1h0m0.4 0.5h0m0.3 -0.6h0m0.1 0.9h0m0.1 -0.6h0m0.2 1.1h0m0.1 -1.6h0m0.3 0.7h0m0.1 -1.2h0m0.1 0.6h0m0.1 -0.8h0m0.1 1h0m0.2 -0.9h0m0.1 0.7h0m0.1 1h0m0.1 -1.5h0m0.3 -1.4h0m0.2 0.7h0m0.2 -1.1h0m0.1 -0.7h0m0.2 -0.9h0m0.1 -2h0m0.1 -2.8h0m0.1 -2.5h0m0.1 -1.4h0m0.1 -4.9h0m0.1 -2.3h0m0.1 -4.9h0m0 -5.2h0m0.1 -3.6h0m0.1 -3.7h0m0.1 -5.8h0m0.1 -2.8h0m0 -4.8h0m0.2 -3.3h0m0.1 1.3h0m0.1 3.5h0m0 3h0m0.1 3h0m0.1 6.7h0m0.1 5.4h0m0.1 1.8h0m0 5.8h0m0.1 2.8h0m0.1 4.5h0m0.1 3.5h0m0.1 2.6h0m0 1.8h0m0.1 2h0m0.2 1.4h0m0.1 1.7h0m0.1 1.1h0m0.3 0.6h0m0.1 -0.6h0m0.1 1h0m0.1 1h0m0.1 -0.9h0m0 0.7h0m0.2 0.5h0m0.2 -0.7h0m0.2 0.9h0m0.2 -0.9h0m0 1.5h0m0.2 -1.1h0m0.1 0.8h0m0.2 -0.7h0m0.2 0.8h0m0.1 -1.4h0m0 1.5h0m0.4 -0.7h0m0.1 0.9h0m0.3 -1.2h0m0.4 0.8h0m0.1 1.1h0m0.1 -1.1h0m0.4 -0.6h0m0.1 0.6h0m0.1 0.8h0m0.2 -1.1h0m0.2 0.9h0m0.4 0.3h0m0.1 -0.9h0m0.4 0.5h0m0.3 -1.3h0m0.2 1.2h0m0.3 0.5h0m0.1 -0.8h0m0.1 0.7h0m0.1 -0.7h0m0 0.7h0m0.1 -0.7h0m0.2 0.7h0m0.1 -0.9h0m0.2 1.1h0m0.1 -0.9h0m0.1 0.9h0m0.2 -0.6h0m0.2 0.5h0m0.1 -0.9h0m0.1 -0.6h0m0.1 0.7h0m0.1 0.7h0m0.4 -0.8h0m0.3 0.5h0m0.1 -0.6h0m0.1 1.2h0m0.3 -1h0m0.3 0.6h0m0.3 -0.6h0m0.2 0.6h0m0.1 -0.7h0m0.2 0.6h0m0.3 0.6h0m0.2 -0.6h0m0.5 0.5h0m0.2 -1.3h0m0.1 0.7h0m0 1h0m0.3 -1.2h0m0.3 1h0m0.2 -0.6h0m0 -0.9h0m0.1 1.4h0m0.1 -0.7h0m0.5 0.4h0m0.1 -0.6h0m0.2 1h0m0.2 -0.8h0m0.1 0.9h0m0.2 -1h0m0.3 1h0m0.1 -1.1h0m0.5 0.7h0m0 -0.8h0m0.2 1.3h0m0.1 -0.9h0m0.2 0.6h0m0.2 -0.9h0m0.2 0.8h0m0.2 -0.6h0m0.3 1.5h0m0.1 -1h0m0.2 -0.8h0m0.1 -0.9h0m0.1 1.1h0m0.1 0.6h0m0 -0.7h0m0.1 1.1h0m0.2 -0.9h0m0.3 -0.5h0m0.2 0.5h0m0.4 -0.9h0m0 0.9h0m0.1 0.5h0m0.1 -0.9h0m0.2 1.4h0m0.1 -0.8h0m0.5 0.5h0m0.1 -1.1h0m0.1 1h0m0.3 -0.8h0m0.1 0.9h0m0.2 -0.8h0m0.2 0.4h0m0.2 -0.5h0m0.2 0.6h0m0.4 0.3h0m0.2 -0.6h0m0.2 0.6h0m0 -0.7h0m0.5 1.2h0m0.1 -1.2h0m0.3 1.2h0m0.1 -0.6h0m0.1 -0.8h0m0.5 0.3h0m0.4 0.6h0m0.1 -0.6h0m0.2 0.9h0m0.1 -1.5h0m0 1.5h0m0.2 -1.3h0m0.1 1h0m0.1 -0.8h0m0.1 -1h0m0.2 0.7h0m0.2 -0.6h0m0.1 0.7h0m0.4 0.9h0m0.1 -0.9h0m0.2 -0.8h0m0.3 0.6h0m0 -0.9h0m0.5 -1.1h0m0.2 -0.7h0m0.1 -0.9h0m0.1 -1.1h0m0.1 -0.6h0m0.1 -1.7h0m0.1 -2.2h0m0 -1.9h0m0.2 -5h0m0.1 -3.4h0m0.1 -3.5h0m0 -4.7h0m0.1 -4.4h0m0.1 -4.4h0m0.1 -4.6h0m0.1 -3.7h0m0 -3.8h0m0.1 -2.3h0m0.2 0.7h0m0.1 3.2h0m0 0.9h0m0.1 5.9h0m0.1 4h0m0.1 4h0m0.1 5.2h0m0 3.6h0m0.1 4.8h0m0.1 3.1h0m0.1 3h0m0.1 1.8h0m0 2.9h0m0.1 1.8h0m0.1 0.7h0m0.1 1.2h0m0.1 0.9h0m0.1 1.3h0m0.3 0.7h0m0.4 0.9h0m0.1 0.5h0m0.1 -1.4h0m0.1 1.6h0m0.1 -1.2h0m0 0.9h0m0.1 -0.6h0m0.2 1h0m0.1 0.6h0m0.1 -0.9h0m0.5 1.4h0m0.1 -1.6h0m0.1 0.6h0m0 0.6h0m0.1 -1.4h0m0.2 1.1h0m0.4 -0.7h0m0.2 1.4h0m0.1 -1.4h0m0.2 0.6h0m0.4 -0.7h0m0.5 -1h0m0.1 0.7h0m0.2 -1.2h0m0.1 -0.5h0m0.2 -0.6h0m0.1 -0.7h0m0.1 -0.7h0m0.1 1.3h0m0.1 -0.9h0m0.2 0.8h0m0.1 0.8h0m0.2 0.5h0m0.1 1.1h0m0.4 0.9h0m0.3 0.6h0m0.1 -1.2h0m0.1 1.7h0m0.1 -0.8h0m0.5 0.4h0m0.1 -0.8h0m0.2 1h0m0.1 -1.1h0m0.3 1.5h0m0.3 -0.9h0m0.2 1.3h0m0 -0.7h0m0.2 -0.5h0m0.2 -0.8h0m0 1.3h0m0.1 -0.6h0m0.1 0.9h0m0.2 -1.8h0m0 1.3h0m0.3 -0.6h0m0.1 0.7h0m0.2 -1.3h0m0.1 2h0m0.1 -1.2h0m0 -0.6h0m0.2 0.7h0m0.2 0.6h0m0.4 -0.4h0m0.1 0.6h0m0.1 -0.8h0m0.2 -0.6h0m0 1.4h0m0.3 -0.8h0m0.1 0.7h0m0.1 -0.7h0m0.5 0.7h0m0.2 -0.5h0m0.2 0.6h0m0.2 -0.5h0m0.1 -1.2h0m0.1 0.8h0m0.1 0.7h0m0.4 -0.7h0m0.1 0.9h0m0.1 -1.3h0m0.1 2h0m0.1 -1.2h0m0.3 -0.5h0m0.2 0.6h0m0.1 -0.7h0m0.1 1.5h0m0.1 -0.8h0m0.1 0.8h0m0 -0.7h0m0.2 -0.6h0m0.1 1h0m0.3 -0.8h0m0.2 0.6h0m0.4 -0.9h0m0.2 1h0m0.4 -0.6h0m0.2 0.6h0m0.1 -0.6h0m0.2 0.8h0m0.1 -0.6h0m0.4 0.7h0m0 -1.5h0m0.1 0.9h0m0.3 -1.1h0m0.2 1h0m0.2 -0.6h0m0.1 0.7h0m0.1 -0.8h0m0.1 0.7h0m0.1 0.5h0m0.1 -0.8h0m0.2 -1h0m0.1 1.4h0m0.3 -0.7h0m0.1 0.9h0m0 -0.7h0m0.4 1h0m0.5 -0.8h0m0.1 0.8h0m0.1 -0.7h0m0.1 1h0m0 -0.9h0m0.2 0.6h0m0.1 -1.3h0m0.1 1.7h0m0.1 -1h0m0.1 0.7h0m0.2 -0.6h0m0.3 0.7h0m0.1 -0.7h0m0.3 0.6h0m0.1 -1.2h0m0.4 0.5h0m0.4 -0.4h0m0.1 0.6h0m0.3 -1.1h0m0.1 0.8h0m0.1 -1h0m0.1 0.6h0m0.1 -0.7h0m0.3 -1.1h0m0.1 -0.7h0m0.1 -1.4h0m0.1 -0.9h0m0.2 -0.8h0m0.1 -0.8h0m0.2 -1.4h0m0.1 0.9h0m0.2 0.6h0m0.1 1.3h0m0.1 0.6h0m0.1 1.1h0m0.1 1h0m0.2 0.9h0m0.1 1.1h0m0.1 -1h0m0.2 1.6h0m0.5 0.1h0m0.4 -0.6h0m0.1 0.9h0m0.3 -0.8h0m0 0.8h0m0.2 -1h0m0.2 1.3h0m0.1 -0.8h0m0.1 0.8h0m0.3 -0.7h0m0.4 -0.4h0m0.1 0.5h0m0.6 -0.3h0m0 0.8h0m0.1 -0.9h0m0.6 -0.7h0m0.3 -1h0m0.1 -0.8h0m0.1 0.8h0m0 -1.8h0m0.1 -0.8h0m0.1 0.8h0m0.1 -1.7h0m0.1 -1.4h0m0 -1h0m0.2 -1.2h0m0.4 -1.1h0m0.1 1.3h0m0.1 1.6h0m0.1 1.7h0m0.1 1h0m0.1 0.9h0m0.1 0.6h0m0.1 1h0m0.1 -0.8h0m0.1 1.7h0m0.1 0.6h0m0 -1.5h0m0.1 0.9h0m0.2 1.6h0m0.1 -1.3h0m0.1 1.1h0m0.1 -1h0m0.1 0.7h0m0.1 0.7h0m0 -1.4h0m0.1 1.2h0m0.2 -1h0m0.1 1.3h0m0.1 -0.9h0m0.3 0.8h0m0.1 -0.6h0m0.3 0.5h0m0.1 -0.7h0m0.1 0.6h0m0.2 -0.8h0m0 1.3h0m0.2 -1h0m0.2 0.7h0m0.1 -0.6h0m0.1 1.1h0m0.2 -0.9h0m0.4 0.4h0m0.2 -0.8h0m0.1 0.7h0m0.2 -0.6h0m0.3 0.6h0m0 0.6h0m0.2 -1.2h0m0.2 0.5h0m0.4 -0.5h0m0.2 0.7h0m0.2 -0.5h0m0.2 0.7h0m0.4 -0.6h0m0.3 -0.7h0m0.2 1.7h0m0.1 -1.1h0m0.4 0.4h0m0.2 -1h0m0.2 0.6h0m0.1 -0.9h0m0.1 0.6h0m0.4 -0.9h0m0.1 0.6h0m0.3 0.5h0m0.1 -1.4h0m0.1 1.3h0m0.1 -0.9h0m0.4 0.4h0m0.1 -1.3h0m0.2 0.8h0m0.2 -1.1h0m0.1 -0.8h0m0.1 -1.5h0m0.3 -3.4h0m0.1 -1.7h0m0 -2.6h0m0.1 -0.8h0m0.1 -4.1h0m0.1 -2.6h0m0.1 -4.3h0m0 -2.6h0m0.1 -4.4h0m0.1 -4.5h0m0.1 -1.9h0m0.1 -3.3h0m0 -2.5h0m0.2 1.8h0m0.1 1.2h0m0.1 2.8h0m0 2.7h0m0.1 5h0m0.1 4.2h0m0.1 4.1h0m0.1 1.9h0m0 4.8h0m0.1 1.6h0m0.1 2.7h0m0.1 2h0m0.1 1.5h0m0 0.8h0m0.1 1.3h0m0.2 1.5h0m0.1 0.8h0m0 0.7h0m0.1 0.6h0m0.3 -0.8h0m0 0.6h0m0.1 0.6h0m0.4 -0.5h0m0.3 0.6h0m0.3 -0.7h0m0.1 0.9h0m0.3 0.7h0m0.1 -0.6h0m0.1 0.6h0m0.1 -0.9h0m0.1 -0.5h0m0.3 0.7h0m0.1 -0.8h0m0.1 -0.6h0m0 1.2h0m0.1 -1.2h0m0.1 1.2h0m0.1 -0.9h0m0.3 -1.2h0m0.2 -0.9h0m0 -1.3h0m0.2 -2.8h0m0.1 -1.3h0m0.1 -1.9h0m0 -1.3h0m0.1 -1.4h0m0.1 -3.3h0m0.1 -2.2h0m0.1 -2h0m0 -1.4h0m0.1 -1.1h0m0.3 1.3h0m0 0.9h0m0.1 2.9h0m0.2 4.1h0m0.1 1.2h0m0 1.4h0m0.1 3.2h0m0.1 0.7h0m0.1 1h0m0.1 1.4h0m0 1h0m0.1 0.9h0m0.1 1.1h0m0.2 0.9h0m0.4 0.8h0m0.3 -0.4h0m0.1 0.5h0m0.2 0.6h0m0.1 -1.1h0m0.2 1.2h0m0.1 -0.7h0m0.3 0.5h0m0.1 -0.6h0m0.4 -0.7h0m0.5 -0.3h0m0.1 -0.7h0m0.2 -1h0m0.1 0.7h0m0.1 -0.9h0m0 -0.9h0m0.2 -1.1h0m0.1 -1h0m0.1 -1.5h0m0 -1.2h0m0.1 -2.2h0m0.1 -3h0m0.1 -3.9h0m0.1 -4.3h0m0 -3.1h0m0.1 -5.2h0m0.1 -6.3h0m0.1 -7.8h0m0.1 -6h0m0 -8.1h0m0.1 -5.2h0m0.1 -5.7h0m0.1 -5h0m0.1 -0.9h0m0.1 1.6h0m0.1 3.8h0m0.1 5.8h0m0.1 5.4h0m0 7.9h0m0.1 5.7h0m0.1 7.8h0m0.1 6.1h0m0.1 5.5h0m0 4.5h0m0.1 3.7h0m0.1 3.9h0m0.1 2h0m0.1 3.1h0m0 0.7h0m0.1 2.6h0m0.2 1.1h0m0.1 0.6h0m0 0.8h0m0.1 -0.6h0m0.1 1.2h0m0.2 0.8h0m0 1h0m0.1 -1.2h0m0.2 0.9h0m0.1 -0.7h0m0.1 1.3h0m0.1 -0.6h0m0.1 1.2h0m0.1 -1.2h0m0.1 1h0m0.5 0.8h0m0.1 -1.1h0m0.5 0.5h0m0.1 0.9h0m0.1 -0.7h0m0.3 1.1h0m0.3 -0.8h0m0.4 0.3h0m0 0.7h0m0.1 -1.6h0m0.1 0.9h0m0.1 -0.7h0m0.1 0.7h0m0 0.7h0m0.1 -0.9h0m0.3 0.6h0m0 -0.6h0m0.2 0.8h0m0.2 -0.9h0m0.3 0.6h0m0.1 -0.8h0m0 1h0m0.3 -0.7h0m0.5 0.6h0m0.1 -0.6h0m0.3 0.8h0m0.4 -0.9h0m0.1 0.9h0m0.3 -0.6h0m0.4 0.7h0m0 -0.5h0m0.1 0.5h0m0.2 -0.8h0m0.2 0.6h0m0.2 -0.7h0m0.1 1.2h0m0.1 -0.8h0m0.1 0.9h0m0.2 -1h0m0.2 0.8h0m0.2 -1.5h0m0 1.2h0m0.1 0.7h0m0.1 -0.8h0m0.1 -0.6h0m0.1 0.7h0m0.2 -1.2h0m0.1 0.7h0m0.3 -0.5h0m0.1 0.6h0m0.1 -0.6h0m0 0.7h0m0.3 -0.7h0m0.3 0.8h0m0.3 0.5h0m0.3 -1.1h0m0.1 0.8h0m0.2 -1.1h0m0.1 0.6h0m0.5 0.2h0m0.3 -0.5h0m0.1 0.7h0m0.2 -0.6h0m0.1 1.2h0m0.2 -0.8h0m0.2 -1h0m0.2 1.1h0m0.2 -0.8h0m0.1 0.6h0m0.3 0.5h0m0.1 -1.2h0m0.3 -0.7h0m0.3 -1.4h0m0.1 0.8h0m0 -1.2h0m0.1 -1.6h0m0.2 -2.6h0m0.1 -1.3h0m0.1 -1.1h0m0.1 -1.3h0m0.1 -0.9h0m0.1 -0.8h0m0.4 1.5h0m0 0.6h0m0.1 1.8h0m0.1 1h0m0.1 1h0m0.1 1.9h0m0.2 2.1h0m0.2 0.7h0m0.1 1.2h0m0.1 -0.8h0m0.2 2h0m0 -0.8h0m0.2 0.6h0m0.2 0.7h0m0 -1h0m0.1 0.8h0m0.1 -0.9h0m0.4 0.4h0m0.2 -0.6h0m0.4 1h0m0.1 -0.9h0m0.3 0.5h0m0.4 -0.7h0m0.4 0.5h0m0.1 -0.8h0m0.1 -0.7h0m0.2 -0.8h0m0.1 1.3h0m0.1 -1.2h0m0.1 -1.9h0m0.1 -0.9h0m0 -0.7h0m0.2 -1.9h0m0.1 -2.7h0m0.1 -3.4h0m0.2 -1.2h0m0.1 -1.6h0m0.1 1h0m0 -2.6h0m0.1 1.9h0m0.2 2.1h0m0.1 1.8h0m0 1.5h0m0.1 1.2h0m0.1 1.6h0m0.1 1.6h0m0.1 2h0m0.1 0.8h0m0.1 1.2h0m0.2 1.4h0m0.2 0.8h0m0.1 -0.9h0m0.1 0.6h0m0 1h0m0.2 -0.7h0m0.2 1h0m0 -0.7h0m0.1 -0.6h0m0.2 0.5h0m0.1 0.7h0m0.3 -0.9h0m0.1 1.7h0m0 -1h0m0.4 0.5h0m0.1 -0.9h0m0.4 0.6h0m0.2 -0.6h0m0.1 0.7h0m0.5 -0.8h0m0.1 1.1h0m0.2 -0.7h0m0.1 0.7h0m0.4 -1.1h0m0.1 0.9h0m0.3 -0.8h0m0.1 0.9h0m0.1 0.9h0m0.1 -0.7h0m0.4 -0.5h0m0.4 1.4h0m0 -1.3h0m0.3 0.7h0m0.1 -0.6h0m0.5 0.6h0m0.3 -1h0m0.3 1h0m0.1 -0.8h0m0.5 0.8h0m0.1 -0.6h0m0.1 -0.6h0m0.1 1.5h0m0 -0.6h0m0.1 -0.8h0m0.3 0.6h0m0.5 -0.6h0m0.1 0.7h0m0.1 -1h0m0.1 0.7h0m0 -0.6h0m0.1 1.1h0m0.3 -0.9h0m0 0.9h0m0.4 -0.5h0m0.1 0.6h0m0.3 -1.1h0m0 0.7h0m0.1 0.7h0m0.1 -1.4h0m0.1 0.6h0m0.1 0.6h0m0 -1.1h0m0.1 1.2h0m0.3 -0.6h0m0.1 -1.3h0m0.1 1.1h0m0.2 1.2h0m0 -0.7h0m0.1 -1.3h0m0.1 0.8h0m0.1 -0.8h0m0.1 1.5h0m0 -1h0m0.1 0.6h0m0.4 -0.5h0m0.1 0.6h0m0.2 -0.6h0m0.2 0.6h0m0.5 -0.7h0m0.1 0.6h0m0.2 -1.4h0m0.1 1.4h0m0.1 -0.7h0m0.2 0.9h0m0.1 -0.7h0m0.3 -1.8h0m0.1 0.6h0m0.2 -0.6h0m0.1 -0.8h0m0.2 -0.9h0m0.1 0.8h0m0.1 -1h0m0.2 1.2h0m0.3 0.8h0m0.2 1.6h0m0.2 -0.7h0m0.2 1.5h0m0.1 -1.1h0m0.1 1.3h0m0.1 -0.9h0" fill="none" stroke="#ef343d" stroke-width="1.8" stroke-linecap="round"/>
<path d="M67.5 486.5V494.9M83.3 486.5V494.9M96.4 486.5V494.9M100.8 486.5V494.9M121.2 486.5V494.9M131.7 486.5V494.9M146.3 486.5V494.9M151.4 486.5V494.9M154.7 486.5V494.9M156.2 486.5V494.9M160.6 486.5V494.9M169.3 486.5V494.9M177.6 486.5V494.9M187.5 486.5V494.9M194.3 486.5V494.9M223.6 486.5V494.9M231.1 486.5V494.9M251 486.5V494.9M257.5 486.5V494.9M270 486.5V494.9M276.2 486.5V494.9M282.3 486.5V494.9M299.8 486.5V494.9M305.9 486.5V494.9M322.8 486.5V494.9" stroke="#5590f0" stroke-width="1.3"/>
<path d="M27.1 514.6L27.4 515L27.6 514.5L27.9 515.4L28.1 516L28.4 514.5L28.6 514.9L28.9 514.9L29.1 515.8L29.4 514.6L29.6 515.6L29.9 515.1L30.1 515.4L30.4 514.6L30.6 514.5L30.9 514.7L31.1 515.4L31.4 514.8L31.6 515.4L31.9 515.8L32.1 514L32.4 514.3L32.6 514.6L32.9 514.5L33.1 515.2L33.4 514.3L33.6 514.4L33.9 514.8L34.1 514.9L34.4 515L34.6 514.9L34.9 514L35.1 514.6L35.4 515.2L35.6 515.1L35.9 515.2L36.1 514.3L36.4 514.5L36.6 513.9L36.9 514.8L37.1 514.4L37.4 515.3L37.6 514.7L37.9 515.6L38.1 516.2L38.4 515.1L38.6 515.2L38.9 514.2L39.1 514.6L39.4 513.5L39.6 514.5L39.9 516.3L40.1 515.3L40.4 515.7L40.6 514.8L40.9 514.8L41.1 515L41.4 514.7L41.6 515.2L41.9 515.3L42.1 514.2L42.4 513.7L42.6 514.8L42.9 514.8L43.1 514.1L43.4 515.4L43.6 515.8L43.9 515.3L44.1 514.1L44.4 515.1L44.6 514.4L44.9 515.5L45.1 515.2L45.4 515.2L45.6 515.5L45.9 515.3L46.1 516.5L46.4 514.2L46.6 515.1L46.9 515.5L47.1 515.4L47.4 513.4L47.6 515.6L47.9 514.7L48.1 514.4L48.4 516L48.6 514.9L48.9 515.4L49.1 515.3L49.4 515.3L49.6 515.6L49.9 515.2L50.1 515.8L50.4 515L50.6 514.5L50.9 515.8L51.1 515L51.4 515.4L51.6 514.1L51.9 513.5L52.1 515.1L52.4 515.2L52.6 515.9L52.9 514.3L53.1 514.5L53.4 515.2L53.6 515.7L53.9 515.2L54.1 515.3L54.4 515.5L54.6 516.3L54.9 515.9L55.1 514.8L55.4 514.1L55.6 514L55.9 514.8L56.1 514.5L56.4 515.1L56.6 514.9L56.9 513.7L57.1 515.6L57.4 515.4L57.6 514.5L57.9 514.2L58.1 515.9L58.4 515.2L58.6 514.9L58.9 514.4L59.1 514.6L59.4 516L59.6 514.6L59.9 515L60.1 514.8L60.4 514.9L60.6 514.3L60.9 515.8L61.1 515.1L61.4 515.5L61.6 514.5L61.9 514.9L62.1 516.2L62.4 515L62.6 514.8L62.9 514.2L63.1 514.7L63.4 515.4L63.6 514.8L63.9 514.7L64.1 515.7L64.4 516L64.6 515L64.9 516.7L65.1 514.8L65.4 514.8L65.6 514.1L65.9 514.5L66.1 514.5L66.4 516.1L66.6 512.7L66.9 511.2L67.1 510.4L67.2 511.3L67.4 512.5L67.6 520.2L67.8 522.6L67.9 523.5L68.1 520.5L68.4 517.7L68.6 515.7L68.9 514.5L69.1 515.2L69.4 515.3L69.6 515.5L69.9 514.4L70.1 514.3L70.4 515.1L70.6 515.1L70.9 514.7L71.1 514.1L71.4 515.1L71.6 515.7L71.9 514.5L72.1 515.4L72.4 514.3L72.6 515.5L72.9 514.3L73.1 515.7L73.4 515L73.6 515.8L73.9 514.8L74.1 514.3L74.4 514.5L74.6 514.5L74.9 515.2L75.1 514.7L75.4 515.4L75.6 515L75.9 514.8L76.1 514.8L76.4 514.9L76.6 515.4L76.9 515.9L77.1 514.8L77.4 515.1L77.6 515.7L77.9 515.9L78.1 514.6L78.4 514.4L78.6 514.8L78.9 515.8L79.1 514.8L79.4 515.7L79.6 515L79.9 515.5L80.1 515.4L80.4 515.1L80.6 514.7L80.9 515.2L81.1 516.5L81.4 514.5L81.6 515.6L81.9 515L82.1 514.3L82.4 515.1L82.6 515.7L82.9 514.4L83.1 514.5L83.4 515.6L83.6 514.3L83.9 515.8L84.1 515.8L84.4 514.7L84.6 515.2L84.9 515.8L85.1 515.7L85.4 514L85.6 514.3L85.9 515.2L86.1 515.8L86.4 516.1L86.6 515.4L86.9 515.1L87.1 514.6L87.4 515.6L87.6 515.2L87.9 516.3L88.1 516.3L88.4 515.6L88.6 514.7L88.9 515.1L89.1 515.8L89.4 515.3L89.6 515.5L89.9 514.8L90.1 513.8L90.4 515.6L90.6 516.3L90.9 514.9L91.1 515.3L91.4 514.1L91.6 516L91.9 516.6L92.1 516L92.4 514.6L92.6 515.3L92.9 515.3L93.1 515.4L93.4 514.8L93.6 515.5L93.9 515.3L94.1 514.5L94.4 514.6L94.6 516.2L94.9 515.4L95.1 515.5L95.4 516.4L95.6 514.8L95.9 515.9L96.1 515.9L96.4 514.8L96.6 515.1L96.9 515.4L97.1 514.3L97.4 514.2L97.6 514.8L97.9 516L98.1 515.1L98.4 516.2L98.6 514.2L98.9 515L99.1 515.4L99.4 515.9L99.6 515.7L99.9 515.9L100.1 515.6L100.4 515.3L100.6 516.2L100.9 515.7L101.1 514.8L101.4 515.8L101.6 515.6L101.9 515.4L102.1 515.6L102.4 515.1L102.6 515L102.9 514.3L103.1 515L103.4 516.1L103.6 513.7L103.9 515L104.1 515.6L104.4 515.6L104.6 514.3L104.9 515.2L105.1 515.4L105.4 515.9L105.6 515.3L105.9 514.9L106.1 515.6L106.4 515.3L106.6 514.6L106.9 515.3L107.1 515.4L107.4 515.2L107.6 515L107.9 515.3L108.1 515.3L108.4 515.7L108.6 514.6L108.9 515L109.1 515.6L109.4 515L109.6 514.7L109.9 514.5L110.1 514.4L110.4 514.7L110.6 515.2L110.9 515.7L111.1 515.4L111.4 515.4L111.6 515.6L111.9 515.2L112.1 514.5L112.4 515.3L112.6 515.4L112.9 516.5L113.1 515.3L113.4 516.5L113.6 515.2L113.9 514.5L114.1 515.1L114.4 515.1L114.6 515.2L114.9 515.1L115.1 516.7L115.4 515.5L115.6 515.2L115.9 515.3L116.1 515.3L116.4 515.9L116.6 515.3L116.9 515.9L117.1 514.7L117.4 515.5L117.6 515.2L117.9 515.4L118.1 514.6L118.4 514.9L118.6 514.4L118.9 515.6L119.1 516.1L119.4 515.3L119.6 514.4L119.9 514.6L120.1 514.1L120.4 510.3L120.6 510.3L120.7 511.1L120.9 513.7L121.1 520.2L121.3 522.8L121.4 523L121.6 521.4L121.9 518.3L122.1 515L122.4 514.8L122.6 515.2L122.9 515.4L123.1 515.4L123.4 514.7L123.6 514.6L123.9 516.4L124.1 515.4L124.4 515.6L124.6 516.4L124.9 514.2L125.1 515.5L125.4 515.2L125.6 515.3L125.9 516.2L126.1 515.3L126.4 514.5L126.6 514.6L126.9 514.6L127.1 516L127.4 515L127.6 514.7L127.9 515.2L128.1 514.5L128.4 515.6L128.6 515.4L128.9 515.5L129.1 516L129.4 515.1L129.6 515.9L129.9 514.4L130.1 515.9L130.4 516.3L130.6 514.4L130.9 514.1L131.1 511.3L131.4 512L131.4 512.3L131.6 515.1L131.9 519L132 520.7L132.1 520.8L132.4 519.2L132.6 516.8L132.9 514.7L133.1 516.1L133.4 515.7L133.6 514.5L133.9 515.3L134.1 516L134.4 516.6L134.6 515.3L134.9 515.1L135.1 516.1L135.4 515.4L135.6 515.4L135.9 514.5L136.1 514.8L136.4 515.6L136.6 516.5L136.9 515.6L137.1 515.3L137.4 515.2L137.6 514.7L137.9 514.7L138.1 515.8L138.4 516.5L138.6 515.2L138.9 514.9L139.1 514.5L139.4 515.1L139.6 516L139.9 514.5L140.1 515.2L140.4 516.1L140.6 516.3L140.9 515L141.1 515.6L141.4 515.7L141.6 515.5L141.9 515.4L142.1 515.5L142.4 515.5L142.6 515.3L142.9 515.3L143.1 515.2L143.4 516.8L143.6 515.4L143.9 516.1L144.1 514.9L144.4 516.3L144.6 516.1L144.9 515.5L145.1 516.9L145.4 515.9L145.6 516.6L145.9 515.2L146 514.6L146.1 516.8L146.4 517.1L146.6 517.1L146.6 516.8L146.9 517.2L147.1 516.6L147.4 516.3L147.6 515.4L147.9 515.2L148.1 514.6L148.4 514.9L148.6 516.3L148.9 514.7L149.1 515.4L149.4 515.2L149.6 515L149.9 514.7L150.1 514.7L150.4 513.4L150.6 508L150.9 502.5L151.1 501.5L151.1 502.1L151.4 512.9L151.6 523L151.7 524.3L151.9 525.8L152.1 522L152.4 517.2L152.6 515.9L152.9 515.4L153.1 516.3L153.4 514.7L153.6 515L153.9 515.4L154.1 514L154.4 514.6L154.6 515.8L154.9 516.1L155.1 516.5L155.4 515.3L155.6 515.8L155.9 515.5L156.1 515L156.4 515.6L156.6 515.4L156.9 516.2L157.1 515.3L157.4 514.7L157.6 515.6L157.9 515.1L158.1 515.6L158.4 515.7L158.6 514.4L158.9 514.5L159.1 515.7L159.4 516L159.6 515.1L159.9 515.5L160.1 515.8L160.4 515.2L160.7 515.4L160.9 515.2L161.2 516.1L161.4 515.5L161.7 514.9L161.9 515.6L162.2 515L162.4 515.3L162.7 514.7L162.9 515.4L163.2 515.9L163.4 515.9L163.7 515.8L163.9 514.9L164.2 515.3L164.4 515.3L164.7 515L164.9 514.9L165.2 514L165.4 515.8L165.7 514L165.9 514.3L166.2 514L166.4 513.1L166.7 513.2L166.9 513.7L167 513.5L167.2 513.8L167.4 513L167.6 513.7L167.7 513.2L167.9 513.9L168.2 513L168.4 510.8L168.7 506.7L168.9 503.6L169 503.3L169.2 506.6L169.4 514.7L169.6 520.4L169.7 521.1L169.9 521.2L170.2 519.1L170.4 515.1L170.7 516.3L170.9 516.3L171.2 515.8L171.4 515.3L171.7 515.9L171.9 514.6L172.2 514.7L172.4 515.6L172.7 515.1L172.9 515.9L173.2 514.9L173.4 514.4L173.7 515.4L173.9 515.8L174.2 514.6L174.4 515.5L174.7 515.5L174.9 515.7L175.2 515.9L175.4 515.6L175.7 515.1L175.9 514.7L176.2 515.8L176.4 515.3L176.7 516L176.9 516.2L177.2 515.1L177.4 515.2L177.7 516.2L177.9 515.6L178.2 514.8L178.4 515.4L178.7 515.2L178.9 516.2L179.2 514.7L179.4 515.1L179.7 516L179.9 516L180.2 515.6L180.4 515.2L180.7 514.9L180.9 514L181.2 515.9L181.4 515.6L181.7 515.5L181.9 514.7L182.2 514.4L182.4 515.2L182.7 515.2L182.9 516.2L183.2 516.9L183.4 514.7L183.7 515L183.9 516L184.2 516L184.4 515.9L184.7 515.4L184.9 515.2L185.2 515.2L185.4 514.7L185.7 515L185.9 515L186.2 516.1L186.4 516.3L186.7 515.6L186.9 514.6L187.2 515.3L187.4 515.2L187.7 516.2L187.9 514.9L188.2 515.7L188.4 515.4L188.7 516L188.9 515.1L189.2 516.4L189.4 515.7L189.7 515.3L189.9 515.3L190.2 515.2L190.4 516.1L190.7 515.9L190.9 515.3L191.2 517.1L191.4 515.7L191.7 516L191.9 516.4L192.2 516.1L192.4 515.7L192.7 514.7L192.9 514.2L193.2 513.5L193.4 510.2L193.7 509L193.7 510.2L193.9 513.2L194.2 519.2L194.3 520.2L194.4 520.3L194.7 519.3L194.9 517.6L195.2 515.2L195.4 515.5L195.7 515.8L195.9 515.6L196.2 515.7L196.4 514L196.7 515.8L196.9 516L197.2 514.9L197.4 515.7L197.7 515.4L197.9 515.4L198.2 517.4L198.4 515.3L198.7 514.7L198.9 515L199.2 515L199.4 515.5L199.7 515.7L199.9 515.2L200.2 516.9L200.4 515.7L200.7 515.5L200.9 515.2L201.2 515.6L201.4 514.9L201.7 515.3L201.9 515.1L202.2 515.9L202.4 515L202.7 514.8L202.9 515.2L203.2 516.1L203.4 515.7L203.7 515.2L203.9 515.4L204.2 515L204.4 515L204.7 515.6L204.9 515L205.2 514.9L205.4 515.2L205.7 515.5L205.9 515.8L206.2 515.1L206.4 515.6L206.7 515.7L206.9 516.5L207.2 515.5L207.4 514.1L207.7 515.6L207.9 514.8L208.2 515.7L208.4 515.5L208.7 514.8L208.9 514.1L209.2 515.7L209.4 515L209.7 516.1L209.9 514.6L210.2 514.6L210.4 514.6L210.7 515.6L210.9 516.3L211.2 515.5L211.4 514.7L211.7 515.8L211.9 514.6L212.2 515.5L212.4 516.3L212.7 515.4L212.9 514.6L213.2 515.4L213.4 515.6L213.7 514.5L213.9 515.7L214.2 515.5L214.4 514.1L214.7 515.7L214.9 514.8L215.2 515.1L215.4 516.1L215.7 515.8L215.9 515.1L216.2 515.9L216.4 516.6L216.7 516.3L216.9 515.1L217.2 516.5L217.4 515.3L217.7 514.7L217.9 514.9L218.2 514.3L218.4 515.1L218.7 515.3L218.9 516.5L219.2 515.2L219.4 514.8L219.7 515.7L219.9 515.5L220.2 516.1L220.4 514.8L220.7 515.9L220.9 514.8L221.2 515.1L221.4 516L221.7 515.1L221.9 515.7L222.2 515.1L222.4 515.6L222.7 514.1L222.9 511.9L223.2 510.7L223.3 509.4L223.4 512L223.7 517L223.9 519.8L223.9 520.6L224.2 520.4L224.4 517.1L224.7 515.8L224.9 516.3L225.2 515.2L225.4 514.6L225.7 516.8L225.9 516.4L226.2 515.1L226.4 515.7L226.7 515.2L226.9 515.6L227.2 515.8L227.4 516.7L227.7 516L227.9 516.6L228.2 515.5L228.4 515L228.7 515.6L228.9 515.3L229.2 513.9L229.4 516.2L229.7 515L229.9 516.5L230.2 514.6L230.4 515.2L230.7 516.4L230.9 515L231.2 515.5L231.4 516.3L231.7 514.8L231.9 516L232.2 515.5L232.4 515L232.7 515.4L232.9 515.7L233.2 516.5L233.4 516.8L233.7 515.6L233.9 515.1L234.2 515.6L234.4 515.6L234.7 514.8L234.9 514.6L235.2 514.9L235.4 515.4L235.7 515.4L235.9 515.8L236.2 515.2L236.4 515.4L236.7 516.1L236.9 514.7L237.2 514.3L237.4 516.2L237.7 516L237.9 514.9L238.2 516.2L238.4 515.6L238.7 515L238.9 516.4L239.2 514.5L239.4 514.9L239.7 515.5L239.9 515.9L240.2 515.5L240.4 516L240.7 514.8L240.9 515.3L241.2 516.2L241.4 515.2L241.7 515.1L241.9 515L242.2 515.4L242.4 515.3L242.7 514L242.9 514.3L243.2 516.3L243.4 516.2L243.7 515.3L243.9 515.9L244.2 515L244.4 515.8L244.7 516L244.9 515.1L245.2 515.2L245.4 515.6L245.7 516.1L245.9 515.1L246.2 515.8L246.4 515.4L246.7 515L246.9 516.1L247.2 516.3L247.4 514.7L247.7 515.5L247.9 515.2L248.2 514.7L248.4 515.5L248.7 515.4L248.9 515L249.2 514.6L249.4 515.8L249.7 516L249.9 515.4L250.2 514.1L250.4 515.8L250.7 516.4L250.9 515.3L251.2 514.4L251.4 514.6L251.7 515.3L251.9 515.1L252.2 515.2L252.4 515.4L252.7 515.8L252.9 516.3L253.2 515.6L253.4 515.3L253.7 515.1L253.9 514.4L254.2 516.2L254.4 515.2L254.7 515.3L254.9 514.6L255.2 515.6L255.4 515.3L255.7 514.9L255.9 515.7L256.2 516.8L256.4 515.2L256.7 515.3L256.9 515.7L257.2 515L257.4 515.2L257.7 516.3L257.9 515.2L258.2 515.5L258.4 514.8L258.7 514.6L258.9 515.2L259.2 515.3L259.4 514.7L259.7 515.1L259.9 515.6L260.2 515.5L260.4 516.4L260.7 514.9L260.9 514.7L261.2 515.6L261.4 515.2L261.7 515.7L261.9 514.9L262.2 514.3L262.4 516.5L262.7 515.1L262.9 515.7L263.2 516.3L263.4 515.1L263.7 514.5L263.9 515.5L264.2 515.8L264.4 515.7L264.7 514.3L264.9 515.2L265.2 516.7L265.4 514.6L265.7 516.1L265.9 514.5L266.2 515L266.4 514.6L266.7 516L266.9 516L267.2 515.7L267.4 514.9L267.7 515.7L267.9 515.6L268.2 516.3L268.4 514.4L268.7 514.2L268.9 513L269.2 511.3L269.3 510.9L269.4 512.3L269.7 517.1L269.9 518.6L269.9 518.9L270.2 518.3L270.4 516.6L270.7 515.5L270.9 515.3L271.2 515.2L271.4 515.2L271.7 514.6L271.9 515.1L272.2 515.4L272.4 514.8L272.7 516.2L272.9 516.3L273.2 514.8L273.4 514.7L273.7 514L273.9 515.4L274.2 514.9L274.4 515.2L274.7 514.3L274.9 515.2L275.2 513.8L275.4 513.9L275.6 513.7L275.7 514.6L275.9 515.2L276.2 517.2L276.2 516.6L276.4 516.1L276.7 516.7L276.9 515.6L277.2 516.4L277.4 515.4L277.7 515.3L277.9 516.5L278.2 514.8L278.4 514.6L278.7 515.6L278.9 514.6L279.2 515.3L279.4 514.3L279.7 516.2L279.9 515.7L280.2 515.6L280.4 514.9L280.7 514.1L280.9 514.6L281.2 511.4L281.4 508L281.6 507.6L281.7 509.3L281.9 514.2L282.2 519L282.2 518.4L282.4 520.5L282.7 517.8L282.9 517.3L283.2 515.7L283.4 515.3L283.7 515.8L283.9 515.1L284.2 515.8L284.4 515.8L284.7 516.2L284.9 515.3L285.2 515.2L285.4 516.1L285.7 515.3L285.9 515L286.2 516L286.4 515.1L286.7 515.9L286.9 516L287.2 514.9L287.4 515.3L287.7 515.4L287.9 515.3L288.2 515.2L288.4 516.1L288.7 515.4L288.9 515.5L289.2 515.4L289.4 515L289.7 515.6L289.9 515.9L290.2 514.7L290.4 515.6L290.7 516.2L290.9 515.8L291.2 516.2L291.4 515.4L291.7 515L291.9 515L292.2 515.3L292.4 516.7L292.7 515.3L292.9 514.9L293.2 516.1L293.4 516L293.7 515.6L293.9 515.6L294.2 515.1L294.4 514.6L294.7 515.3L294.9 515.1L295.2 514.4L295.4 516.8L295.7 515.2L295.9 514.8L296.2 515.2L296.4 515.6L296.7 515.4L296.9 516.2L297.2 515.3L297.4 516.3L297.7 515.3L297.9 515.4L298.2 515.5L298.4 515.3L298.7 514.6L298.9 513.8L299.2 513.6L299.3 514.4L299.4 514.7L299.7 515.9L299.9 516.6L299.9 517.2L300.2 515.3L300.4 515.4L300.7 515.8L300.9 514.8L301.2 515.6L301.4 514.9L301.7 514.5L301.9 514.9L302.2 515L302.4 514.4L302.7 515.2L302.9 514.9L303.2 515.9L303.4 514.5L303.7 515.6L303.9 514.9L304.2 514.9L304.4 515.5L304.7 515.2L304.9 513.6L305.2 513.4L305.2 513.3L305.4 514.5L305.7 516.7L305.8 515.9L305.9 516.6L306.2 515.3L306.4 515.6L306.7 516.1L306.9 515.7L307.2 515.1L307.4 515.6L307.7 514.8L307.9 514.3L308.2 514.9L308.4 514.3L308.7 515.6L308.9 515.9L309.2 515.3L309.4 515.5L309.7 515.1L309.9 515L310.2 515.7L310.4 514.7L310.7 514.2L310.9 515.7L311.2 514.8L311.4 516.4L311.7 515.1L311.9 514.5L312.2 515.6L312.4 514.7L312.7 514.7L312.9 516L313.2 515.8L313.4 516.2L313.7 516.4L313.9 516.2L314.2 515.8L314.4 515.1L314.7 514.8L314.9 516.1L315.2 516L315.4 515.1L315.7 514.6L315.9 515.5L316.2 516.2L316.4 516L316.7 514.7L316.9 514.5L317.2 515.5L317.4 515L317.7 515.1L317.9 516.2L318.2 515.6L318.4 516L318.7 514.8L318.9 515.3L319.2 516L319.4 515.7L319.7 516.1L319.9 515.9L320.2 515.5L320.4 515.1L320.7 514.8L320.9 514.6L321.2 514.9L321.4 515L321.7 515.3L321.9 516.7L322.2 515.3L322.4 515L322.7 515.4L322.9 515.9L323.2 515L323.4 515.4L323.7 516" fill="none" stroke="#55bd76" stroke-width="2" stroke-linejoin="round"/>
<rect x="27.1" y="313.5" width="296.6" height="218.3" fill="none" stroke="#1a1a1a" stroke-width="1.5"/>
<path d="M27.1 531.8v-4M56.8 531.8v-2.2M86.4 531.8v-4M116.1 531.8v-2.2M145.7 531.8v-4M175.4 531.8v-2.2M205.1 531.8v-4M234.7 531.8v-2.2M264.4 531.8v-4M294 531.8v-2.2M323.7 531.8v-4" stroke="#1a1a1a" stroke-width="1.3"/>
<text x="27.1" y="546.3" text-anchor="middle" font-size="12" font-weight="bold">10</text>
<text x="86.4" y="546.3" text-anchor="middle" font-size="12" font-weight="bold">20</text>
<text x="145.7" y="546.3" text-anchor="middle" font-size="12" font-weight="bold">30</text>
<text x="205.1" y="546.3" text-anchor="middle" font-size="12" font-weight="bold">40</text>
<text x="264.4" y="546.3" text-anchor="middle" font-size="12" font-weight="bold">50</text>
<text x="323.7" y="546.3" text-anchor="middle" font-size="12" font-weight="bold">60</text>
<text x="175.4" y="570" text-anchor="middle" font-size="14.3" font-weight="bold">2 theta / <tspan dy="0.9">°</tspan></text>
<text transform="translate(11.8 422.6) rotate(-90)" text-anchor="middle" font-size="14.4" font-weight="bold">Intensity (a.u.)</text>
<text x="5.9" y="310.8" font-size="28" font-weight="bold">c</text>
<text x="28.7" y="327.2" font-size="14.4">LGLZO_5</text>
<text x="269.5" y="324.6" font-size="11.45">Observed</text>
<text x="269.5" y="338.2" font-size="11.45">Calculated</text>
<text x="269.5" y="352.3" font-size="11.45">Difference</text>
<text x="269.5" y="366.2" font-size="11.45">Cubic</text>
<circle cx="250.7" cy="321.2" r="0.9" fill="#ef343d"/>
<path d="M237.3 334.6H263.9" stroke="#444" stroke-width="1.8"/>
<path d="M237.3 348.6H263.9" stroke="#55bd76" stroke-width="2"/>
<path d="M250.7 358.6V366.6" stroke="#8fb6ee" stroke-width="1.3"/>
<path d="M391.2 466L416.6 467L422.8 467.1L424.8 467L426.2 466.7L427.1 466.2L427.8 465.5L428.2 464.2L428.6 462.3L429 455L429.3 440.8L429.8 406.9L430 399.1L430.2 407.7L430.8 445.9L431.1 457.6L431.4 461.7L431.6 463.7L432.1 465.4L432.8 466.4L433.4 466.9L434.1 467.2L436.2 467.6L440.7 467.9L442 467.9L442.7 467.7L443.1 467.3L443.4 466.3L444.2 460.8L444.4 459.9L444.6 460.4L445.1 465.1L445.4 466.8L445.9 467.8L446.7 468.1L448.7 468.4L452.6 468.6L454.7 468.6L455.7 468.4L456.1 468.1L456.4 467.2L457 463.3L457.3 462.5L457.5 463.3L458.3 467.8L458.7 468.5L459.3 468.8L461 469L465.1 469.3L473.6 469.4L475.1 469.3L476.3 469.1L477.1 468.7L477.7 468.1L478.3 467L478.6 465.5L478.8 463.1L479.1 458.3L479.4 445L479.9 408.5L480.1 404.5L480.3 411.9L480.8 444.2L481.1 457.9L481.5 464.9L481.8 466.4L482.1 467.5L482.7 468.5L483.6 469.1L485 469.5L486.6 469.5L487.6 469.3L488.3 468.7L488.8 467.9L489.1 466.7L489.5 463.4L489.7 458.1L490.6 422L490.8 426.7L491.5 459.1L491.9 465L492.3 468L492.8 468.9L493.6 469.6L494.7 470L496.3 470.3L499.6 470.5L503 470.5L504.7 470.2L505.9 469.6L506.5 469L506.9 468.2L507.5 466.2L507.8 463.2L508 458.1L508.4 437.2L509 380.5L509.2 369.9L509.5 383.6L510 439.8L510.3 456.7L510.6 462.5L510.9 466L511.4 468L511.7 468.7L512 469L512.3 469L512.5 468.8L513.1 467.2L513.3 466.8L513.5 467.4L514.1 469.6L514.5 470.4L514.8 470.6L515.4 470.8L515.9 470.8L516.3 470.6L516.7 470.1L516.9 469.2L517.8 463.2L518 464L518.7 469L519.1 470.4L519.4 470.8L519.9 471L520.7 470.9L521.4 470.6L521.9 469.8L522.2 468.2L522.9 460.1L523.1 459L524 466.6L524.2 467.2L524.3 467.3L524.7 466.4L525.1 461.6L525.4 450.4L526.1 391L526.3 383.7L527.1 446.1L527.5 462.1L527.8 465.8L528.2 468.5L528.9 470.3L529.4 470.8L529.9 471.3L531.5 471.9L532.4 471.9L532.9 471.8L533.4 471.1L534.2 468.8L534.4 469.1L535.2 471.7L535.6 472.1L536.3 472.3L537.4 472.4L538 472.3L538.3 472L539 470.9L539.2 470.7L540 472.1L540.3 472.4L540.9 472.6L542.1 472.7L544.6 472.7L546.2 472.4L547.2 471.9L547.9 471L548.2 469.9L548.4 468.2L548.7 462.7L549.5 431.5L549.7 425.9L549.9 431.7L550.5 458.1L550.8 466.2L551.1 469.1L551.4 470.7L551.9 471.8L552.7 472.5L554.3 473L557.1 473.3L564 473.7L569.7 473.7L572.3 473.7L573.9 473.4L575 473L575.7 472.3L576 471.6L576.3 470.5L576.7 465.8L577 456.6L577.5 434.7L577.7 429.6L577.9 432.3L578.4 457.1L578.7 466.1L579 469.5L579.2 471.1L579.6 472.2L580.2 472.9L580.8 473.3L581.7 473.5L582.5 473.6L583 473.3L583.5 472.2L584.3 468.3L584.5 468.8L585.3 472.9L585.6 473.5L586.1 473.8L588.1 474.1L593.1 474.3L599.1 474.4L601.4 474.2L602 473.8L602.4 472.9L603.2 467.8L603.4 467.3L603.6 468.1L604.3 472.5L604.7 473.7L605 474L605.6 474.2L607.5 474.2L608.1 473.9L608.5 473L609.5 467.3L609.7 468L610.4 472.8L610.7 473.6L611.1 474.1L611.6 474.3L612.6 474.4L616 474.5L618 474.3L619.2 473.7L619.6 473.2L620 472.5L620.2 471.4L620.4 469L621.5 441.1L621.7 444.3L622.4 466.7L622.7 470.1L623 472.2L623.2 472.9L623.6 473.3L624 473.6L624.4 473.7L625 473.6L625.4 473.4L625.9 472.3L626.4 468.2L627 454.7L627.2 452.7L628 466.6L628.4 471.3L628.6 472.5L629 473.2L629.6 473.4L630.3 473.2L630.9 472.5L631.4 471.1L631.7 468.9L632 465L632.3 453.6L633.1 405.1L633.3 411.9L633.8 446.3L634.2 463.8L634.6 470.1L634.9 471.8L635.4 473L636 473.7L636.7 474.2L637.7 474.5L639.1 474.8L642 475L645.4 475L647.1 474.9L648 474.5L648.5 473.8L648.8 472.3L649.6 463.6L649.8 462L650 463.5L650.6 470.9L651 473.5L651.3 474.2L651.8 474.6L652.8 474.8L653.6 474.5L654 474.3L654.2 473.8L654.5 472.2L655.5 460.9L655.7 462.3L656.4 472L656.8 473.7L657 474.3L657.3 474.7L658.2 475L659.8 475.2L667.2 475.4L668 475.1L669 473.9L669.9 475L670.4 475.2L671 474.8L671.9 472.9L672.1 473.2L672.8 475L673.4 475.4" fill="none" stroke="#363636" stroke-width="1.4" stroke-linejoin="round"/>
<path d="M391.2 464.6h0m0.1 0.8h0m0.3 -0.6h0m0.2 -0.6h0m0 1.5h0m0.2 -0.7h0m0.4 -0.6h0m0.1 1.3h0m0.1 -0.8h0m0.2 -0.7h0m0.1 1.6h0m0.1 -0.8h0m0.1 1.1h0m0.1 -0.7h0m0.3 -0.8h0m0.3 1.2h0m0 -0.9h0m0.1 1h0m0.1 -0.7h0m0.4 -0.4h0m0.2 1h0m0 -0.7h0m0.1 -0.6h0m0.3 1.7h0m0 -1.5h0m0.3 1.2h0m0.1 -1.2h0m0.2 0.8h0m0.3 -0.8h0m0.1 0.6h0m0.2 -0.8h0m0.1 0.9h0m0.4 0.6h0m0.1 -0.7h0m0.6 0h0m0 -0.6h0m0.1 0.9h0m0.1 -1h0m0.2 0.7h0m0.1 -0.5h0m0.2 1h0m0.1 -0.9h0m0 1.2h0m0.2 -0.5h0m0.2 -1.2h0m0.1 0.7h0m0.2 0.7h0m0.1 -0.7h0m0.5 -0.9h0m0.1 1h0m0.3 0.6h0m0.1 -1.1h0m0.1 1.6h0m0.1 -0.9h0m0.1 -0.6h0m0.1 0.9h0m0.3 0.4h0m0.3 -1.3h0m0 1.5h0m0.2 -1.6h0m0.1 0.9h0m0.2 -0.6h0m0.1 1.1h0m0.2 -0.6h0m0.2 0.7h0m0.2 -0.9h0m0.2 0.6h0m0.1 -1h0m0.1 0.5h0m0 -0.7h0m0.3 1.2h0m0.2 -0.9h0m0.1 1.3h0m0.1 -1.2h0m0.1 0.8h0m0 -1.1h0m0.4 0.6h0m0.4 0.9h0m0 -1.4h0m0.2 0.7h0m0.2 -0.5h0m0.3 0.7h0m0.3 -0.4h0m0.3 0.4h0m0.2 -0.5h0m0.2 -0.7h0m0.1 1.5h0m0.4 -0.9h0m0.1 0.9h0m0.3 -1.1h0m0.2 0.7h0m0.1 -0.7h0m0.1 0.7h0m0.1 0.7h0m0.1 -1.1h0m0.2 0.6h0m0.3 -0.7h0m0.2 0.6h0m0.2 0.7h0m0.1 -0.5h0m0.1 -1.1h0m0.1 0.7h0m0 -0.8h0m0.2 1.4h0m0.2 -0.8h0m0.4 0.4h0m0 0.6h0m0.2 -0.7h0m0.3 1h0m0.2 -2.2h0m0.1 0.7h0m0 1.3h0m0.1 -1.8h0m0.1 0.9h0m0.5 0.6h0m0.1 -0.9h0m0.2 0.7h0m0.3 -1.1h0m0.1 0.7h0m0.4 1h0m0.2 -0.7h0m0.3 -0.5h0m0.1 1.1h0m0.1 -0.7h0m0.6 0h0m0.1 0.6h0m0 -1.4h0m0.1 0.9h0m0.2 0.7h0m0.1 -1.1h0m0.1 1h0m0.2 -1.1h0m0.1 0.6h0m0.2 -0.6h0m0.2 0.8h0m0 -0.8h0m0.4 0.8h0m0.3 -0.9h0m0.2 0.7h0m0.3 0.6h0m0 -0.9h0m0.1 -0.7h0m0.1 1.7h0m0.2 -0.7h0m0.3 -0.6h0m0.1 1h0m0 -1.1h0m0.1 1.4h0m0.3 -0.6h0m0.1 -1h0m0.1 1.1h0m0.2 -0.5h0m0.2 0.6h0m0.2 -0.7h0m0.1 1.1h0m0.1 -1.1h0m0.1 0.6h0m0.4 0.6h0m0.1 -1.3h0m0.2 0.7h0m0.4 0.5h0m0.1 -0.8h0m0.2 0.7h0m0.3 -1.3h0m0 0.7h0m0.4 0.4h0m0 -1.1h0m0.1 0.7h0m0.1 0.8h0m0.2 -1h0m0.3 1.3h0m0.1 -1.2h0m0 -0.6h0m0.1 0.9h0m0.2 -0.5h0m0.5 -0.3h0m0 0.6h0m0.3 -0.5h0m0.1 0.9h0m0.1 -0.7h0m0.1 1h0m0.2 -0.7h0m0.3 -0.7h0m0.3 1.3h0m0.2 -0.9h0m0 -0.6h0m0.1 1h0m0.3 -0.7h0m0 0.8h0m0.6 0.2h0m0.2 -1.3h0m0.1 1.3h0m0.3 -0.5h0m0.2 0.5h0m0.2 -0.9h0m0 -0.6h0m0.1 0.9h0m0.4 -0.4h0m0.2 0.8h0m0.3 -0.8h0m0.1 0.7h0m0.1 -1.1h0m0.4 0.4h0m0.4 -1.1h0m0.1 0.6h0m0.2 -0.6h0m0.2 -0.6h0m0.3 1h0m0 -1.9h0m0.2 -0.8h0m0.2 -0.5h0m0 -1.3h0m0.1 -1.1h0m0.1 -0.7h0m0.1 -1.2h0m0.1 -4h0m0 -0.7h0m0.1 -3.9h0m0.1 -4.4h0m0.1 -5.1h0m0.1 -4.7h0m0 -5.5h0m0.1 -5.8h0m0.1 -5.4h0m0.1 -6h0m0.1 -5.2h0m0 -4.6h0m0.1 -2.5h0m0.1 -1.2h0m0.1 1.2h0m0.1 2.1h0m0 5.6h0m0.1 4.8h0m0.1 6.9h0m0.1 4.8h0m0.1 5.8h0m0 7h0m0.1 4.1h0m0.1 4.4h0m0.1 4.2h0m0.1 2.5h0m0 3.4h0m0.1 2.1h0m0.1 1.6h0m0.1 1.1h0m0.1 1.1h0m0 0.6h0m0.1 1h0m0.3 0.9h0m0.1 0.9h0m0.2 1.4h0m0.1 -0.8h0m0.4 0.7h0m0 0.6h0m0.1 -0.8h0m0.6 -0.1h0m0.1 0.7h0m0.3 -0.7h0m0.1 0.8h0m0.3 1.2h0m0.1 -1.5h0m0.1 1.3h0m0.1 -0.7h0m0.2 0.5h0m0.1 -0.8h0m0.3 0.7h0m0 -1h0m0.1 0.6h0m0.4 0.6h0m0.1 -0.9h0m0.1 1h0m0.1 -0.8h0m0.3 0.7h0m0.1 -0.6h0m0.1 1.4h0m0.2 -1.6h0m0.1 1h0m0.1 -1.3h0m0.1 1.6h0m0.1 -0.6h0m0.2 -0.7h0m0.1 1.3h0m0.1 -1.6h0m0.1 0.7h0m0.3 1h0m0.1 -0.7h0m0 -1h0m0.2 1.2h0m0.1 -0.9h0m0.1 1.7h0m0 -1.7h0m0.2 0.9h0m0.5 -0.8h0m0.1 0.7h0m0.5 0h0m0.1 -0.8h0m0.1 0.8h0m0.1 -0.9h0m0 1h0m0.4 0.8h0m0 -0.9h0m0.2 -0.6h0m0.1 0.8h0m0.4 -0.5h0m0.2 -0.6h0m0.1 0.9h0m0.2 -0.7h0m0 0.6h0m0.2 0.7h0m0.2 -0.7h0m0 0.8h0m0.1 -1h0m0.2 1h0m0.1 -0.7h0m0.4 -0.9h0m0 1h0m0.1 -0.7h0m0.5 -0.8h0m0.2 0.7h0m0.1 -1.6h0m0.2 -1.2h0m0.1 -1.7h0m0.1 0.6h0m0.1 -0.9h0m0.1 -1h0m0.1 -1.5h0m0.1 -1.1h0m0.1 1.6h0m0.3 1.6h0m0.2 1h0m0.1 0.9h0m0.1 0.9h0m0.1 0.7h0m0.1 1h0m0.1 -1.3h0m0 2.3h0m0.1 -1.4h0m0.1 2h0m0.2 -0.9h0m0 0.8h0m0.4 0.6h0m0.1 -1.7h0m0.1 0.9h0m0.1 0.7h0m0.1 -0.8h0m0.2 0.6h0m0.2 0.6h0m0 -0.5h0m0.2 -1.2h0m0.1 1.9h0m0.1 -1.3h0m0 0.6h0m0.4 0.6h0m0 -0.8h0m0.3 0.5h0m0.1 -0.7h0m0 0.5h0m0.4 -0.6h0m0 1h0m0.2 -1.4h0m0.1 0.9h0m0.1 -0.9h0m0.1 0.9h0m0.1 -0.8h0m0.1 1.6h0m0.1 -0.9h0m0.2 1.5h0m0.1 -1h0m0.1 -0.5h0m0.4 1h0m0 -1.2h0m0.1 0.6h0m0.2 -1.3h0m0.1 1.7h0m0.2 -0.6h0m0.1 -0.7h0m0.1 0.7h0m0.1 1.1h0m0.2 -1.4h0m0.5 0.7h0m0 -1.4h0m0.1 1.5h0m0.3 -1.1h0m0.1 1h0m0.3 -1.1h0m0.1 0.6h0m0.1 1h0m0.1 -1.7h0m0.1 1.1h0m0.1 -0.6h0m0.3 0.7h0m0 -0.9h0m0.3 0.9h0m0.2 -1.2h0m0.2 0.6h0m0.1 0.6h0m0.4 -0.7h0m0.1 0.7h0m0.1 -0.6h0m0.2 0.9h0m0.2 -0.7h0m0.2 -0.8h0m0.2 0.7h0m0.4 -1h0m0.5 -1h0m0.1 -0.6h0m0.1 -0.5h0m0.2 -1.7h0m0.1 -0.9h0m0.2 -0.5h0m0.1 0.5h0m0.2 1.1h0m0.1 -1h0m0.1 2h0m0.1 -0.7h0m0 1.2h0m0.2 1.9h0m0.1 -1h0m0.1 1.4h0m0.4 0.7h0m0.2 0.6h0m0.3 -0.5h0m0.1 -0.6h0m0.1 0.9h0m0.1 1.1h0m0 -0.8h0m0.3 -0.5h0m0.1 0.5h0m0.2 -0.9h0m0.1 1.1h0m0.1 -0.7h0m0.1 1.1h0m0.2 -0.9h0m0.5 -0.7h0m0 1.6h0m0.1 -1.1h0m0.1 1.1h0m0.4 -1h0m0.4 0.8h0m0.1 -0.7h0m0.2 0.9h0m0 -1h0m0.1 0.9h0m0.1 -0.8h0m0.1 0.6h0m0.5 -1h0m0 0.9h0m0.4 0.4h0m0.2 -0.7h0m0.1 -0.7h0m0.1 1.9h0m0 -1.5h0m0.1 0.7h0m0.2 -0.8h0m0.1 1.3h0m0 -0.6h0m0.4 -0.6h0m0.1 1.1h0m0.2 -0.6h0m0.5 0.6h0m0.1 -0.9h0m0.6 0.7h0m0.4 0.5h0m0.1 -1.1h0m0.1 0.5h0m0.6 -0.4h0m0.1 0.8h0m0.1 -0.8h0m0.3 1h0m0.1 -0.5h0m0.2 -0.6h0m0.1 0.8h0m0 -1.1h0m0.2 1.1h0m0.1 -0.6h0m0.1 0.5h0m0.4 -0.5h0m0.4 0.5h0m0.1 -0.7h0m0.3 0.7h0m0.4 -0.9h0m0.1 0.8h0m0.4 0.6h0m0.1 -0.9h0m0.2 0.5h0m0.4 0.6h0m0.4 -1.2h0m0.1 1h0m0.1 -1h0m0.2 0.6h0m0.2 -1.3h0m0.1 1.9h0m0.1 -1.4h0m0 0.8h0m0.4 -1.2h0m0.2 1.2h0m0.2 -0.8h0m0 1.1h0m0.1 -1h0m0.2 0.7h0m0.2 -0.6h0m0.1 0.6h0m0.1 -0.6h0m0.1 0.6h0m0.2 -1.5h0m0.1 0.8h0m0.2 -0.9h0m0.1 0.8h0m0.2 1.2h0m0.1 -0.6h0m0.1 -0.5h0m0.2 0.5h0m0.4 -0.6h0m0.2 0.8h0m0.2 -1.1h0m0.4 0.6h0m0.1 -0.8h0m0.2 0.8h0m0.1 -0.7h0m0.1 -0.8h0m0.4 0.7h0m0.3 -0.7h0m0.2 -0.5h0m0.2 -1.1h0m0.2 -0.8h0m0.1 0.8h0m0.1 -0.8h0m0.1 -2.1h0m0.1 -1.4h0m0.1 -2.3h0m0.1 -1.4h0m0 -2.2h0m0.1 -3h0m0.1 -2.6h0m0.1 -5.9h0m0.1 -4.1h0m0 -4.5h0m0.1 -5.7h0m0.1 -5.5h0m0.1 -6.4h0m0.1 -5.4h0m0 -4.8h0m0.1 -2.2h0m0.1 -0.6h0m0.2 3h0m0 3.5h0m0.1 4h0m0.1 6.5h0m0.1 6.1h0m0.1 5.6h0m0 5.1h0m0.1 5.4h0m0.1 3.8h0m0.1 4.1h0m0.1 1.9h0m0 3.3h0m0.1 3h0m0.1 1.9h0m0.2 0.8h0m0 1.4h0m0.1 1h0m0.3 1h0m0.1 0.8h0m0.3 1h0m0.1 -0.9h0m0.1 0.9h0m0.1 0.7h0m0.1 -1.3h0m0.1 0.9h0m0.2 -0.8h0m0.1 0.9h0m0 -0.6h0m0.1 0.7h0m0.1 -0.7h0m0.1 0.8h0m0.1 -0.8h0m0.1 0.6h0m0.1 0.7h0m0.6 0.5h0m0 -1.1h0m0.2 0.9h0m0.2 -0.9h0m0.1 0.6h0m0.1 -0.8h0m0.1 0.8h0m0.3 -1.1h0m0.2 1.6h0m0.1 -1.2h0m0.1 1h0m0.1 -0.6h0m0.3 0.8h0m0.4 -0.8h0m0.5 1.1h0m0.1 -1.5h0m0 0.7h0m0.6 -0.7h0m0.4 -0.4h0m0.2 -0.6h0m0.1 1.2h0m0.2 -1.1h0m0.1 0.6h0m0 -0.8h0m0.4 -1.2h0m0.1 -0.9h0m0.2 -0.8h0m0.1 -1.3h0m0 -1.5h0m0.1 -1.3h0m0.1 -2h0m0.1 -4.1h0m0.1 -2.1h0m0 -2.9h0m0.1 -5.2h0m0.1 -2.8h0m0.1 -5.6h0m0.1 -3.2h0m0 -4.9h0m0.1 -0.9h0m0.1 -4.9h0m0.2 2.4h0m0.1 2.1h0m0.1 3.6h0m0.1 5.3h0m0.1 3h0m0 4.3h0m0.1 3.8h0m0.1 2.7h0m0.1 3h0m0.1 4.9h0m0 2.3h0m0.1 1.8h0m0.1 1.2h0m0.1 1.3h0m0.1 1.7h0m0.2 1.1h0m0.1 0.5h0m0.1 1h0m0.4 0.9h0m0.2 -0.5h0m0.1 1.1h0m0.1 -1.3h0m0 1.4h0m0.3 -1.1h0m0.1 1.1h0m0.4 0.6h0m0.1 -1h0m0.3 0.9h0m0.1 -1.4h0m0.1 1.2h0m0.6 0.7h0m0.1 -1.1h0m0.1 0.7h0m0.1 0.7h0m0.1 -1.3h0m0.1 0.8h0m0.3 -0.7h0m0.1 0.5h0m0.2 -1h0m0.1 0.9h0m0.6 -0.2h0m0.4 0.9h0m0.2 -0.6h0m0.1 -0.5h0m0.3 0.8h0m0 -0.6h0m0.2 -0.9h0m0.1 1.3h0m0.4 -0.5h0m0.1 1.1h0m0.2 -0.6h0m0.5 -0.8h0m0.1 1.2h0m0 -0.8h0m0.1 0.7h0m0.1 -0.6h0m0.1 0.7h0m0.1 -1h0m0 0.8h0m0.4 0.4h0m0 -1h0m0.2 0.7h0m0.2 -0.9h0m0.2 0.9h0m0.5 -0.5h0m0.1 0.8h0m0.2 -1h0m0.1 0.6h0m0.1 -0.9h0m0 0.6h0m0.1 1h0m0.1 -0.7h0m0.1 -1.2h0m0.1 2.1h0m0.1 -0.8h0m0.4 0.8h0m0.1 -1h0m0.1 0.5h0m0.2 -1.8h0m0.1 1.3h0m0.2 -0.6h0m0.2 1h0m0.2 -0.6h0m0.5 -0.4h0m0.3 0.6h0m0.2 -1.3h0m0.1 1.8h0m0.1 -1.3h0m0.2 0.8h0m0.2 -0.6h0m0 -0.6h0m0.1 1.1h0m0.3 -1.3h0m0.5 -0.9h0m0.1 1h0m0.3 -1.1h0m0.4 -0.9h0m0.3 -1.9h0m0.1 -1.2h0m0.2 -0.9h0m0.1 -1.2h0m0 -1.9h0m0.1 -1.9h0m0.1 -3.1h0m0.1 -3.1h0m0.1 -3.7h0m0 -4.8h0m0.1 -6.8h0m0.1 -6.2h0m0.1 -7.9h0m0.1 -9.2h0m0 -8.9h0m0.1 -8.7h0m0.1 -7h0m0.1 -8.8h0m0.1 -6.8h0m0 -3h0m0.1 -0.8h0m0.1 1.9h0m0.1 7h0m0.1 4.9h0m0 7.2h0m0.1 10.5h0m0.1 8.3h0m0.1 9h0m0.1 8.2h0m0 6.7h0m0.1 8.1h0m0.1 3.8h0m0.1 4.7h0m0.1 4.5h0m0 2.9h0m0.1 1.6h0m0.1 2.7h0m0.1 1.2h0m0.1 2.1h0m0.1 0.8h0m0.3 1h0m0.1 0.9h0m0.2 0.6h0m0.1 -0.8h0m0 1.9h0m0.1 -1.1h0m0.1 1.4h0m0.2 -0.7h0m0 1h0m0.1 -1.4h0m0.1 0.7h0m0.3 -0.8h0m0.1 1.8h0m0.1 -1.7h0m0.3 -0.5h0m0.2 -1.2h0m0.1 1.1h0m0.2 -1.1h0m0.1 1.3h0m0.4 1.1h0m0.3 0.6h0m0.3 1h0m0.1 -0.7h0m0.1 0.7h0m0.3 -0.9h0m0.1 0.6h0m0.1 0.6h0m0.6 -0.1h0m0.3 -0.7h0m0.1 -0.5h0m0.1 1.2h0m0.1 -1h0m0.4 -0.8h0m0.1 -0.9h0m0.1 0.6h0m0.1 -1h0m0.1 -0.7h0m0.1 -1.5h0m0.1 0.8h0m0.1 -1.3h0m0 -1.2h0m0.1 -0.6h0m0.4 0.6h0m0.2 1.4h0m0.1 1.4h0m0 1h0m0.3 0.9h0m0.1 -0.6h0m0 1.2h0m0.1 1.4h0m0.1 -0.7h0m0.2 0.7h0m0.2 0.8h0m0.2 -0.8h0m0.3 1.2h0m0.1 -0.8h0m0.2 0.6h0m0.1 -1h0m0.2 0.7h0m0.2 -0.9h0m0.1 1.5h0m0 -1.5h0m0.3 0.9h0m0.1 -0.5h0m0.2 -0.9h0m0.4 0.5h0m0.1 0.7h0m0.1 -1.6h0m0.1 -0.9h0m0.1 0.6h0m0.1 -1.2h0m0.1 -0.7h0m0.1 -1.9h0m0.2 -2.3h0m0.1 -0.8h0m0.1 -1.5h0m0.3 -1.6h0m0.2 0.7h0m0.1 1.1h0m0.2 2.1h0m0.2 2.1h0m0.1 0.6h0m0.1 1.5h0m0.2 0.6h0m0.1 -0.7h0m0.3 -0.5h0m0.1 -0.8h0m0.1 -0.9h0m0.2 -1.1h0m0.1 -1.6h0m0 -2.3h0m0.1 -3.3h0m0.1 -2.5h0m0.1 -3.9h0m0.1 -4.9h0m0 -4.5h0m0.1 -6.3h0m0.1 -7h0m0.1 -6.5h0m0.1 -9.3h0m0 -8.1h0m0.1 -6.2h0m0.1 -6.9h0m0.1 -3.5h0m0.1 -4.4h0m0 1.2h0m0.1 2.7h0m0.1 3.8h0m0.1 7.5h0m0.1 7.6h0m0 6.4h0m0.1 8.7h0m0.1 6.2h0m0.1 8.2h0m0.1 4.3h0m0 6.2h0m0.1 5.1h0m0.1 4.1h0m0.1 2.5h0m0.1 2.8h0m0 1.5h0m0.1 2.3h0m0.1 1.3h0m0.2 1.8h0m0 1h0m0.3 0.6h0m0.2 0.5h0m0.1 1h0m0.2 -0.7h0m0 1.7h0m0.1 -0.5h0m0.2 -0.7h0m0.1 0.8h0m0.4 1.1h0m0.1 -0.8h0m0.3 1.4h0m0 -1.3h0m0.2 0.7h0m0.4 -1.1h0m0.1 1.7h0m0.1 -0.6h0m0.1 0.5h0m0.1 -1h0m0.1 0.8h0m0.2 0.8h0m0.1 -0.6h0m0.5 0.4h0m0.1 -1.1h0m0.1 1.1h0m0.3 -1.1h0m0.3 0.8h0m0.2 -0.5h0m0.2 0.6h0m0.2 -0.8h0m0.3 -1.4h0m0.3 -0.9h0m0.1 0.7h0m0.1 -1.1h0m0.3 -0.7h0m0.2 2.3h0m0.2 -0.8h0m0.1 0.8h0m0.3 1.6h0m0 -1.2h0m0.1 0.6h0m0.1 0.8h0m0.3 -1.2h0m0.1 1.4h0m0.2 -0.8h0m0.3 0.7h0m0.4 0.7h0m0.1 -0.7h0m0.1 -0.8h0m0.1 1.2h0m0.1 -1.6h0m0.1 1.9h0m0 -1h0m0.2 0.9h0m0.2 -1.2h0m0.2 0.6h0m0.1 0.9h0m0.1 -1.9h0m0.1 1.1h0m0.5 -0.6h0m0.2 -1h0m0.5 -0.3h0m0.3 1.1h0m0 -1.5h0m0.1 1.2h0m0.5 1.2h0m0.1 -0.7h0m0.1 0.7h0m0.2 -0.7h0m0.2 1.1h0m0 -1.1h0m0.1 0.5h0m0.2 0.9h0m0.1 -1h0m0 0.6h0m0.1 0.7h0m0.1 -1.1h0m0.2 0.6h0m0.1 -0.7h0m0.3 1h0m0.1 -0.8h0m0.1 1.4h0m0.1 -0.8h0m0.1 -0.8h0m0 0.9h0m0.1 -0.7h0m0.6 -0.2h0m0.1 0.8h0m0.3 -0.8h0m0.5 0.3h0m0.4 0.5h0m0.1 -1.1h0m0.3 0.6h0m0.2 0.9h0m0.1 -1h0m0.2 -0.6h0m0.1 1.5h0m0.1 -0.9h0m0.5 0.2h0m0.3 -0.6h0m0.1 0.6h0m0.4 -1h0m0.2 1h0m0.2 -0.9h0m0.3 -1.4h0m0.1 1h0m0.1 -1.9h0m0.1 2.3h0m0.1 -0.8h0m0.2 -0.7h0m0.1 0.9h0m0.1 -1h0m0.1 -0.6h0m0 -0.8h0m0.1 -0.9h0m0.2 -3h0m0.1 -2.1h0m0.1 -2.3h0m0.1 -2.7h0m0.1 -2.9h0m0.1 -3.8h0m0 -4.2h0m0.1 -4.3h0m0.1 -3.5h0m0.1 -3.8h0m0.1 -3.5h0m0 -4.1h0m0.2 -1.3h0m0.2 2.1h0m0 3.1h0m0.1 3.2h0m0.1 4.9h0m0.1 4.6h0m0.1 3.1h0m0 4.2h0m0.1 3.6h0m0.1 2.9h0m0.1 2.9h0m0.1 1.3h0m0 2.5h0m0.1 0.6h0m0.1 2.2h0m0.2 0.8h0m0.1 2.2h0m0.1 -1.2h0m0.1 1.6h0m0.2 -1h0m0.1 1.5h0m0.2 0.6h0m0.4 -0.5h0m0 0.6h0m0.1 -0.6h0m0.1 1h0m0.4 -0.9h0m0.1 1.2h0m0.3 -1h0m0.1 1h0m0.3 -0.7h0m0.2 -0.7h0m0 2.3h0m0.2 -0.9h0m0.1 0.8h0m0.1 -0.7h0m0.3 -0.5h0m0.1 0.7h0m0.4 0.4h0m0.1 -0.6h0m0.5 -0.3h0m0.2 0.7h0m0.4 -0.3h0m0.3 -0.8h0m0.1 0.5h0m0 0.6h0m0.1 -0.8h0m0.1 0.6h0m0.2 -1.2h0m0.1 1.5h0m0.1 -0.6h0m0.2 0.8h0m0.2 -0.6h0m0.6 0.7h0m0.3 -0.8h0m0.5 0.3h0m0.3 0.6h0m0.1 -1.2h0m0 0.6h0m0.4 0.5h0m0.4 -0.6h0m0.3 0.6h0m0.2 -0.8h0m0.1 0.6h0m0.1 -0.7h0m0.1 0.9h0m0.1 -1.4h0m0.2 0.9h0m0.5 -0.4h0m0.2 0.5h0m0.1 -0.9h0m0.1 0.7h0m0 0.7h0m0.3 -0.6h0m0.1 0.5h0m0.4 -1h0m0 1.1h0m0.1 -1.1h0m0.2 1h0m0.1 -1.4h0m0 1h0m0.4 0.5h0m0.3 -0.6h0m0.1 0.6h0m0.5 -0.3h0m0.6 -0.2h0m0.2 0.8h0m0.1 -0.9h0m0.1 0.9h0m0.1 -0.9h0m0.1 0.6h0m0.3 0.6h0m0.1 -0.7h0m0.3 -0.5h0m0.1 1.1h0m0.1 -1.4h0m0.2 0.7h0m0 -0.6h0m0.1 0.7h0m0.2 1h0m0.1 -1.5h0m0.5 0.4h0m0.1 -0.8h0m0.1 1.3h0m0.1 -1h0m0.2 1.3h0m0.1 -0.7h0m0.2 -0.5h0m0.1 0.8h0m0.1 -0.6h0m0.5 0.5h0m0.3 -0.5h0m0.1 0.9h0m0.3 -1.5h0m0.1 0.6h0m0.3 -0.9h0m0.1 1h0m0 0.8h0m0.1 -0.6h0m0.3 -0.7h0m0.1 0.7h0m0.1 0.8h0m0.1 -0.7h0m0.5 -0.7h0m0.1 1.4h0m0.1 -0.6h0m0.3 -0.6h0m0.2 -0.9h0m0.1 1.2h0m0.4 -0.3h0m0.5 -1h0m0.1 1h0m0.2 0.6h0m0.2 0.6h0m0.1 -1.6h0m0.1 -0.5h0m0.2 1.1h0m0.1 -0.7h0m0.1 -0.6h0m0 1.1h0m0.1 -0.7h0m0.2 0.8h0m0.2 -1.1h0m0.3 0.7h0m0 -0.6h0m0.1 -0.6h0m0.4 -1.3h0m0.1 0.6h0m0.1 -0.9h0m0.2 -1.8h0m0.1 0.8h0m0.1 -1.9h0m0.1 -1.9h0m0 -2.1h0m0.1 -2.2h0m0.1 -1.5h0m0.1 -3.8h0m0.1 -2.8h0m0 -4h0m0.1 -2.2h0m0.1 -5.2h0m0.1 -3.6h0m0.1 -4.5h0m0 -1.9h0m0.1 -2.6h0m0.1 1h0m0.2 1.7h0m0 4.1h0m0.1 4.3h0m0.1 2.6h0m0.1 3.2h0m0.1 4.1h0m0 3.4h0m0.1 3.7h0m0.1 2.7h0m0.1 2.6h0m0.1 2.1h0m0 1h0m0.1 1.3h0m0.1 1.6h0m0.1 0.7h0m0.1 0.7h0m0 0.8h0m0.2 0.6h0m0.2 0.6h0m0.2 1h0m0.2 -1.4h0m0 2.3h0m0.1 -1.1h0m0.6 0.7h0m0.1 -0.6h0m0.1 0.9h0m0.3 -0.6h0m0.2 0.7h0m0.1 -0.8h0m0.1 0.7h0m0.3 -0.7h0m0.2 0.7h0m0.2 -0.6h0m0.1 0.8h0m0.1 -0.8h0m0.3 0.7h0m0.2 -0.6h0m0.3 -1h0m0.1 0.5h0m0.2 -1.5h0m0.1 1.2h0m0.1 -1.8h0m0.2 -1h0m0.1 -0.9h0m0.1 -0.9h0m0.4 0.5h0m0.1 1.5h0m0.2 0.6h0m0.2 0.9h0m0.1 0.6h0m0.1 1.1h0m0.3 0.9h0m0 -1.3h0m0.1 1h0m0.3 -1h0m0 1h0m0.1 1.2h0m0.1 -1.2h0m0.5 0.6h0m0.4 0.4h0m0.1 -0.6h0m0 -0.7h0m0.3 0.5h0m0.5 -0.8h0m0 0.9h0m0.2 -0.6h0m0.1 0.7h0m0.1 0.6h0m0 -0.7h0m0.1 0.6h0m0.3 -0.7h0m0.3 1.2h0m0.1 -1h0m0.5 -0.2h0m0.4 0.4h0m0.1 -1.1h0m0.1 1h0m0.1 -0.7h0m0.1 0.9h0m0.1 -0.6h0m0.1 -0.9h0m0.1 2h0m0 -0.7h0m0.4 0.4h0m0.5 0.5h0m0.1 -1.2h0m0.1 0.9h0m0.1 -0.6h0m0.2 0.6h0m0.2 -0.7h0m0 0.6h0m0.3 -0.7h0m0.1 0.8h0m0.2 -0.7h0m0.2 0.7h0m0.4 -0.6h0m0.2 -0.6h0m0.1 0.7h0m0.1 -0.6h0m0.1 1.2h0m0.1 -0.6h0m0.5 -0.4h0m0.4 1h0m0.1 -0.5h0m0.3 0.7h0m0.1 -1h0m0 0.8h0m0.1 -1h0m0.1 1h0m0.2 -0.6h0m0.2 -0.5h0m0.2 0.7h0m0 -1.1h0m0.1 1.2h0m0.6 -0.9h0m0.2 0.9h0m0.6 0.4h0m0.1 -1.4h0m0.4 1.1h0m0.2 -1.2h0m0.1 0.8h0m0.1 -0.8h0m0 0.8h0m0.1 -0.7h0m0.1 0.6h0m0.2 -0.5h0m0.1 1.7h0m0.1 -1.3h0m0.2 0.7h0m0 -1.3h0m0.2 0.9h0m0.6 0.1h0m0.4 -1h0m0 1.7h0m0.1 -1.7h0m0.1 0.7h0m0.2 0.7h0m0.1 -0.9h0m0.3 0.9h0m0.1 -1.3h0m0.2 1.2h0m0.1 -1h0m0.3 -0.7h0m0.4 -1.6h0m0.1 -0.9h0m0.1 0.7h0m0.1 -0.9h0m0.1 -1.5h0m0.2 -1.2h0m0.2 -0.8h0m0.3 0.9h0m0.2 1.9h0m0.1 1.6h0m0.1 0.6h0m0.2 1h0m0.1 -1.1h0m0 1.5h0m0.3 1h0m0.2 -0.5h0m0.1 0.8h0m0.2 -0.8h0m0.4 0.7h0m0.5 -0.2h0m0.4 0.7h0m0.2 -1.4h0m0.1 1.1h0m0 -1h0m0.1 0.7h0m0.5 -0.4h0m0.2 0.9h0m0.1 -0.8h0m0.6 0h0m0.1 -0.8h0m0.1 -0.7h0m0.1 1.1h0m0.1 -1.2h0m0.1 -0.7h0m0 -1h0m0.1 -0.6h0m0.2 -0.9h0m0.1 -1.1h0m0.1 -0.6h0m0.2 -0.6h0m0.1 0.6h0m0 -0.7h0m0.1 1.2h0m0.1 0.8h0m0.2 0.8h0m0.1 1.7h0m0.1 0.6h0m0.1 -1h0m0.1 1.4h0m0.2 1.7h0m0.5 -0.8h0m0.1 0.7h0m0.2 1.2h0m0.1 -1.1h0m0.1 0.6h0m0.1 -0.6h0m0.2 1h0m0.1 -0.9h0m0.2 -0.8h0m0.2 1.4h0m0.1 -0.6h0m0.3 0.7h0m0 -1.2h0m0.3 1h0m0.1 -0.6h0m0.3 0.9h0m0.1 -1.3h0m0.1 0.8h0m0.3 -0.9h0m0.1 1.1h0m0.3 -0.6h0m0.5 0.6h0m0.4 -0.5h0m0.2 0.8h0m0.1 -0.8h0m0.5 0.1h0m0.4 0.6h0m0.1 -1h0m0.1 0.9h0m0.1 -0.6h0m0.1 0.7h0m0.3 -0.8h0m0.4 0.7h0m0.1 -1.1h0m0.1 0.8h0m0.2 -0.5h0m0.3 0.5h0m0.1 -0.7h0m0 0.7h0m0.3 -0.7h0m0.1 0.7h0m0 -0.9h0m0.6 0.4h0m0.1 -0.7h0m0.3 -1.3h0m0.1 1.1h0m0.1 -1.4h0m0.4 -1.1h0m0 -1.3h0m0.1 -1.1h0m0.1 -1.6h0m0.1 -2h0m0.1 -2h0m0 -2.3h0m0.1 -2h0m0.1 -1.9h0m0.1 -4.3h0m0.1 -3.3h0m0 -2.3h0m0.1 -2.4h0m0.1 -1.9h0m0.2 -0.7h0m0 0.6h0m0.1 2.9h0m0.1 1.6h0m0.1 2.8h0m0.1 3.2h0m0 1.9h0m0.1 3.1h0m0.1 4.2h0m0.1 0.8h0m0.1 3h0m0 1.4h0m0.1 0.8h0m0.1 1.4h0m0.1 1.4h0m0.1 1.7h0m0.1 -1h0m0.1 0.7h0m0.2 0.6h0m0 0.6h0m0.2 1.2h0m0.1 -1.6h0m0.1 0.8h0m0.1 -0.7h0m0.2 1.1h0m0.2 -0.6h0m0.1 0.7h0m0.2 -0.6h0m0.2 0.9h0m0.1 -1.3h0m0.1 0.8h0m0.4 -1h0m0.4 -0.5h0m0.4 -0.6h0m0 0.7h0m0.1 -2.4h0m0.2 -0.9h0m0.1 -1.1h0m0 -1.1h0m0.1 -2.4h0m0.1 -1.2h0m0.1 -1.9h0m0.1 -2.1h0m0 -1.1h0m0.1 -2h0m0.1 -2.3h0m0.2 -1h0m0.1 0.5h0m0.2 2.3h0m0.1 2.2h0m0 1.6h0m0.1 2.2h0m0.1 1.5h0m0.1 2.3h0m0.1 0.6h0m0 1.1h0m0.1 2.3h0m0.2 0.7h0m0.1 1h0m0.1 1.3h0m0.4 0.9h0m0.6 -0.5h0m0.1 0.8h0m0.1 -0.9h0m0.1 0.6h0m0.1 -0.9h0m0.1 0.6h0m0.1 0.6h0m0.1 -0.6h0m0.1 1.2h0m0.1 -1.9h0m0.4 0.6h0m0.2 -1.2h0m0.2 1h0m0.1 -1.8h0m0.2 -0.7h0m0.2 -1.4h0m0.1 -0.5h0m0.1 -2.3h0m0.1 -1.5h0m0 -1.4h0m0.1 -2.4h0m0.1 -3h0m0.1 -5h0m0.1 -3.9h0m0 -4.1h0m0.1 -5.9h0m0.1 -6.7h0m0.1 -5.9h0m0.1 -5.5h0m0 -6.2h0m0.1 -4.1h0m0.1 -5.2h0m0.1 -0.7h0m0.1 1.4h0m0 1.5h0m0.1 1.8h0m0.1 7.7h0m0.1 6.5h0m0.1 4.4h0m0 7.9h0m0.1 4.1h0m0.1 6.4h0m0.1 4.1h0m0.1 4.3h0m0 3.7h0m0.1 2.6h0m0.1 2.8h0m0.1 2h0m0.1 1.6h0m0 0.7h0m0.2 2.3h0m0.2 0.7h0m0.2 1.2h0m0.3 0.5h0m0.1 -0.6h0m0.1 1.3h0m0.4 0.6h0m0.2 -1h0m0.3 0.8h0m0.4 0.6h0m0.2 -0.5h0m0.6 0.2h0m0 0.8h0m0.1 -0.5h0m0.4 -1h0m0.1 1.8h0m0.1 -0.6h0m0.2 0.6h0m0.3 -1.2h0m0.3 0.9h0m0.1 -0.7h0m0.3 1h0m0.1 -1.4h0m0 1.6h0m0.1 -1.3h0m0.4 1.1h0m0.1 -1h0m0.2 0.8h0m0.4 -0.7h0m0.3 1.1h0m0.2 -0.7h0m0.2 0.6h0m0.1 -1.9h0m0 1.9h0m0.3 -0.7h0m0.1 1h0m0.1 -1.4h0m0.1 1.6h0m0.1 -0.9h0m0.1 0.5h0m0.3 -1h0m0.1 -0.6h0m0 1.6h0m0.2 0.5h0m0.1 -1.7h0m0.1 0.8h0m0.3 -0.6h0m0.1 -0.6h0m0.1 0.9h0m0.3 1h0m0.1 -1.4h0m0.1 -1.1h0m0.1 2.2h0m0.1 -0.9h0m0.1 1.3h0m0.1 -1h0m0.2 0.6h0m0.1 -1.3h0m0.2 0.9h0m0.1 -0.5h0m0.4 0.4h0m0 0.6h0m0.1 -1.6h0m0.3 0.6h0m0.4 -0.7h0m0 0.6h0m0.4 0.9h0m0.2 -0.8h0m0.2 0.6h0m0.3 -0.5h0m0.4 0.5h0m0.1 -1h0m0.4 -0.8h0m0.4 -0.7h0m0.1 -1h0m0.1 -0.9h0m0.1 -1.7h0m0.1 -1.1h0m0.1 -0.9h0m0.1 -1.9h0m0.2 -1.3h0m0 -1.4h0m0.2 -1.2h0m0.1 0.9h0m0.1 0.8h0m0.1 1.1h0m0.1 1.6h0m0.1 1.7h0m0.1 1.6h0m0.1 0.9h0m0.2 1.3h0m0.1 1h0m0.1 0.9h0m0.1 1h0m0.1 -1h0m0.1 1.7h0m0 -0.5h0m0.2 0.6h0m0.2 -0.6h0m0.3 0.8h0m0.1 -0.6h0m0.2 -0.7h0m0.1 0.7h0m0.3 0.6h0m0.3 -0.4h0m0.6 -0.7h0m0.3 0.6h0m0.2 -1h0m0 0.6h0m0.2 -0.7h0m0.2 -0.6h0m0.1 -1.2h0m0.2 -1.7h0m0.1 -1.1h0m0.1 -0.6h0m0.1 -1.9h0m0.1 -1.1h0m0.1 -2h0m0.1 -1.8h0m0.1 -0.7h0m0.2 0.7h0m0.2 0.9h0m0.1 2h0m0.1 2.1h0m0.1 0.7h0m0.1 2.4h0m0.2 1.1h0m0 0.8h0m0.2 1.2h0m0.2 1.2h0m0.2 0.7h0m0.5 -0.3h0m0.2 0.5h0m0.1 -1h0m0.1 1.5h0m0.1 0.5h0m0 -1.2h0m0.3 0.5h0m0.2 -1.1h0m0.1 1.1h0m0.2 -0.7h0m0.3 1h0m0.1 -1h0m0 0.6h0m0.4 0.9h0m0.1 -1.3h0m0.2 0.6h0m0.1 1h0m0.1 -1h0m0.5 0.5h0m0.3 -1.1h0m0.1 0.9h0m0.1 -0.8h0m0.1 0.8h0m0 -0.7h0m0.3 0.6h0m0.1 -0.9h0m0 1.2h0m0.1 -0.7h0m0.2 -1.1h0m0.1 1.5h0m0.2 0.6h0m0.1 -1.2h0m0.1 0.7h0m0 -0.8h0m0.1 0.9h0m0.2 -0.8h0m0.1 0.7h0m0.4 -0.4h0m0.2 1h0m0.1 -0.8h0m0.1 -0.7h0m0 0.6h0m0.4 -0.7h0m0.1 0.7h0m0.3 0.7h0m0.2 -1.1h0m0.1 0.6h0m0.4 -0.6h0m0.1 1h0m0 -0.9h0m0.1 0.9h0m0.4 -0.7h0m0.3 0.5h0m0.1 -0.8h0m0.4 0.5h0m0.6 -0.5h0m0.1 1.4h0m0.1 -1.2h0m0.3 0.5h0m0 -0.6h0m0.1 0.6h0m0.3 -0.6h0m0 0.7h0m0.1 -0.7h0m0.3 -0.6h0m0.5 -0.6h0m0.1 1h0m0.1 -1.5h0m0.1 1.8h0m0.1 -1.7h0m0.2 1.4h0m0.2 0.7h0m0.5 -0.6h0m0.2 1h0m0 -1.2h0m0.3 0.8h0m0.3 -0.5h0m0.2 -1.3h0m0.2 1.1h0m0.1 -1.5h0m0.4 -0.4h0m0.5 0.5h0m0 1.2h0m0.3 0.9h0m0.1 -0.8h0m0.4 0.8h0m0.2 -0.6h0" fill="none" stroke="#ef343d" stroke-width="1.8" stroke-linecap="round"/>
<path d="M430 488.1V496.9M444.4 488.1V496.9M457.3 488.1V496.9M480.1 488.1V496.9M490.6 488.1V496.9M509.4 488.1V496.9M513.5 488.1V496.9M518.3 488.1V496.9M526.3 488.1V496.9M534.3 488.1V496.9M539.4 488.1V496.9M549.7 488.1V496.9M577.7 488.1V496.9M584.3 488.1V496.9M603.8 488.1V496.9M609.9 488.1V496.9M622 488.1V496.9M627.7 488.1V496.9M633.4 488.1V496.9M643.6 488.1V496.9M650.2 488.1V496.9M655.9 488.1V496.9M668.6 488.1V496.9M671.9 488.1V496.9" stroke="#5590f0" stroke-width="1.3"/>
<path d="M519.5 488.1V496.9" stroke="#e672f5" stroke-width="1.3"/>
<path d="M523 488.1V496.9" stroke="#ee9233" stroke-width="1.3"/>
<path d="M391.2 512.5L391.4 514L391.7 511.9L391.9 513.6L392.2 513.1L392.4 513.1L392.7 512.6L392.9 511.8L393.2 512.6L393.4 512.9L393.7 512.2L393.9 513.5L394.2 512.2L394.4 512.3L394.7 512.6L394.9 513L395.2 512.4L395.4 512.8L395.7 513.8L395.9 513.2L396.2 513L396.4 512.3L396.7 513.6L396.9 512.9L397.2 513.5L397.4 512.7L397.7 512.3L397.9 513.6L398.2 512.4L398.5 512.9L398.7 513.4L399 513.2L399.2 512L399.5 513.1L399.7 514L400 513.5L400.2 512.4L400.5 514L400.7 513.1L401 512.2L401.2 513.9L401.5 512.5L401.7 513.5L402 513.5L402.2 513.4L402.5 513L402.7 513.5L403 512.4L403.2 513L403.5 511.9L403.7 513.4L404 512.3L404.2 513.9L404.5 512.3L404.7 512.5L405 512.7L405.2 513.7L405.5 513.3L405.7 513.3L406 513.9L406.2 512.3L406.5 513.6L406.7 513.2L407 512.1L407.2 512.6L407.5 513.6L407.7 512.4L408 513.2L408.2 512.8L408.5 512.5L408.7 512.5L409 512.2L409.2 512.8L409.5 514.7L409.7 512.4L410 512.7L410.2 513.1L410.5 513.2L410.7 513.1L411 512.3L411.2 512.5L411.5 512.7L411.7 512.7L412 512.9L412.2 513.4L412.5 513.1L412.7 513.6L413 512.8L413.2 513.9L413.5 512.9L413.7 513.2L414 513.1L414.2 513.7L414.5 512L414.7 512.8L415 512.8L415.2 513.6L415.5 513.4L415.7 513.3L416 514.1L416.2 513.5L416.5 513.9L416.7 513.3L417 513.6L417.2 512.6L417.5 513.8L417.7 512.7L418 513.8L418.2 513.6L418.5 512.6L418.7 513.3L419 513.2L419.2 513L419.5 512.8L419.7 513.8L420 512.7L420.2 513.3L420.5 513.3L420.7 512.5L421 513.6L421.2 513.2L421.5 513L421.7 513.1L422 512.9L422.2 512.9L422.5 512.5L422.7 513.8L423 513.8L423.2 513.1L423.5 512.5L423.7 512.2L424 512.6L424.2 514.4L424.5 512.7L424.7 513L425 513.1L425.2 512.2L425.5 513L425.7 513.2L426 513.6L426.2 513.3L426.5 513.6L426.7 513.2L427 512.7L427.2 513.6L427.5 513.5L427.7 513.4L428 512.5L428.2 514.2L428.5 513.6L428.7 513.7L429 512.5L429.2 509.7L429.5 507.9L429.7 509.7L429.7 510.9L430 513.5L430.2 521.2L430.3 521.5L430.5 521.2L430.7 518L431 515.5L431.2 514.1L431.5 514.1L431.7 513.2L432 513.5L432.2 513.3L432.5 512.9L432.7 513.3L433 513.1L433.2 513.8L433.5 513.5L433.7 514.6L434 513.6L434.2 513.2L434.5 514.2L434.7 513.5L435 513.2L435.2 513.3L435.5 514.1L435.7 513.2L436 513.4L436.2 514L436.5 514.6L436.7 514.5L437 513.6L437.2 514.2L437.5 513.6L437.7 513.1L438 513.3L438.2 513.6L438.5 513.8L438.7 513.4L439 513.4L439.2 513.8L439.5 513.7L439.7 514.8L440 514.1L440.2 513.9L440.5 514.6L440.7 513.4L441 514.6L441.2 514.2L441.5 514.7L441.7 514.3L442 513.4L442.2 514.6L442.5 514L442.7 514L443 513.4L443.2 513.9L443.5 512L443.7 512.7L444 514.1L444.2 513.6L444.5 513.3L444.7 514L445 514.3L445.2 514.2L445.5 513.1L445.7 514.3L446 513.8L446.2 513.9L446.5 514.4L446.7 514.2L447 514.3L447.2 513.9L447.5 513.2L447.7 513.6L448 514.2L448.2 513L448.5 513.4L448.7 513.3L449 513.2L449.2 513.7L449.5 513.7L449.7 513.1L450 513.9L450.2 513.2L450.5 514.4L450.7 514L451 513.2L451.2 513.9L451.5 512.9L451.7 513.9L452 512.8L452.2 514L452.5 514.5L452.7 512.9L453 513.6L453.2 514.2L453.5 514.1L453.7 513.5L454 514.4L454.2 514.1L454.5 513.1L454.8 514.6L455 513L455.2 513.5L455.5 513.8L455.8 512.8L456 513.8L456.2 514.1L456.5 514.5L456.8 513.1L457 514L457.2 514.1L457.5 513.4L457.8 512.9L458 513.4L458.2 513.9L458.5 513.7L458.8 514.2L459 513.5L459.2 513.6L459.5 513.6L459.8 513.5L460 512.8L460.2 513.4L460.5 513.6L460.8 513.5L461 513L461.2 513.5L461.5 514L461.8 514.5L462 513.4L462.2 513.7L462.5 513.4L462.8 513.9L463 513.5L463.2 514.7L463.5 514.2L463.8 514.3L464 513.8L464.2 513.9L464.5 514.8L464.8 514L465 514.9L465.2 514.2L465.5 514L465.8 513.6L466 513.7L466.2 511.9L466.5 514.5L466.8 513.9L467 513.5L467.2 513.9L467.5 512.7L467.8 513.6L468 513.2L468.2 514.3L468.5 514.6L468.8 513.7L469 514.8L469.3 514L469.5 514.2L469.8 513.6L470 513.9L470.3 513.5L470.5 514.2L470.8 513.1L471 513.7L471.3 514.5L471.5 514L471.8 512.2L472 513.3L472.3 513.9L472.5 514.4L472.8 513.7L473 514.3L473.3 514.5L473.5 513.1L473.8 513.7L474 514.3L474.3 513.6L474.5 514.1L474.8 514.6L475 513.5L475.3 513.9L475.5 513.4L475.8 514.6L476 514.6L476.3 512.4L476.5 513.9L476.8 512.7L477 512.8L477.3 513.7L477.5 515.6L477.8 513.3L478 513.5L478.3 514.1L478.5 513.9L478.8 513.8L479 513.8L479.3 511.3L479.5 507.7L479.8 507.4L479.8 507.7L480 511.2L480.3 517.6L480.4 519.8L480.5 520.8L480.8 517.9L481 516L481.3 514L481.5 513.4L481.8 513.4L482 514.3L482.3 513.7L482.5 513.4L482.8 513.2L483 513.8L483.3 513.2L483.5 513.5L483.8 514.1L484 514.4L484.3 512.8L484.5 513.8L484.8 514.5L485 514.2L485.3 513.3L485.5 513.8L485.8 513.5L486 513.3L486.3 514.3L486.5 514.1L486.8 513.8L487 514.2L487.3 514.3L487.5 513.8L487.8 513.8L488 513.9L488.3 512.6L488.5 513.5L488.8 513.6L489 512.3L489.3 514.1L489.5 513.2L489.8 512L490 509.9L490.3 510.3L490.3 510.3L490.5 512.8L490.8 516.6L490.9 519.5L491 520L491.3 517.8L491.5 515.7L491.8 513.9L492 513.6L492.3 513.9L492.5 513.6L492.8 512.4L493 512.7L493.3 514.3L493.5 512.9L493.8 513L494 514.1L494.3 514.3L494.5 513.4L494.8 513.5L495 512.9L495.3 513L495.5 512.8L495.8 513.3L496 513.8L496.3 513L496.5 512.7L496.8 513.7L497 513.8L497.3 513.6L497.5 514.1L497.8 513.6L498 514.2L498.3 513.3L498.5 513.3L498.8 513.1L499 513.7L499.3 513.7L499.5 513.2L499.8 513.9L500 514L500.3 513.7L500.5 512.9L500.8 513.8L501 512.8L501.3 512.9L501.5 513.5L501.8 513.8L502 513.6L502.3 513.6L502.5 513.9L502.8 514.1L503 513.2L503.3 513.8L503.5 513.7L503.8 513.6L504 514.5L504.3 512.8L504.5 513.8L504.8 514.3L505 514.9L505.3 513.8L505.5 513.5L505.8 513.3L506 512.6L506.3 513.7L506.5 514.3L506.8 513.6L507 513.2L507.3 513.6L507.5 513.6L507.8 513.5L508 513.7L508.3 510.8L508.5 506.3L508.8 501.7L508.9 503.1L509 505.2L509.3 516.3L509.5 523.6L509.5 523.6L509.8 522.6L510 517.8L510.3 514.6L510.5 514.2L510.8 512.5L511 514.8L511.3 513L511.5 511.6L511.8 514L512 513.7L512.3 514.2L512.5 512.9L512.8 514.4L513 513.1L513.3 513.9L513.5 513.6L513.8 513.7L514 515.4L514.3 512.5L514.5 514.2L514.8 514.6L515 513.4L515.3 513.2L515.5 513.8L515.8 512.3L516 513.8L516.3 513.2L516.5 513.5L516.8 512.9L517 512.9L517.3 512.4L517.5 512.7L517.8 513.3L518 513L518.3 514.6L518.5 512.5L518.8 513.6L519 512.9L519.3 513.1L519.5 513.6L519.8 513.4L520 514.2L520.3 513.9L520.5 513.5L520.8 512.8L521 513L521.3 514.1L521.5 513.4L521.8 514.9L522 514.4L522.3 512.5L522.5 513.4L522.8 512.9L523 513.6L523.3 513.9L523.5 513L523.8 513.7L524 512.8L524.3 513.5L524.5 513.7L524.8 513L525 513.3L525.3 512.5L525.5 507.9L525.8 503.2L526 503.6L526 503.7L526.3 510.5L526.5 518.4L526.6 518.4L526.8 518.7L527 517.6L527.3 514.4L527.5 514L527.8 512.7L528 513.6L528.3 512.7L528.5 513.2L528.8 513.1L529 512.8L529.3 513.4L529.5 512.7L529.8 513.3L530 513.2L530.3 514.7L530.5 513.2L530.8 513.4L531 513.2L531.3 512.1L531.5 513.6L531.8 512.2L532 513.6L532.3 513.4L532.5 513.3L532.8 512.8L533 514.5L533.3 513L533.5 513.4L533.8 513.6L534 513.2L534.3 513L534.5 514.2L534.8 512.8L535 513.1L535.3 513.3L535.5 512.5L535.8 513.1L536 512.8L536.3 512.8L536.5 511.7L536.8 512.5L537 513.7L537.3 513.3L537.5 514.2L537.8 513.9L538 512.6L538.3 513.6L538.5 513.5L538.8 514.7L539 513.5L539.3 512.6L539.6 513.6L539.8 514.1L540.1 513.3L540.3 513.6L540.6 513.2L540.8 513L541.1 513L541.3 514.9L541.6 513L541.8 513.3L542.1 513.2L542.3 512.8L542.6 513.4L542.8 513.3L543.1 513.8L543.3 513.8L543.6 513.3L543.8 512.8L544.1 513.7L544.3 513.7L544.6 512.6L544.8 512.8L545.1 513.6L545.3 512.3L545.6 513.2L545.8 513.7L546.1 513.3L546.3 513.9L546.6 513.8L546.8 513.7L547.1 512.6L547.3 513.8L547.6 512.7L547.8 513.3L548.1 512.8L548.3 513.4L548.6 512.5L548.8 511.9L549.1 509L549.3 507.1L549.4 507.2L549.6 510L549.8 515.6L550 517.6L550.1 516.1L550.3 517.5L550.6 514.9L550.8 514.4L551.1 513.9L551.3 512.8L551.6 513.2L551.8 512.6L552.1 513.7L552.3 513L552.6 513.9L552.8 512.6L553.1 513.4L553.3 513.2L553.6 513.9L553.8 513L554.1 513.2L554.3 513.5L554.6 512.8L554.8 513.6L555.1 513.9L555.3 513.5L555.6 513.9L555.8 513.2L556.1 512.5L556.3 512.4L556.6 513.5L556.8 513.9L557.1 513.4L557.3 512.5L557.6 513L557.8 513L558.1 512.8L558.3 512.8L558.6 514.3L558.8 513.7L559.1 513.8L559.3 513.3L559.6 513.2L559.8 513.1L560.1 514.5L560.3 513.4L560.6 513.9L560.8 512.5L561.1 513.1L561.3 512.3L561.6 513.4L561.8 512.2L562.1 513L562.3 513.7L562.6 513.4L562.8 512.7L563.1 513.6L563.3 513.8L563.6 513.1L563.8 513.6L564.1 514L564.3 513.6L564.6 513.4L564.8 514.1L565.1 512.9L565.3 513.1L565.6 513.3L565.8 513.5L566.1 513.4L566.3 513.5L566.6 512.2L566.8 512.6L567.1 512.6L567.3 513.2L567.6 513.6L567.8 513.1L568.1 512.5L568.3 513.8L568.6 513.2L568.8 514L569.1 513.8L569.3 513.9L569.6 513.2L569.8 512.6L570.1 513.7L570.3 512.9L570.6 512.6L570.8 513.1L571.1 513.9L571.3 513.6L571.6 513L571.8 514.1L572.1 512.4L572.3 513.3L572.6 513.4L572.8 513.5L573.1 514.7L573.3 513.4L573.6 513.4L573.8 512.9L574.1 513.4L574.3 513.2L574.6 513.9L574.8 512.5L575.1 514L575.3 515.1L575.6 512.7L575.8 514.4L576.1 512.1L576.3 513.4L576.6 512.4L576.8 511.9L577.1 508.8L577.3 508.9L577.4 509.2L577.6 511.4L577.8 514.9L578 518L578.1 518.2L578.3 516.7L578.6 514.4L578.8 513.7L579.1 513.7L579.3 514L579.6 512.5L579.8 513.3L580.1 512.9L580.3 513L580.6 512.3L580.8 513L581.1 513.8L581.3 513.1L581.6 514.2L581.8 513.2L582.1 513.4L582.3 513.3L582.6 512.5L582.8 513.1L583.1 514.8L583.3 513.5L583.6 513.3L583.8 513.6L584.1 514.2L584.3 513.5L584.6 513.7L584.8 514L585.1 512.7L585.3 512.1L585.6 512.8L585.8 513.6L586.1 513.5L586.3 512.1L586.6 512.8L586.8 513.8L587.1 513.2L587.3 513.6L587.6 513.2L587.8 513.3L588.1 512.4L588.3 512.8L588.6 512.8L588.8 513.5L589.1 513.3L589.3 513.9L589.6 511.4L589.8 513.5L590.1 512.3L590.3 514L590.6 512.6L590.8 513.3L591.1 512.3L591.3 513L591.6 512.3L591.8 512.3L592.1 512.4L592.3 513.3L592.6 512.8L592.8 514L593.1 512.9L593.3 514L593.6 512.8L593.8 513.7L594.1 513.5L594.3 513L594.6 513.5L594.8 513.7L595.1 514L595.3 513.2L595.6 513.6L595.9 513.5L596.1 512.7L596.4 513.3L596.6 512.4L596.9 514.4L597.1 514.3L597.4 513.5L597.6 513.6L597.9 512.9L598.1 512.5L598.4 513.1L598.6 513.6L598.9 513.9L599.1 512.4L599.4 512.5L599.6 513.8L599.9 512.7L600.1 513.3L600.4 512.9L600.6 513.8L600.9 513.9L601.1 512.7L601.4 513.4L601.6 513.5L601.9 513.6L602.1 514.1L602.4 512.6L602.6 513L602.9 514.1L603.1 513.9L603.4 512.6L603.6 513.1L603.9 512.2L604.1 513.7L604.4 513.5L604.6 513.3L604.9 513.7L605.1 513.1L605.4 511.6L605.6 512.7L605.9 513L606.1 513.1L606.4 513.8L606.6 513L606.9 512.4L607.1 513L607.4 512.6L607.6 513.4L607.9 513.5L608.1 514.6L608.4 513.4L608.6 512L608.9 514.4L609.1 513.5L609.4 513.7L609.6 512.9L609.9 513.7L610.1 513.2L610.4 513.4L610.6 513.4L610.9 512L611.1 512.9L611.4 513.4L611.6 511.7L611.9 513.3L612.1 514.3L612.4 512.5L612.6 512.9L612.9 513.6L613.1 512.8L613.4 512.6L613.6 512.4L613.9 512.4L614.1 512.7L614.4 513.6L614.6 513L614.9 512.7L615.1 513.4L615.4 512.7L615.6 512.6L615.9 513.5L616.1 513.6L616.4 512.7L616.6 513.5L616.9 514.1L617.1 512.8L617.4 514.6L617.6 513.2L617.9 514L618.1 512.6L618.4 513.3L618.6 512.9L618.9 512.6L619.1 513.5L619.4 513.6L619.6 512.9L619.9 511.9L620.1 513.2L620.4 513.7L620.6 512.6L620.9 510.9L621.1 509.7L621.2 510.2L621.4 511.3L621.6 514.7L621.8 515.4L621.9 514.8L622.1 515.6L622.4 513.1L622.6 513.6L622.9 513.3L623.1 512.9L623.4 514.2L623.6 513.6L623.9 513L624.1 513.8L624.4 513.7L624.6 513.1L624.9 512.6L625.1 513.8L625.4 512.2L625.6 512.6L625.9 514.6L626.1 513L626.4 514L626.6 512.8L626.9 513.6L626.9 512L627.1 514.4L627.4 513.9L627.5 514.5L627.6 515.5L627.9 514.8L628.1 513.2L628.4 514.3L628.6 512.9L628.9 513.9L629.1 513.9L629.4 512.8L629.6 512.3L629.9 513.4L630.1 511.7L630.4 513.4L630.6 511.8L630.9 513.2L631.1 512.6L631.4 513.2L631.6 513.1L631.9 512.9L632.1 512.1L632.4 508.9L632.6 506.4L632.8 505.2L632.9 506.1L633.1 510.9L633.4 516.4L633.4 516.3L633.6 517.2L633.9 516.5L634.1 514.8L634.4 513.5L634.6 512.8L634.9 513.3L635.1 513.8L635.4 513.8L635.6 514.1L635.9 513.5L636.1 513.6L636.4 512.7L636.6 513.1L636.9 513.1L637.1 513.3L637.4 514L637.6 513.1L637.9 513.4L638.1 513.2L638.4 513.1L638.6 513.6L638.9 513.6L639.1 513.3L639.4 513L639.6 511.8L639.9 513L640.1 513.1L640.4 512.7L640.6 512.8L640.9 513L641.1 513.4L641.4 512.5L641.6 513L641.9 514.5L642.1 514.4L642.4 512.8L642.6 512.9L642.9 514.4L643.1 512.1L643.4 513.6L643.6 513.4L643.9 512.7L644.1 512.5L644.4 512.6L644.6 513.2L644.9 513.9L645.1 514.6L645.4 512.6L645.6 513.6L645.9 513L646.1 514.1L646.4 512.2L646.6 513.3L646.9 513.5L647.1 512.4L647.4 513.7L647.6 512.7L647.9 512.6L648.1 514.5L648.4 512.5L648.6 513.3L648.9 513.5L649.1 512.7L649.4 513L649.6 515.5L649.9 513.5L650.1 514L650.4 513.6L650.6 513.5L650.9 513.2L651.1 513.5L651.4 513L651.6 514.3L651.9 512.3L652.1 513.1L652.4 513.6L652.6 513.4L652.9 513.4L653.1 512.9L653.4 513.1L653.6 512.9L653.9 514L654.1 513.6L654.4 512.2L654.6 513.1L654.9 512.9L655.1 511.5L655.2 513.4L655.4 514.2L655.6 513.1L655.8 513.5L655.9 514.8L656.1 513.5L656.4 513.3L656.6 513L656.9 512.9L657.1 513.6L657.4 513.9L657.6 513.1L657.9 513.2L658.1 513.4L658.4 512.3L658.6 512.9L658.9 512.9L659.1 513.9L659.4 513.4L659.6 513.8L659.9 513.9L660.1 513.5L660.4 512.8L660.6 514.1L660.9 513.3L661.1 512.8L661.4 512.4L661.6 513.4L661.9 512.7L662.1 512.1L662.4 514L662.6 512.8L662.9 513.3L663.1 513.2L663.4 512.4L663.6 512.4L663.9 512.8L664.1 512.7L664.4 513.8L664.6 512.9L664.9 513.7L665.1 512.9L665.4 512.4L665.6 513L665.9 514.1L666.1 513L666.4 513.3L666.6 513.4L666.9 513L667.1 513.3L667.4 513.6L667.6 513.8L667.9 512.8L668.1 514L668.4 513L668.6 512.3L668.9 513.3L669.1 512.9L669.4 513.2L669.6 513.6L669.9 513.8L670.1 513.2L670.4 513.6L670.6 512.3L670.9 514.6L671.1 513.6L671.4 514L671.6 514.1L671.9 513.7L672.1 512.6L672.4 512.2L672.6 512.9L672.9 512.9L673.1 513.3L673.4 512.6" fill="none" stroke="#55bd76" stroke-width="2" stroke-linejoin="round"/>
<path d="M523 444.5V452.9" stroke="#ee9233" stroke-width="1.5"/>
<path d="M520.7 451.4L525.3 451.4L523 456.9Z" fill="#ee9233"/>
<path d="M520.2 453.7V463" stroke="#e672f5" stroke-width="1.5"/>
<path d="M517.9 461.5L522.5 461.5L520.2 467Z" fill="#e672f5"/>
<rect x="391.2" y="312.1" width="282.2" height="220.5" fill="none" stroke="#1a1a1a" stroke-width="1.5"/>
<path d="M391.2 532.6v-4M419.4 532.6v-2.2M447.6 532.6v-4M475.9 532.6v-2.2M504.1 532.6v-4M532.3 532.6v-2.2M560.5 532.6v-4M588.7 532.6v-2.2M617 532.6v-4M645.2 532.6v-2.2M673.4 532.6v-4" stroke="#1a1a1a" stroke-width="1.3"/>
<text x="391.2" y="547.1" text-anchor="middle" font-size="12" font-weight="bold">10</text>
<text x="447.6" y="547.1" text-anchor="middle" font-size="12" font-weight="bold">20</text>
<text x="504.1" y="547.1" text-anchor="middle" font-size="12" font-weight="bold">30</text>
<text x="560.5" y="547.1" text-anchor="middle" font-size="12" font-weight="bold">40</text>
<text x="617" y="547.1" text-anchor="middle" font-size="12" font-weight="bold">50</text>
<text x="673.4" y="547.1" text-anchor="middle" font-size="12" font-weight="bold">60</text>
<text x="532.3" y="570.8" text-anchor="middle" font-size="14.3" font-weight="bold">2 theta / <tspan dy="0.9">°</tspan></text>
<text transform="translate(376.1 422.4) rotate(-90)" text-anchor="middle" font-size="14.4" font-weight="bold">Intensity (a.u.)</text>
<text x="359.6" y="313.5" font-size="28" font-weight="bold">d</text>
<text x="393.7" y="326.6" font-size="14.4">LGLZO_7</text>
<text x="616.3" y="323.9" font-size="11.45">Observed</text>
<text x="616.3" y="337.8" font-size="11.45">Calculated</text>
<text x="616.3" y="351.7" font-size="11.45">Difference</text>
<text x="616.3" y="365.5" font-size="11.45">Cubic</text>
<text x="616.3" y="380.6" font-size="11.45">La<tspan font-size="7.6" dy="3.3">2</tspan><tspan dy="-3.3">Zr</tspan><tspan font-size="7.6" dy="3.3">2</tspan><tspan dy="-3.3">O</tspan><tspan font-size="7.6" dy="3.3">7</tspan></text>
<text x="616.3" y="395.9" font-size="11.45">Tetragonal</text>
<circle cx="596.9" cy="320.5" r="0.9" fill="#ef343d"/>
<path d="M583.8 334.2H610.3" stroke="#444" stroke-width="1.8"/>
<path d="M583.8 348H610.3" stroke="#55bd76" stroke-width="2"/>
<path d="M596.9 357.9V365.9" stroke="#8fb6ee" stroke-width="1.3"/>
<path d="M596.9 375V383.2" stroke="#e672f5" stroke-width="1.3"/>
<path d="M596.9 388.5V397.1" stroke="#ee9233" stroke-width="1.3"/>
<path d="M215.3 766.6L247.6 767.8L249.8 767.8L251.1 767.6L252.1 767.3L252.8 766.8L253.3 766L253.6 764.7L254 760L254.3 750.6L255.1 719L255.3 723.3L255.9 751.1L256.2 760.4L256.4 763.7L256.7 765.3L257 766.3L257.5 767.2L258.1 767.6L258.7 767.9L260.7 768.3L265.8 768.7L268.7 768.7L269.1 768.4L269.5 767.8L270.2 764.6L270.4 764.2L271.5 768.3L271.9 768.8L272.7 769L276.8 769.3L281.3 769.5L281.9 769.2L282.7 768.1L282.9 767.9L283.9 769.4L284.4 769.6L285.3 769.7L301 770.4L303.7 770.3L305.4 769.8L306.2 769.2L306.8 768.1L307.1 766.5L307.3 763.9L307.7 752.9L308.3 723L308.5 717.2L308.7 720.6L309.5 759.3L309.9 766.1L310.1 767.6L310.5 768.8L311.2 769.6L312.1 770.1L313.5 770.3L315 770.2L316 769.9L316.7 769.4L317.2 768.7L317.5 767.6L317.8 764.9L318.1 758.2L318.8 728.8L319 722.8L319.2 728.2L320 759.8L320.3 765.3L320.7 767.6L321 768.1L321.2 768.1L321.4 768L321.7 767.2L322 766L322.4 762.4L323.1 752.9L323.4 751L323.7 752.9L324.8 766L325.2 768.4L325.6 769.6L326.2 770.2L327 770.6L328.2 770.8L329.9 771L331.8 771L333.3 770.8L334.4 770.5L335.3 770L336.2 769L336.8 767.1L337.2 764L337.5 759.5L337.9 740.5L338.7 670.3L338.9 680.1L339.6 742.4L340 760.9L340.3 763.4L340.4 763.7L340.6 763.2L341.5 753.3L341.6 754.1L342.2 762.6L342.4 764.6L342.6 764.9L342.8 764.2L343.3 758.2L343.5 757.5L343.6 757.6L344.5 768.4L344.9 770L345.5 770.6L346.4 770.9L347.2 770.8L347.8 770.5L348.2 769.9L348.8 767.9L349.7 761.3L350 760.2L350.1 760L350.4 761L351.5 768L351.8 769.3L352.2 770.2L352.6 770.6L353.1 770.7L353.6 770.6L354.2 770.2L354.9 768.9L355.3 767.2L355.7 761.8L356 753.9L356.7 701.2L356.9 693.1L357.2 704L357.7 747.8L358.1 762.8L358.4 766.4L358.8 768.8L359.5 770.5L360 771L360.6 771.4L362.4 771.9L363.3 772L363.8 771.9L364.3 771.2L365.1 768.9L365.3 769.3L366.1 771.8L366.5 772.2L367.2 772.4L372.4 772.6L376.7 772.6L377.7 772.4L378.5 772.1L379.1 771.6L379.5 771L379.8 770L380 768.3L380.4 763.1L381.1 734.9L381.3 730.7L382.1 759.8L382.5 767.5L382.8 768.9L382.8 769.1L383 769.1L383.7 765.3L383.9 765L384 765.1L384.8 771L385.2 772.1L385.8 772.6L387.5 773L390.8 773.2L396.2 773.4L403.9 773.5L406 773.4L407.4 773.2L408.4 772.8L409 772.2L409.3 771.5L409.6 770.5L410 766.2L410.3 757.6L410.8 737.3L411 732.6L411.2 737.8L411.8 760.7L412.1 767.7L412.4 770.1L412.6 771.3L413 772.2L413.6 772.8L414.3 773.2L415.2 773.4L416.2 773.4L416.8 773.3L417.2 772.6L417.9 770.5L418.1 770.1L419 772.9L419.3 773.4L419.8 773.6L422.7 773.8L426.9 773.8L429.6 773.7L431 773.3L431.7 772.6L432.2 771.4L432.7 769L433.5 763.4L433.8 762.6L434.1 763.5L435.2 770.7L435.6 772L436.1 772.6L436.5 772.6L436.8 771.9L437.6 767.4L437.8 766.6L438 767.6L438.7 771.9L439.2 773.1L439.8 773.5L441 773.7L442.5 773.6L443.3 773.3L443.6 772.9L443.9 771.8L444.8 765.4L445 766.2L445.7 771.9L446 772.8L446.4 773.4L446.9 773.6L447.8 773.8L451.3 773.8L453.6 773.5L454.9 773L455.3 772.5L455.7 771.8L455.9 770.7L456.1 768.4L457.2 741.3L457.4 744.3L458.1 766.2L458.4 769.5L458.7 771.5L458.9 772.2L459.3 772.6L459.7 772.9L460.3 773.1L460.9 773.1L461.5 772.8L461.8 772.5L462.1 771.9L462.5 768.4L463.2 756.6L463.4 754.6L463.7 757.1L464.2 767.6L464.5 770.8L464.8 771.9L465.2 772.5L465.7 772.7L466.5 772.6L467.1 772L467.6 771L467.9 769.2L468.1 766.2L468.5 754.1L469.1 722.2L469.3 717.3L470.4 764.5L470.6 768.4L470.9 770.3L471.2 771.5L471.7 772.4L472.3 773L473.3 773.4L474.5 773.6L476.4 773.8L479.3 773.8L481.7 773.7L483.2 773.4L484.1 772.9L484.7 772L485.3 770.2L485.8 767.2L486.7 760.9L486.9 759.7L487.2 759.2L487.4 759.5L487.7 760.5L488.6 767.2L489.1 769.8L489.6 771.3L490.1 772.1L490.5 772.2L490.9 771.9L491.4 770.4L491.9 767.4L492.7 760.6L492.9 759.9L493 759.7L493.3 760.9L494.5 770.6L495 772.3L495.7 773.2L496.9 773.7L499.3 774L500.9 774L502.1 773.9L503.6 774.1L509 774.2L509.9 774.2L510.9 773.9L512.3 774.2" fill="none" stroke="#363636" stroke-width="1.4" stroke-linejoin="round"/>
<path d="M215.3 767h0m0.2 0.5h0m0 -1.4h0m0.4 0.6h0m0.2 -1h0m0.1 0.8h0m0.2 -0.7h0m0.1 0.7h0m0.1 0.6h0m0.2 -0.8h0m0.3 0.5h0m0.4 0.8h0m0.1 -1.1h0m0.4 0.6h0m0.1 -0.9h0m0.2 1h0m0 -0.5h0m0.4 -0.7h0m0.4 0.6h0m0.2 -0.8h0m0.1 1.2h0m0.2 -1h0m0.2 1.3h0m0.1 -1.2h0m0.1 1h0m0.1 -0.6h0m0.3 0.9h0m0.1 -0.8h0m0.1 1h0m0.1 -1.7h0m0.2 0.8h0m0.2 0.7h0m0 -0.7h0m0.1 1.2h0m0.2 -1.4h0m0.1 0.6h0m0 -0.7h0m0.2 0.8h0m0.2 -0.7h0m0.5 0.9h0m0.2 -0.8h0m0.2 0.9h0m0.2 -0.8h0m0.1 0.6h0m0.2 -0.6h0m0.2 0.8h0m0.1 -0.8h0m0.1 0.8h0m0.2 -0.7h0m0.2 1.1h0m0.1 -0.9h0m0.3 -0.6h0m0.2 0.7h0m0 0.5h0m0.2 -1.2h0m0.1 0.6h0m0.2 0.5h0m0.1 -1.2h0m0.1 1.3h0m0.1 -0.6h0m0.3 -0.5h0m0.1 0.6h0m0.2 -0.6h0m0.1 0.7h0m0.2 0.8h0m0.1 -1.2h0m0.1 1h0m0.1 -0.8h0m0.1 -0.6h0m0.1 0.5h0m0.3 -0.8h0m0.1 1.7h0m0.1 -0.6h0m0.4 0.4h0m0.4 -0.6h0m0.1 1.1h0m0 -0.6h0m0.4 -0.7h0m0.4 1.2h0m0.1 -1.3h0m0.3 0.7h0m0.4 -0.4h0m0.1 0.7h0m0.1 -1h0m0.1 0.8h0m0.1 -0.6h0m0.2 -0.8h0m0.1 0.5h0m0.1 0.8h0m0.2 -0.6h0m0.1 0.9h0m0.1 -0.7h0m0.1 0.6h0m0.2 1.1h0m0.1 -1.6h0m0 0.6h0m0.3 -0.5h0m0.1 0.5h0m0.4 -1h0m0.2 0.6h0m0.5 1.2h0m0.1 -1.2h0m0.2 0.5h0m0.2 -1.3h0m0.1 1.5h0m0.1 -0.8h0m0.2 0.8h0m0 -0.7h0m0.4 0.5h0m0.1 -1.3h0m0.1 1.2h0m0.4 0.4h0m0.1 -1.7h0m0.1 1.4h0m0 -0.7h0m0.4 1h0m0.1 -0.8h0m0.3 0.6h0m0 -0.9h0m0.4 0.6h0m0.5 -0.8h0m0.1 0.5h0m0.3 0.6h0m0.1 -0.7h0m0.3 0.6h0m0.1 -0.7h0m0.2 0.8h0m0.5 -0.6h0m0.3 0.6h0m0 -0.7h0m0.2 1.1h0m0.1 -1h0m0.5 0.1h0m0.1 1.2h0m0.1 -1.3h0m0.2 1h0m0.2 -0.8h0m0.3 -0.7h0m0.2 1.3h0m0.1 -0.8h0m0 1h0m0.1 -1h0m0.1 0.8h0m0.1 -0.8h0m0.1 0.6h0m0.2 -0.8h0m0.1 0.9h0m0.1 -0.7h0m0.2 0.8h0m0.1 -1h0m0.1 0.6h0m0 -0.6h0m0.3 -0.5h0m0.1 1.3h0m0.1 -0.7h0m0.3 0.6h0m0.1 0.8h0m0.1 -0.7h0m0.5 -0.3h0m0.4 0.5h0m0.1 -0.9h0m0 0.9h0m0.1 -0.7h0m0.1 0.7h0m0.1 -0.9h0m0.3 -0.5h0m0.1 1.2h0m0.3 -0.5h0m0.2 0.9h0m0 -0.6h0m0.2 0.7h0m0.1 -0.8h0m0.1 1.1h0m0 -1.7h0m0.1 0.7h0m0.3 0.6h0m0.1 -0.6h0m0.3 0.5h0m0.1 -1.1h0m0.1 0.8h0m0.4 -0.4h0m0.1 -0.7h0m0.1 0.7h0m0.4 0.5h0m0.2 -1.3h0m0.1 1.7h0m0.1 -1.2h0m0 1.3h0m0.3 -0.5h0m0.4 -0.8h0m0.1 0.6h0m0.1 -1.1h0m0.1 1.1h0m0.2 -0.7h0m0.3 1.3h0m0.1 -0.7h0m0.1 0.9h0m0.1 -1.5h0m0.1 0.9h0m0.1 -0.6h0m0.2 -0.7h0m0.1 1.1h0m0.1 -0.7h0m0.3 0.6h0m0.2 -0.7h0m0.3 0.9h0m0 0.8h0m0.1 -1.7h0m0.1 1.4h0m0.2 -0.7h0m0.4 0.5h0m0.2 -1h0m0.2 0.7h0m0 -0.9h0m0.2 -1.6h0m0.1 1.9h0m0.4 -1h0m0.3 -1.6h0m0.1 1.7h0m0.1 -1.2h0m0 -0.6h0m0.2 -0.5h0m0.2 -1.6h0m0.1 -2.3h0m0.1 -1.8h0m0.1 -2.4h0m0.1 -2.1h0m0 -3.1h0m0.1 -3.5h0m0.1 -4h0m0.1 -3.9h0m0.1 -5.5h0m0 -3.1h0m0.1 -3.5h0m0.1 -3.5h0m0.1 -4.6h0m0.1 0.6h0m0.1 1.1h0m0.1 3h0m0.1 2.5h0m0.1 4h0m0 5.3h0m0.1 3.8h0m0.1 4.6h0m0.1 3.6h0m0.1 3h0m0 3h0m0.1 2.9h0m0.1 2.4h0m0.1 0.9h0m0.1 1.7h0m0 1.3h0m0.1 1.1h0m0.1 1h0m0.3 0.9h0m0.2 0.8h0m0.1 -0.9h0m0 1.4h0m0.4 0.4h0m0.1 -0.5h0m0.2 -0.8h0m0.1 1.4h0m0 -0.5h0m0.2 0.5h0m0.1 0.6h0m0.4 -1h0m0.1 0.7h0m0.4 0.6h0m0 -1.3h0m0.3 1.3h0m0.1 -1h0m0.1 1h0m0.2 -0.6h0m0.4 0.8h0m0.1 -0.9h0m0.1 0.8h0m0.1 -1.1h0m0.1 1h0m0.1 -0.8h0m0.3 1h0m0.1 -1.8h0m0 1h0m0.1 0.6h0m0.1 0.6h0m0.1 -1h0m0.2 0.8h0m0.2 -1h0m0.1 1.5h0m0 -1.1h0m0.1 -0.6h0m0.1 0.6h0m0.3 1h0m0.1 -0.8h0m0.5 -0.6h0m0.1 0.9h0m0.1 -0.6h0m0.1 0.9h0m0.4 -0.8h0m0.1 0.6h0m0.1 0.7h0m0 -0.6h0m0.3 -0.9h0m0.1 0.6h0m0.2 -0.7h0m0.3 0.6h0m0.2 0.6h0m0.1 -0.7h0m0.1 0.5h0m0.1 -0.9h0m0.2 0.9h0m0 -0.8h0m0.1 0.7h0m0.3 0.9h0m0 -1.9h0m0.1 1.5h0m0.1 -1.2h0m0.3 1.1h0m0.1 -0.5h0m0.1 0.7h0m0.1 -0.9h0m0.3 0.9h0m0.2 -1.7h0m0.1 1.3h0m0.2 -1h0m0 0.6h0m0.2 0.7h0m0.1 -0.7h0m0.2 0.7h0m0.1 -0.7h0m0.2 -0.6h0m0.4 0.5h0m0.5 -1.1h0m0.2 1.2h0m0.1 -0.6h0m0 -1h0m0.4 -0.9h0m0 -1h0m0.3 -1.4h0m0.1 1h0m0 -0.6h0m0.2 -1.1h0m0.1 1.2h0m0.1 1h0m0.4 1h0m0 1h0m0.4 1.4h0m0.1 -0.6h0m0.2 0.6h0m0.1 -0.6h0m0.4 1.2h0m0.1 -0.6h0m0.5 0.5h0m0.2 0.5h0m0.1 -0.6h0m0.3 -0.8h0m0.1 1h0m0.2 -0.7h0m0.1 1h0m0.1 -0.9h0m0.3 0.7h0m0 -0.9h0m0.2 0.9h0m0.4 -0.7h0m0.1 1h0m0.1 -1h0m0.2 1h0m0.2 -1h0m0.1 0.5h0m0.2 -0.7h0m0.1 1h0m0.3 -1.3h0m0.1 1.2h0m0.4 0.4h0m0.1 -0.8h0m0.2 0.7h0m0.1 -0.8h0m0.4 0.5h0m0.1 -0.7h0m0.1 0.9h0m0.4 -0.9h0m0.2 0.5h0m0.3 0.6h0m0.1 -0.7h0m0.4 0.5h0m0.1 -0.7h0m0.3 0.6h0m0.4 -1h0m0 1.5h0m0.1 -0.8h0m0.2 0.5h0m0.1 -0.9h0m0 1h0m0.1 -0.6h0m0.2 0.6h0m0.1 -0.9h0m0.2 0.7h0m0.3 -0.8h0m0.1 1h0m0.2 -0.9h0m0 0.9h0m0.2 -1h0m0.2 0.8h0m0.1 -0.9h0m0.2 1.4h0m0.1 -1.2h0m0 -1h0m0.3 -0.5h0m0.1 1.1h0m0 -0.6h0m0.3 -0.6h0m0.2 1h0m0.2 0.9h0m0.1 -0.6h0m0.1 1.2h0m0.1 -1.2h0m0.3 1.1h0m0.1 -0.8h0m0.1 0.6h0m0.3 -0.8h0m0.1 1.4h0m0.1 -0.6h0m0.2 0.6h0m0.1 -0.8h0m0.1 1h0m0.2 -0.8h0m0.3 0.9h0m0.1 -1.8h0m0.2 1.3h0m0.1 -1h0m0.3 0.9h0m0.1 -0.8h0m0.1 0.7h0m0.2 0.6h0m0.2 -0.7h0m0.3 0.8h0m0.2 -1h0m0.3 0.5h0m0.2 -0.6h0m0 1h0m0.1 -1.2h0m0.3 1.3h0m0 -1h0m0.4 0.4h0m0.2 0.7h0m0.2 -0.9h0m0.3 0.5h0m0.4 -0.8h0m0.1 1h0m0.1 -1.3h0m0.1 1.4h0m0.1 -0.6h0m0.2 -0.7h0m0.1 1h0m0.2 -1h0m0.1 1.2h0m0.3 -1.2h0m0.1 1.5h0m0 -1h0m0.1 1.4h0m0.1 -2h0m0.2 1.7h0m0 -1.2h0m0.3 0.6h0m0.2 -0.7h0m0.1 1.3h0m0.1 -0.7h0m0.2 -1.1h0m0.1 0.9h0m0.2 0.8h0m0.1 -0.6h0m0.1 0.8h0m0.2 -1.3h0m0.1 1.7h0m0.1 -1h0m0.2 -0.7h0m0.1 0.9h0m0.2 -0.6h0m0.1 0.5h0m0.1 -0.8h0m0.1 0.6h0m0.4 -0.6h0m0.1 0.9h0m0.1 -0.6h0m0.1 0.7h0m0.1 -0.8h0m0.1 0.8h0m0.1 -0.7h0m0 0.7h0m0.2 -0.7h0m0.1 1.8h0m0.1 -1h0m0 -1.3h0m0.1 1.5h0m0.1 -0.8h0m0.2 1h0m0.1 -1.2h0m0.3 1h0m0.1 -1.5h0m0.1 1.3h0m0.1 -0.9h0m0.1 1.2h0m0 -0.9h0m0.2 -1.2h0m0.1 1.7h0m0.3 -0.6h0m0.1 -0.6h0m0.1 0.7h0m0.4 0.9h0m0.1 -0.8h0m0.1 -0.6h0m0.2 1h0m0.1 -0.6h0m0.6 0.1h0m0.2 0.9h0m0.1 -0.6h0m0.5 -0.5h0m0.1 1h0m0.4 -0.9h0m0.3 1.2h0m0.1 -1.1h0m0.2 1.2h0m0.2 -1.8h0m0 0.7h0m0.2 0.6h0m0.2 -1.4h0m0 1.9h0m0.3 -1h0m0.4 -0.5h0m0.1 1h0m0.3 -1.1h0m0.2 0.9h0m0.1 -0.8h0m0.2 1h0m0.1 -1.1h0m0.1 0.9h0m0.1 -1.4h0m0.1 1h0m0.2 0.9h0m0.2 -1.6h0m0 0.6h0m0.1 -1.2h0m0.1 1.2h0m0.5 -0.3h0m0.4 0.4h0m0.1 0.7h0m0 -0.7h0m0.1 -1.3h0m0.1 0.8h0m0.2 -0.7h0m0.3 0.8h0m0.4 -0.8h0m0.2 -1h0m0.1 0.9h0m0.1 -0.8h0m0.1 -0.6h0m0.1 -1.3h0m0.1 0.6h0m0.2 -0.6h0m0 -0.9h0m0.1 -2.4h0m0.2 -2h0m0.1 -1.6h0m0 -2.4h0m0.1 -3.2h0m0.1 -4.6h0m0.1 -3.1h0m0.1 -5.2h0m0 -3.8h0m0.1 -4.2h0m0.1 -6.2h0m0.1 -3.7h0m0.1 -3h0m0 -2.9h0m0.2 0.9h0m0.1 3.6h0m0.1 3.6h0m0 3.2h0m0.1 4h0m0.1 5.4h0m0.1 4.9h0m0.1 3.8h0m0 4.5h0m0.1 4.4h0m0.1 2.3h0m0.2 2.9h0m0 1.7h0m0.1 2.2h0m0.1 1.6h0m0.2 1h0m0.1 0.7h0m0.1 -0.8h0m0.1 1.2h0m0.3 0.5h0m0.2 0.7h0m0 -0.7h0m0.1 1.8h0m0.1 -1.1h0m0.1 -0.7h0m0.1 1.1h0m0.4 -0.5h0m0.2 1.1h0m0.6 -0.9h0m0.3 0.8h0m0.2 0.9h0m0.1 -1.1h0m0.4 0.4h0m0.2 -0.5h0m0.4 0.8h0m0.1 -1.1h0m0.2 1.2h0m0.1 -0.6h0m0.4 0.7h0m0.2 -0.7h0m0.6 -0.8h0m0.2 -0.9h0m0.1 0.6h0m0.1 0.6h0m0.2 0.8h0m0.1 -1h0m0.1 0.6h0m0 -0.9h0m0.3 -0.6h0m0.1 1.9h0m0 -1.6h0m0.2 0.8h0m0.1 -1.3h0m0.1 -0.6h0m0.2 0.8h0m0.1 -0.6h0m0.1 -0.9h0m0 -0.6h0m0.1 -0.8h0m0.1 -1.4h0m0.1 -0.6h0m0.1 -1.4h0m0 -1.7h0m0.1 -2.4h0m0.1 -2.9h0m0.1 -2.6h0m0.1 -3.3h0m0 -4.3h0m0.1 -4.3h0m0.1 -5.4h0m0.1 -3.2h0m0.1 -3.2h0m0 -3.1h0m0.1 -2.3h0m0.1 -1.4h0m0.1 1.4h0m0.1 0.9h0m0 4h0m0.1 3.5h0m0.1 3.9h0m0.1 4.1h0m0.1 3.9h0m0 4.8h0m0.1 3.8h0m0.1 3.8h0m0.1 1.4h0m0.1 1.4h0m0 1.4h0m0.1 2.4h0m0.1 1.6h0m0.1 0.7h0m0.1 1.6h0m0.2 1.3h0m0.2 -0.9h0m0 0.7h0m0.2 0.5h0m0.2 -1.2h0m0.2 0.9h0m0.1 -0.6h0m0.4 -1.8h0m0.1 -0.5h0m0.3 -1.9h0m0.1 -2.1h0m0.1 -0.7h0m0.1 -1.2h0m0.1 -1.6h0m0.1 -1.5h0m0.2 -2.1h0m0.1 -1.7h0m0.1 -0.7h0m0 -0.9h0m0.4 0.8h0m0 0.9h0m0.2 1.3h0m0.1 0.6h0m0.1 1.5h0m0 1.4h0m0.1 1.3h0m0.2 2h0m0.1 1.4h0m0.1 1.6h0m0.1 0.6h0m0.1 0.8h0m0.1 1.7h0m0 -0.8h0m0.2 1.5h0m0.1 0.6h0m0.1 0.5h0m0 0.8h0m0.4 0.5h0m0.1 -0.7h0m0.1 0.6h0m0.2 1.5h0m0.2 -1.2h0m0.2 0.8h0m0.4 -0.6h0m0.1 -0.9h0m0.1 1.9h0m0.2 -1.3h0m0.2 0.8h0m0.2 -0.6h0m0 0.8h0m0.1 0.6h0m0.1 -0.8h0m0.1 -0.7h0m0.1 1.2h0m0.3 -0.6h0m0.2 0.6h0m0.5 -1.3h0m0.1 0.7h0m0.2 0.6h0m0.1 -0.9h0m0.1 1.1h0m0.2 -0.7h0m0.3 0.6h0m0.2 -0.8h0m0.2 0.7h0m0.1 -0.7h0m0.1 1h0m0.2 -1h0m0.2 0.9h0m0.2 -0.8h0m0.4 0.7h0m0 -1.4h0m0.1 1.4h0m0.4 -1h0m0.1 0.6h0m0.2 0.6h0m0.1 -1.1h0m0.3 0.5h0m0.6 0.2h0m0.3 -0.6h0m0.2 1h0m0.3 -1.7h0m0.2 0.7h0m0.1 -0.6h0m0.1 1h0m0.1 -1h0m0.1 0.7h0m0.1 -0.8h0m0.1 1.3h0m0.2 -0.9h0m0.1 -0.6h0m0.3 -0.5h0m0.4 0.7h0m0 -0.6h0m0.4 -0.7h0m0.3 -0.8h0m0.1 -0.9h0m0.1 -1h0m0.1 0.6h0m0.1 -1h0m0.1 -0.9h0m0 -0.6h0m0.1 -1.3h0m0.2 -3.7h0m0.1 -2.1h0m0 -2.7h0m0.1 -3h0m0.1 -5.6h0m0.1 -5.9h0m0.1 -5.6h0m0 -8.1h0m0.1 -6.2h0m0.1 -9.6h0m0.1 -8.1h0m0.1 -8.5h0m0 -10.2h0m0.1 -5.1h0m0.1 -5h0m0.1 -2.8h0m0.1 -1.2h0m0 5.2h0m0.1 6.3h0m0.1 8.2h0m0.1 5.1h0m0.1 10.6h0m0 10.1h0m0.1 7.2h0m0.1 7.6h0m0.1 7h0m0.1 6.5h0m0 5.2h0m0.1 3.3h0m0.1 2.5h0m0.1 4.3h0m0.1 2.5h0m0.1 2.1h0m0.2 0.7h0m0.3 -1.3h0m0.1 1h0m0.1 -1.2h0m0 -1.4h0m0.1 -1h0m0.2 -2h0m0.1 -0.6h0m0 -1.5h0m0.1 -1.7h0m0.2 -1.3h0m0.1 1.4h0m0 0.8h0m0.2 1.8h0m0.1 1.1h0m0.1 2.5h0m0.1 0.9h0m0.1 1.4h0m0.2 1.6h0m0 1.1h0m0.4 -1h0m0.1 -2.5h0m0.1 0.7h0m0.1 -1.4h0m0.1 -1h0m0 -1.4h0m0.1 -0.7h0m0.3 -0.5h0m0 1h0m0.1 1h0m0.2 1.8h0m0.1 1.2h0m0 1.4h0m0.1 1.1h0m0.2 1.2h0m0.1 1h0m0 1.1h0m0.2 0.8h0m0.3 1.8h0m0.2 -0.7h0m0.5 -0.8h0m0 1.7h0m0.1 1h0m0.1 -1h0m0.1 -0.7h0m0.1 1.2h0m0.3 -0.7h0m0.1 0.7h0m0 -0.7h0m0.4 0.7h0m0 -1.1h0m0.1 0.7h0m0.3 -0.5h0m0 -0.6h0m0.1 0.8h0m0.5 -0.4h0m0.2 -0.8h0m0 0.8h0m0.3 -1.4h0m0.1 0.9h0m0.2 -1.5h0m0.1 -1h0m0.4 -0.9h0m0.1 -2h0m0 1h0m0.1 -2h0m0.1 -0.8h0m0.1 0.5h0m0.1 -0.6h0m0 -0.7h0m0.1 -0.7h0m0.1 -0.6h0m0.3 -1.3h0m0.1 0.7h0m0.1 1.2h0m0.1 -0.7h0m0.1 1.5h0m0.2 1.8h0m0.1 -1.2h0m0 2h0m0.3 0.9h0m0.1 1.2h0m0.1 0.9h0m0.3 0.6h0m0.2 1.4h0m0.5 0.5h0m0.2 1.4h0m0.2 -1.1h0m0.2 0.5h0m0.2 0.8h0m0.1 -0.7h0m0.3 -0.9h0m0.1 1h0m0.2 -0.8h0m0.2 -0.7h0m0 1.6h0m0.1 -1.5h0m0.3 1h0m0.1 -0.8h0m0.3 -1h0m0.3 -0.5h0m0.1 -1.4h0m0.2 -0.6h0m0.1 -0.7h0m0.1 -1.9h0m0.1 -3.3h0m0.1 -1.5h0m0.1 -2h0m0.1 -2.5h0m0 -4.6h0m0.1 -4.8h0m0.1 -4.8h0m0.1 -5.2h0m0.1 -6.9h0m0 -7.8h0m0.1 -6.1h0m0.1 -6h0m0.1 -9h0m0.1 -2.6h0m0 -3.6h0m0.1 1.7h0m0.2 2h0m0.1 8h0m0 5.8h0m0.1 7.8h0m0.1 5.2h0m0.1 6h0m0.1 8.2h0m0 5.2h0m0.1 4.4h0m0.1 4.4h0m0.1 4h0m0.1 3.1h0m0 2.4h0m0.1 1.7h0m0.1 0.8h0m0.1 1.3h0m0.1 1.4h0m0.1 1.7h0m0.1 -0.8h0m0.1 1.4h0m0.2 0.8h0m0.3 0.5h0m0.3 0.7h0m0.1 -0.8h0m0 0.9h0m0.3 0.6h0m0.1 -0.6h0m0.1 -0.5h0m0.1 1.1h0m0.2 -1h0m0.1 1.1h0m0.4 0.7h0m0.1 -0.8h0m0.1 -0.6h0m0.1 0.7h0m0.2 0.5h0m0.2 -1.3h0m0.1 0.6h0m0.2 0.9h0m0.1 -0.7h0m0 0.7h0m0.2 -0.7h0m0.1 0.6h0m0.4 -0.8h0m0.1 1h0m0.2 -1.7h0m0.1 1.3h0m0.1 -0.6h0m0.1 1.1h0m0.3 -0.9h0m0 1.4h0m0.1 -1.3h0m0.4 -0.7h0m0.2 -1.3h0m0.1 0.9h0m0.3 -0.9h0m0.1 0.6h0m0 -1.2h0m0.1 -0.6h0m0.1 0.9h0m0.2 -0.7h0m0.1 1.2h0m0.1 -1.3h0m0.1 2h0m0.1 -0.8h0m0.1 1h0m0.3 1.3h0m0.2 -1.4h0m0.1 1.3h0m0.3 -0.4h0m0.2 0.5h0m0.2 1.1h0m0.1 -1.4h0m0.1 0.8h0m0 0.6h0m0.2 -0.7h0m0.3 1.1h0m0.1 -0.9h0m0.2 -1h0m0 1.2h0m0.2 -1h0m0.2 0.9h0m0.2 -1.1h0m0.2 0.7h0m0 0.7h0m0.2 -0.7h0m0.2 0.9h0m0.1 -1.4h0m0.3 1.2h0m0.2 -0.8h0m0.3 -0.7h0m0.1 0.6h0m0.2 0.8h0m0.3 -1.1h0m0.1 0.8h0m0.2 -0.8h0m0.1 0.9h0m0.2 -1.2h0m0.1 1.3h0m0.1 -0.9h0m0.1 0.9h0m0.2 -0.5h0m0.4 0.9h0m0.1 -0.7h0m0.1 0.7h0m0.3 -0.9h0m0.1 0.6h0m0.1 -0.8h0m0.2 1.3h0m0.1 -0.5h0m0 -0.9h0m0.1 1.2h0m0.1 -0.8h0m0.3 0.4h0m0.2 0.6h0m0.1 -1h0m0.1 0.6h0m0.4 -0.9h0m0.1 0.9h0m0.1 -0.9h0m0.2 1.3h0m0.2 -1.4h0m0.1 0.8h0m0 -0.7h0m0.1 0.8h0m0.1 -0.9h0m0.1 0.6h0m0.1 -0.9h0m0.1 0.7h0m0.2 -0.7h0m0.1 1.4h0m0.4 -0.8h0m0.1 -0.5h0m0.1 0.9h0m0.1 -0.9h0m0.2 1.3h0m0.1 -1h0m0.5 0.7h0m0.1 -1h0m0.2 0.8h0m0.1 -1.2h0m0.2 1h0m0.3 -0.6h0m0.2 -0.8h0m0.1 1h0m0.4 -0.9h0m0.1 0.8h0m0.1 -1.6h0m0.1 0.9h0m0.2 -1.1h0m0.2 0.6h0m0.1 -0.9h0m0.1 -1.2h0m0.1 -0.9h0m0.1 -0.9h0m0.1 -1.7h0m0.1 -2h0m0 -1.6h0m0.1 -3.2h0m0.1 -3.1h0m0.1 -2.7h0m0.1 -3.2h0m0 -4.6h0m0.1 -3h0m0.1 -3.8h0m0.1 -2.2h0m0.1 -3.3h0m0 -0.9h0m0.3 3.1h0m0.1 0.5h0m0 4.3h0m0.1 4.6h0m0.1 4h0m0.1 3.7h0m0.1 3.1h0m0 2.9h0m0.1 2.1h0m0.1 1.9h0m0.1 1.9h0m0.1 2.3h0m0 1.3h0m0.1 0.7h0m0.3 0.8h0m0.4 -0.9h0m0.2 -0.6h0m0.2 -1.9h0m0.1 0.7h0m0.1 -0.9h0m0.4 0.7h0m0.1 0.9h0m0.1 1.5h0m0.2 0.5h0m0.2 1.3h0m0 1.1h0m0.3 1.3h0m0.1 -0.8h0m0.3 0.7h0m0.4 0.7h0m0.1 -1h0m0.1 1.1h0m0.3 -0.7h0m0.3 0.8h0m0.2 -0.6h0m0.3 0.6h0m0.1 -0.5h0m0.3 0.5h0m0.1 -0.7h0m0.2 0.8h0m0.2 -0.9h0m0.1 0.6h0m0.3 -0.8h0m0.1 0.7h0m0.2 -1h0m0.1 0.9h0m0.2 -0.5h0m0.1 0.8h0m0.2 -1.1h0m0.1 1.1h0m0.3 0.8h0m0.1 -1.2h0m0.1 0.5h0m0 -0.8h0m0.1 0.9h0m0.2 -0.9h0m0.1 1.5h0m0 -1.4h0m0.1 1h0m0.1 -1.1h0m0.1 0.8h0m0.3 0.9h0m0.1 -0.9h0m0.3 -0.6h0m0.1 1.3h0m0.1 -1h0m0.3 -0.5h0m0.1 1.2h0m0.1 -0.8h0m0.3 1.1h0m0.2 -0.7h0m0.2 1.2h0m0.1 -1.8h0m0.1 1.5h0m0.1 -1.1h0m0.1 1.3h0m0 -1.4h0m0.4 -0.4h0m0.1 0.8h0m0.3 -0.5h0m0.4 0.5h0m0.5 0h0m0.3 0.6h0m0.1 -1.1h0m0.1 0.7h0m0.1 -0.8h0m0.1 0.6h0m0.2 0.8h0m0.2 -0.9h0m0.4 -1.2h0m0 1.6h0m0.2 -1.7h0m0.1 1h0m0.1 1.3h0m0 -1.1h0m0.1 1.2h0m0.1 -1.3h0m0.1 0.7h0m0.1 -1.1h0m0.1 0.9h0m0.5 -0.6h0m0.2 1.1h0m0.1 -0.9h0m0.1 0.7h0m0.3 -0.8h0m0.1 0.5h0m0.1 -0.6h0m0.1 1.1h0m0.1 -0.8h0m0.1 0.9h0m0.1 -1.2h0m0.3 0.8h0m0.6 -0.4h0m0 0.8h0m0.1 -0.6h0m0.1 0.9h0m0.1 -1.4h0m0.2 0.9h0m0.2 -0.7h0m0.4 0.6h0m0.4 -0.4h0m0.5 0.6h0m0.1 -1h0m0.1 0.6h0m0.2 0.6h0m0.1 -0.7h0m0.1 -0.8h0m0.1 0.8h0m0.1 0.7h0m0.1 -1.7h0m0.1 1.1h0m0.4 -0.6h0m0.2 1.1h0m0 -0.7h0m0.3 -0.5h0m0.1 0.7h0m0 0.6h0m0.1 -0.6h0m0.2 -0.8h0m0.2 0.7h0m0.1 -0.7h0m0.1 1h0m0.1 -0.9h0m0.1 0.9h0m0.1 -1.6h0m0.2 0.9h0m0 0.8h0m0.2 -1.1h0m0.1 0.8h0m0.1 0.6h0m0 -0.9h0m0.1 0.8h0m0.2 -0.7h0m0.4 -0.8h0m0.1 0.6h0m0.2 0.6h0m0.1 -0.6h0m0.1 0.5h0m0 0.8h0m0.1 -0.8h0m0.1 -1.2h0m0.1 0.6h0m0.1 -0.6h0m0.1 1.1h0m0.1 -0.7h0m0.2 -1.4h0m0 2.1h0m0.1 -2h0m0.1 1.4h0m0.2 -0.7h0m0 0.7h0m0.4 -0.5h0m0.5 0.7h0m0.1 -1.4h0m0.3 -0.6h0m0.1 -0.8h0m0.3 -1.2h0m0.1 -0.6h0m0.1 -1h0m0.1 -1.2h0m0 -1.6h0m0.1 -1.9h0m0.1 -2.2h0m0.1 -3.4h0m0.1 -2.7h0m0 -3.3h0m0.1 -4.3h0m0.1 -3.1h0m0.1 -3.7h0m0.1 -2.9h0m0 -2.2h0m0.1 -3.1h0m0.1 0.9h0m0.1 1.4h0m0.1 3h0m0.1 3.7h0m0.1 3.4h0m0.1 4.4h0m0.1 3.4h0m0 2.1h0m0.1 3.7h0m0.1 2.3h0m0.1 3.5h0m0.1 1h0m0 1.6h0m0.1 1.7h0m0.1 1.2h0m0.2 0.6h0m0.1 0.9h0m0.3 1h0m0.1 0.7h0m0.1 0.7h0m0.2 -1.3h0m0 0.9h0m0.3 -0.6h0m0.3 1.2h0m0.1 -1h0m0.1 0.6h0m0.5 0h0m0.2 0.8h0m0.1 -0.9h0m0.4 0.4h0m0.1 0.7h0m0.1 -0.8h0m0.2 -0.9h0m0 1h0m0.4 0.6h0m0.2 -1h0m0.3 0.7h0m0.1 -0.7h0m0.1 1.1h0m0.1 -1.4h0m0.2 0.9h0m0.2 -1.4h0m0 0.6h0m0.2 -0.6h0m0.1 -0.9h0m0.1 1h0m0 -1.4h0m0.2 -0.8h0m0.1 1h0m0.1 -1.3h0m0.1 0.8h0m0.4 1.6h0m0.1 -1.3h0m0.1 1.4h0m0.4 0.6h0m0.1 1.2h0m0 -2.1h0m0.1 1.4h0m0.1 0.6h0m0.2 -0.6h0m0 -0.6h0m0.1 0.9h0m0.3 -1.1h0m0.1 1.9h0m0.1 -1.6h0m0.1 1.7h0m0.1 -1.4h0m0.1 0.7h0m0.3 0.8h0m0.1 -0.7h0m0.3 -0.5h0m0.2 1.5h0m0.1 -1.1h0m0.3 -1.1h0m0.2 1.2h0m0.1 0.6h0m0.1 -0.8h0m0.2 -0.8h0m0 1.1h0m0.2 -0.6h0m0.2 -0.6h0m0.1 1.9h0m0.1 -0.7h0m0.2 -0.7h0m0.4 0.9h0m0.1 -0.9h0m0.2 0.7h0m0.2 0.6h0m0.1 -1.1h0m0.2 0.5h0m0.4 -1h0m0 0.8h0m0.5 -0.4h0m0.1 1h0m0.2 -0.8h0m0.4 0.7h0m0.2 -0.6h0m0.1 0.8h0m0.1 -1.1h0m0.2 1h0m0.1 -1.4h0m0.1 1.1h0m0 -0.6h0m0.1 -1.5h0m0.1 1.6h0m0.2 0.5h0m0.2 -0.6h0m0.2 0.8h0m0.3 -1.1h0m0.1 1h0m0 -0.7h0m0.4 1.5h0m0 -1.4h0m0.4 -0.5h0m0.2 1h0m0.1 -1.5h0m0.1 0.6h0m0.4 0.5h0m0.2 -0.6h0m0.4 1.1h0m0.1 -0.9h0m0.1 1.2h0m0.1 -0.8h0m0.3 -0.6h0m0.2 -0.9h0m0.1 1h0m0.1 -0.5h0m0.3 -1.1h0m0.1 1.7h0m0 -1.1h0m0.1 0.6h0m0.3 -0.7h0m0.1 -1.3h0m0.3 -0.9h0m0.4 -1.4h0m0 -1.4h0m0.1 0.7h0m0.1 -1.2h0m0.2 -1.5h0m0.1 -1.3h0m0.1 0.6h0m0.1 -0.8h0m0.1 -0.6h0m0.3 -1.2h0m0.1 2.4h0m0.1 -0.6h0m0.3 1.9h0m0.2 1.3h0m0.2 0.8h0m0 0.8h0m0.1 1h0m0.1 0.7h0m0.2 1.3h0m0.4 1.2h0m0.4 -0.5h0m0.1 0.9h0m0.1 -0.8h0m0.6 -0.2h0m0.2 -2.1h0m0.1 1h0m0.1 -0.9h0m0.2 -1.6h0m0.1 -2h0m0.1 0.8h0m0.2 -0.8h0m0.2 1.2h0m0.1 1.2h0m0.3 1.1h0m0.1 0.9h0m0.2 2h0m0.1 -1.4h0m0.1 1.6h0m0.4 0.9h0m0 -0.8h0m0.1 -0.8h0m0.1 1h0m0.3 -0.5h0m0.1 0.9h0m0.3 -1.3h0m0.1 1.5h0m0.2 -1.2h0m0 0.8h0m0.4 -0.8h0m0 1.7h0m0.1 -1.3h0m0.1 1.2h0m0.2 -1h0m0.3 0.5h0m0.1 -0.5h0m0.1 0.9h0m0.1 -1.3h0m0.1 0.6h0m0.4 0.7h0m0.4 -1h0m0.4 0.5h0m0.1 -0.8h0m0.2 -0.5h0m0.1 0.8h0m0.1 -1h0m0 0.8h0m0.1 -1.6h0m0.3 -0.6h0m0 -0.8h0m0.2 -1.9h0m0.2 -1.1h0m0.1 -0.8h0m0.2 -1.2h0m0.2 1.5h0m0.1 -0.7h0m0.1 1.3h0m0.1 0.5h0m0 1.6h0m0.1 0.7h0m0.2 1.3h0m0.1 1.1h0m0.4 1.2h0m0 -0.7h0m0.1 1h0m0.3 -0.6h0m0.3 0.7h0m0.1 -0.8h0m0 1.2h0m0.1 -0.7h0m0.2 -0.6h0m0.1 1.1h0m0 -1.5h0m0.1 0.6h0m0.1 1.2h0m0.2 -1.3h0m0.1 0.6h0m0.3 -1h0m0.2 1h0m0.1 -0.9h0m0.1 1h0m0.3 0.8h0m0.1 -1.3h0m0.1 1.5h0m0.1 -0.9h0m0.2 0.7h0m0 -1.2h0m0.3 0.6h0m0.2 -0.7h0m0.1 0.9h0m0.1 -0.6h0m0.3 -0.5h0m0.2 1h0m0.4 -1.3h0m0.1 0.9h0m0.3 -0.5h0m0.3 1.4h0m0.1 -1.2h0m0.2 0.6h0m0.1 -0.9h0m0.1 1h0m0 -0.7h0m0.5 -0.3h0m0.1 0.8h0m0.2 0.8h0m0 -0.6h0m0.2 -1.1h0m0.1 1.1h0m0.3 -1.4h0m0.2 0.9h0m0.1 -0.6h0m0.5 0.7h0m0.1 -0.5h0m0.2 -0.7h0m0.3 0.6h0m0.4 -0.6h0m0.3 -1h0m0.3 -0.7h0m0.1 -1.2h0m0.1 -1.1h0m0.2 -2.4h0m0.1 -2h0m0.1 -1.1h0m0 -3.5h0m0.1 -2.6h0m0.1 -2.2h0m0.1 -2.9h0m0.1 -4.1h0m0 -2h0m0.1 -2.2h0m0.1 -1.5h0m0.1 -2.1h0m0.1 1.7h0m0.1 2.1h0m0.1 3.5h0m0.1 2.8h0m0.1 3.1h0m0 2h0m0.1 1.7h0m0.1 2.8h0m0.1 3.5h0m0.1 2.2h0m0 1.5h0m0.2 1.9h0m0.2 1.2h0m0 0.7h0m0.2 1h0m0.1 -0.6h0m0.1 1.6h0m0.1 -0.7h0m0.1 0.9h0m0.2 -0.9h0m0 0.8h0m0.5 0.3h0m0.1 -1.3h0m0.1 1.5h0m0.4 -0.7h0m0.1 0.9h0m0.4 -0.6h0m0 0.6h0m0.3 -0.6h0m0.5 -0.6h0m0 -1h0m0.1 0.8h0m0.1 0.7h0m0.2 -1.2h0m0.1 -0.6h0m0.1 -0.7h0m0.2 -0.8h0m0 -0.8h0m0.1 -2.2h0m0.2 -2.4h0m0.1 -0.9h0m0 -1.6h0m0.1 -1.7h0m0.1 -2h0m0.1 -1.1h0m0.1 -2.4h0m0.2 1.5h0m0.2 0.9h0m0 2.2h0m0.1 2h0m0.1 1h0m0.1 1.1h0m0.1 1.6h0m0 2.2h0m0.1 0.5h0m0.1 1.5h0m0.2 1.8h0m0.3 1.4h0m0.3 0.8h0m0.1 -0.6h0m0.3 0.9h0m0.2 -1h0m0.1 1h0m0.1 -0.6h0m0.1 1.5h0m0.1 -1.4h0m0.3 0.9h0m0.1 -1.6h0m0 0.9h0m0.4 -0.6h0m0.1 -0.5h0m0.1 0.6h0m0.2 -0.8h0m0.3 -0.8h0m0.1 0.8h0m0 -1.2h0m0.1 -1.2h0m0.3 -2h0m0 -1.3h0m0.1 -0.6h0m0.1 -2.6h0m0.1 -1.7h0m0.1 -3.5h0m0 -2.9h0m0.1 -5.1h0m0.1 -4.1h0m0.1 -4.6h0m0.1 -3.8h0m0 -5.3h0m0.1 -5.3h0m0.1 -3.7h0m0.1 -3.3h0m0.1 -3.6h0m0 2.6h0m0.2 2.5h0m0.1 5.4h0m0.1 4.7h0m0 4.6h0m0.1 5.1h0m0.1 4.4h0m0.1 4.5h0m0.1 5h0m0 2h0m0.1 3.5h0m0.1 2.8h0m0.1 1.8h0m0.1 1.1h0m0 1.3h0m0.1 2.1h0m0.2 -0.6h0m0.1 1.9h0m0.2 0.8h0m0.1 0.6h0m0.1 -0.7h0m0.1 1.1h0m0.1 -0.7h0m0.2 0.9h0m0.1 -0.7h0m0.1 0.9h0m0.1 -0.6h0m0.1 1.1h0m0.2 -0.9h0m0.1 1h0m0.1 -0.8h0m0.2 0.6h0m0.1 0.7h0m0.1 -0.7h0m0.3 -0.5h0m0.1 0.7h0m0.4 0.4h0m0.4 0.7h0m0.1 -1.1h0m0.2 0.5h0m0.1 -1h0m0.2 0.7h0m0.2 0.6h0m0.3 -0.8h0m0.1 0.8h0m0 -1.3h0m0.1 0.6h0m0.1 0.8h0m0.3 -0.8h0m0.2 0.7h0m0.1 -0.9h0m0.3 0.6h0m0.4 0.4h0m0.1 -0.6h0m0.1 0.9h0m0.1 -0.8h0m0.2 0.5h0m0.1 -0.8h0m0.1 0.6h0m0.2 -0.9h0m0.1 0.9h0m0.3 1.2h0m0.1 -1.3h0m0.3 -1.5h0m0 1.6h0m0.1 -0.9h0m0.1 1.1h0m0.5 -0.7h0m0.1 0.6h0m0.2 -0.8h0m0.2 1.8h0m0 -2.7h0m0.1 0.6h0m0.1 0.9h0m0.2 -0.6h0m0.1 0.6h0m0.1 -0.8h0m0.1 1.3h0m0.1 -1.1h0m0.1 0.6h0m0.4 0.4h0m0.2 -1.1h0m0.1 0.7h0m0.5 -1h0m0.1 0.7h0m0.2 1.2h0m0 -0.9h0m0.2 -0.7h0m0.2 1h0m0.1 -1.1h0m0.1 0.6h0m0.1 -0.6h0m0.1 0.6h0m0.2 -0.5h0m0.4 -0.5h0m0.1 0.6h0m0.2 -0.9h0m0.1 0.9h0m0.3 -0.8h0m0.3 -0.4h0m0.4 -1.3h0m0 1.4h0m0.1 -2.1h0m0.1 0.8h0m0.2 -1h0m0.3 -1.6h0m0.1 -0.9h0m0.2 -1.1h0m0.1 -1.2h0m0.1 -0.6h0m0.3 -1.8h0m0.1 -0.8h0m0.1 -0.7h0m0.2 -1h0m0.2 -0.5h0m0.2 -0.6h0m0.1 0.6h0m0.2 0.6h0m0.2 0.9h0m0.1 0.9h0m0.2 0.6h0m0.1 1.2h0m0.2 1.3h0m0.2 2.4h0m0.1 -0.5h0m0.2 0.9h0m0.1 0.6h0m0 0.8h0m0.3 0.9h0m0.1 1.1h0m0.2 -0.6h0m0.1 0.9h0m0.1 0.6h0m0.2 -1.3h0m0.1 0.7h0m0.1 1h0m0.1 -1.2h0m0.1 0.9h0m0.4 -0.6h0m0.3 0.6h0m0.2 -0.9h0m0.1 -1h0m0.3 -0.5h0m0.1 -0.6h0m0 -0.8h0m0.2 -0.9h0m0.1 -1.7h0m0.1 0.9h0m0 -2h0m0.2 -1.9h0m0.2 -0.7h0m0.1 -1.2h0m0.2 -1.1h0m0.1 0.7h0m0.2 -1.7h0m0.1 1.2h0m0.1 0.8h0m0.1 1.4h0m0.2 1.9h0m0.3 1.5h0m0.1 0.8h0m0.1 0.8h0m0 0.7h0m0.1 0.9h0m0.2 0.9h0m0.1 1.1h0m0.3 0.7h0m0.1 1.2h0m0 -1.8h0m0.1 0.9h0m0.2 0.9h0m0.3 -0.6h0m0.2 1.5h0m0 -0.9h0m0.3 0.7h0m0.3 -0.9h0m0.2 1.3h0m0 -0.8h0m0.2 0.8h0m0.1 -1h0m0.1 0.7h0m0 -0.8h0m0.2 0.6h0m0.2 0.7h0m0.1 -0.6h0m0.3 -0.6h0m0.3 1.1h0m0.3 -0.5h0m0.2 -0.6h0m0 1.4h0m0.1 0.6h0m0.2 -1.3h0m0.4 0.8h0m0.1 -0.6h0m0.6 0h0m0.1 0.6h0m0.1 -0.6h0m0.3 0.8h0m0.1 -0.6h0m0.3 -0.9h0m0.1 0.8h0m0.5 -0.4h0m0.4 -0.5h0m0.3 0.6h0m0.2 0.6h0m0.1 -0.7h0m0.1 0.7h0m0.1 -0.7h0m0.1 0.5h0m0.2 -0.7h0m0.3 0.9h0m0.1 -0.6h0m0.1 1.1h0m0.2 -0.6h0m0.2 -0.5h0m0.2 0.5h0m0.1 0.8h0m0 -1.3h0m0.2 0.8h0m0.2 -0.7h0m0.5 0.4h0m0.2 0.8h0m0.1 -0.7h0m0.3 -0.5h0m0.1 0.9h0m0 -0.5h0m0.2 1h0m0.1 -1.2h0m0.4 -0.4h0m0.1 0.5h0m0 -0.8h0m0.1 0.8h0m0.1 -1.6h0m0.1 1.7h0m0.1 0.6h0m0 -1.2h0m0.3 0.6h0m0.5 -0.6h0m0.2 1.3h0m0.2 -0.8h0m0.2 -0.6h0m0.1 1.2h0m0.2 -1h0m0.3 0.9h0m0 -0.8h0m0.2 0.9h0m0.1 -1h0m0.1 0.6h0m0.3 -0.4h0m0.2 1.2h0m0.1 -1.3h0m0.3 1.5h0m0.1 -1.3h0m0.2 -0.7h0m0.2 0.8h0m0.2 0.7h0m0.1 -1.1h0m0.4 0.4h0m0.1 -1.1h0m0.1 1.2h0m0.3 -0.5h0m0.1 0.6h0m0.1 -0.6h0m0.1 0.6h0m0.1 -0.7h0" fill="none" stroke="#ef343d" stroke-width="1.8" stroke-linecap="round"/>
<path d="M254.9 782.1V790.6M270.7 782.1V790.6M282.5 782.1V790.6M308.5 782.1V790.6M319.1 782.1V790.6M338.5 782.1V790.6M347.7 782.1V790.6M357.1 782.1V790.6M365.1 782.1V790.6M381.7 782.1V790.6M411.4 782.1V790.6M417.9 782.1V790.6M438.4 782.1V790.6M444.5 782.1V790.6M457.6 782.1V790.6M463.5 782.1V790.6M469.6 782.1V790.6M487.4 782.1V790.6M493.5 782.1V790.6M502.7 782.1V790.6M509.9 782.1V790.6" stroke="#5590f0" stroke-width="1.3"/>
<path d="M323.2 782.1V790.6M349.7 782.1V790.6M434.3 782.1V790.6" stroke="#e672f5" stroke-width="1.3"/>
<path d="M340.6 782.1V790.6" stroke="#ee9233" stroke-width="1.3"/>
<path d="M215.3 816.2L215.6 817.5L215.8 817.8L216.1 817.3L216.3 818.7L216.6 817.6L216.8 817.6L217.1 819L217.3 817.9L217.6 817.1L217.8 816.3L218.1 817.3L218.3 818.2L218.6 816.9L218.8 818.2L219.1 816.5L219.3 818.1L219.6 817.3L219.8 817.2L220.1 817.9L220.3 817.3L220.6 816.7L220.8 817.2L221.1 817.6L221.3 818L221.6 817.8L221.8 817.2L222.1 817.3L222.3 817.5L222.6 817.2L222.8 818.3L223.1 817.5L223.3 817.3L223.6 816.9L223.8 818.8L224.1 817.6L224.3 817.5L224.6 817.4L224.8 818.4L225.1 817.7L225.3 817.7L225.6 816.4L225.8 817.2L226.1 817.8L226.3 818.4L226.6 819.1L226.8 818.1L227.1 817.3L227.3 817.7L227.6 818L227.8 817.3L228.1 818L228.3 818.1L228.6 817.7L228.8 817.3L229.1 817.6L229.3 817.3L229.6 817.6L229.8 818.3L230.1 817.9L230.3 818.3L230.6 817.3L230.8 817.4L231.1 817.1L231.3 817.9L231.6 817.4L231.8 817L232.1 817.3L232.3 818.6L232.6 817.6L232.8 817.5L233.1 817.3L233.3 818.3L233.6 816.9L233.8 817.2L234.1 817.2L234.3 817.9L234.6 818.4L234.8 817.6L235.1 818.1L235.3 816.7L235.6 817.3L235.8 816.9L236.1 817.9L236.3 816.9L236.6 816.7L236.8 818L237.1 816.6L237.3 817.2L237.6 817.2L237.8 816.7L238.1 817.4L238.3 817.8L238.6 818.3L238.8 817.3L239.1 817.1L239.3 817.6L239.6 817.6L239.8 817.8L240.1 818.5L240.3 816.3L240.6 818.1L240.8 817.5L241.1 817.1L241.3 817.1L241.6 817.1L241.8 817.9L242.1 818.9L242.3 817.2L242.6 818.5L242.8 817.9L243.1 817.4L243.3 818.4L243.6 816.2L243.8 817.8L244.1 817.8L244.3 817.8L244.6 816.4L244.8 818L245.1 817.5L245.3 817.7L245.6 818.1L245.8 816.6L246.1 818.3L246.3 818.4L246.6 817.9L246.8 817.2L247.1 817.5L247.3 816.6L247.6 816.9L247.8 817.8L248.1 818L248.3 817.6L248.6 817.1L248.8 817.2L249.1 817.8L249.3 818.5L249.6 817.6L249.8 818.5L250.1 817.5L250.3 818.1L250.6 817.6L250.8 817.2L251.1 817.2L251.3 818.2L251.6 817.6L251.8 816.6L252.1 818.2L252.3 818.1L252.6 817.8L252.8 818.2L253.1 817.7L253.3 817.7L253.6 817L253.8 817.3L254.1 815.9L254.3 810.8L254.6 803.8L254.8 804.9L254.8 804.5L255.1 812.2L255.3 821.7L255.4 824L255.6 824.3L255.8 822.3L256.1 819.9L256.3 817.7L256.6 817.3L256.8 817.9L257.1 817.9L257.3 816.9L257.6 817.9L257.8 818.2L258.1 817.1L258.3 818.6L258.6 817L258.8 818.1L259.1 817.8L259.3 817.9L259.6 817.3L259.8 817.5L260.1 818.6L260.3 816.9L260.6 817.4L260.8 818.9L261.1 817.5L261.3 817.3L261.6 818.4L261.8 817.4L262.1 817.2L262.3 817.3L262.6 817.7L262.8 817.8L263.1 817.7L263.3 817.1L263.6 818.2L263.8 819L264.1 817.8L264.3 816.7L264.6 816.7L264.8 817.6L265.1 817.5L265.3 817L265.6 817.6L265.8 817.5L266.1 817.7L266.3 816.9L266.6 816.9L266.8 817.3L267.1 817.4L267.3 817.1L267.6 818.1L267.8 817.5L268.1 816.3L268.3 817.3L268.6 818.1L268.9 817.2L269.1 817L269.4 817.2L269.6 815.3L269.9 815.2L270.1 815.6L270.4 817L270.6 818.6L270.7 819L270.9 818.6L271.1 818.6L271.4 818.7L271.6 817.5L271.9 818L272.1 817.7L272.4 818.1L272.6 817.7L272.9 818.2L273.1 817.5L273.4 817.1L273.6 817.5L273.9 817.3L274.1 818.1L274.4 818L274.6 817.5L274.9 817.2L275.1 818.1L275.4 817.6L275.6 817.5L275.9 818.5L276.1 817.9L276.4 818L276.6 817.4L276.9 816.7L277.1 818.2L277.4 817.9L277.6 818.6L277.9 817.6L278.1 817.2L278.4 815.9L278.6 817.9L278.9 817.5L279.1 817.1L279.4 817.5L279.6 818.6L279.9 817.4L280.1 817.8L280.4 818.1L280.6 818.1L280.9 816.5L281.1 817.5L281.4 817.6L281.6 817.1L281.9 816.1L282.1 816.8L282.2 816.5L282.4 817.7L282.6 818.5L282.8 818.4L282.9 818.8L283.1 818.5L283.4 817.2L283.6 818.1L283.9 817.7L284.1 817.9L284.4 817.6L284.6 817.3L284.9 817.9L285.1 818L285.4 818.3L285.6 818.7L285.9 817.7L286.1 817.9L286.4 818L286.6 818L286.9 817.3L287.1 818.1L287.4 818L287.6 818.4L287.9 817.7L288.1 816.7L288.4 817.1L288.6 817.9L288.9 817.4L289.1 817.6L289.4 817L289.6 817.3L289.9 817.6L290.1 818.6L290.4 816.9L290.6 817.2L290.9 817.9L291.1 817.5L291.4 817.6L291.6 818.4L291.9 818.4L292.1 816.9L292.4 817L292.6 817.6L292.9 818.5L293.1 816.9L293.4 817.7L293.6 817.5L293.9 817L294.1 816.6L294.4 817.7L294.6 816.1L294.9 816.4L295.1 818.2L295.4 817.1L295.6 817.5L295.9 818.1L296.1 817.8L296.4 818.3L296.6 818.3L296.9 817.3L297.1 817.8L297.4 817L297.6 817.8L297.9 817.2L298.1 816.9L298.4 817.5L298.6 817.7L298.9 818.3L299.1 817.8L299.4 818.1L299.6 817.1L299.9 818L300.1 817.9L300.4 817.8L300.6 817.2L300.9 817.3L301.1 818L301.4 818.6L301.6 817.1L301.9 817.8L302.1 817.2L302.4 816.4L302.6 817.9L302.9 817.9L303.1 818.2L303.4 817L303.6 818.1L303.9 818.6L304.1 817.9L304.4 816.8L304.6 818.5L304.9 817.9L305.1 817.6L305.4 818.2L305.6 818.2L305.9 817.4L306.1 817.2L306.4 817.1L306.6 817.9L306.9 816.5L307.1 816.1L307.4 816.7L307.6 812.2L307.9 805.3L308.1 800.1L308.2 801L308.4 804.3L308.6 814.8L308.8 819.3L308.9 820.3L309.1 821.5L309.4 819.3L309.6 818.2L309.9 817.3L310.1 817.6L310.4 817.6L310.6 817.6L310.9 818.1L311.1 817.8L311.4 818.1L311.6 817.9L311.9 818.2L312.1 817.2L312.4 817.6L312.6 817L312.9 817.8L313.1 818.5L313.4 817.7L313.6 817.5L313.9 818L314.1 817.5L314.4 817.8L314.6 818.6L314.9 817.4L315.1 817.5L315.4 817.8L315.6 817.7L315.9 817.5L316.1 816.5L316.4 817.7L316.6 817.2L316.9 818.6L317.1 818.4L317.4 817L317.6 818.5L317.9 815.8L318.1 813.3L318.4 807.9L318.6 802.7L318.7 802.2L318.9 808.2L319.1 816.9L319.3 821.4L319.4 822.8L319.6 822.7L319.9 820.1L320.1 817.9L320.4 818.1L320.6 817.5L320.9 817L321.1 816.3L321.4 814.3L321.6 809.7L321.8 811.5L321.9 812.1L322.1 820L322.4 824.6L322.4 825.9L322.6 823.9L322.9 819.9L323.1 815.3L323.4 812L323.5 812.3L323.6 813.9L323.9 821.5L324.1 823.2L324.1 824.7L324.4 824.9L324.6 820.4L324.9 818.2L325.1 817.5L325.4 817.5L325.6 816.1L325.9 817.4L326.1 818.4L326.4 817.5L326.6 817.5L326.9 817.7L327.1 817.2L327.4 816.8L327.6 817.9L327.9 818.6L328.1 818.3L328.4 818.3L328.6 817.9L328.9 817.7L329.1 817.2L329.4 817.4L329.6 818.7L329.9 817L330.1 818.1L330.4 816.5L330.6 818.4L330.9 817.5L331.1 817.4L331.4 818.6L331.6 817.4L331.9 817.1L332.1 818.4L332.4 817.6L332.6 817.1L332.9 816.3L333.1 817.6L333.4 818.3L333.6 817.7L333.9 817.5L334.1 816.4L334.4 818.1L334.6 817L334.9 818.5L335.1 816.4L335.4 816.6L335.6 816.9L335.9 817L336.1 818.2L336.4 816.9L336.6 816.5L336.9 815L337.1 813.6L337.4 809.5L337.6 806.1L337.9 801.1L338.1 797.6L338.4 798L338.6 798L338.9 803.3L339 806L339.1 808.3L339.4 812.4L339.6 815.4L339.9 817.7L340.2 817.3L340.4 817.3L340.7 819L340.9 817.9L341.2 818.1L341.4 817.1L341.7 817.8L341.9 817.9L342.2 816.8L342.4 817.7L342.7 816.9L342.9 817.9L343.2 818L343.4 818.4L343.7 818L343.9 818.8L344.2 817.6L344.4 816.4L344.7 817.5L344.9 817.7L345.2 816.1L345.4 816.7L345.7 818.3L345.9 818.3L346.2 817.1L346.4 816L346.7 818.4L346.9 817.5L347.2 817.2L347.4 817.3L347.7 817.4L347.9 817.3L348.2 818.2L348.4 817.3L348.7 819.9L348.9 819.8L349.2 821.1L349.2 822.2L349.4 822.1L349.7 823.2L349.8 822L349.9 822.3L350.2 822.4L350.4 821.8L350.7 820.5L350.9 820.4L351.2 819.8L351.4 817.8L351.7 817.3L351.9 818.3L352.2 818.4L352.4 818.6L352.7 817.7L352.9 817.5L353.2 817.8L353.4 817.3L353.7 818.7L353.9 817.7L354.2 818L354.4 817.9L354.7 817.6L354.9 818.2L355.2 817.5L355.4 817.9L355.7 817.8L355.9 815.6L356.2 808.3L356.4 801.5L356.6 799.7L356.7 800.6L356.9 807.9L357.2 816.4L357.2 817.5L357.4 818.4L357.7 819.8L357.9 818.7L358.2 817.5L358.4 818.7L358.7 817.9L358.9 817.6L359.2 818.3L359.4 818.3L359.7 817.6L359.9 817.1L360.2 816.6L360.4 817.9L360.7 817.7L360.9 816.9L361.2 818.5L361.4 818.5L361.7 817.9L361.9 817.7L362.2 816.4L362.4 817.5L362.7 817.6L362.9 817.8L363.2 817.9L363.4 818.5L363.7 817.6L363.9 818.1L364.2 816.6L364.4 818.1L364.7 818.4L364.9 816.4L365.2 818L365.4 817.1L365.7 818.5L365.9 817.1L366.2 817L366.4 817.1L366.7 817.8L366.9 817.2L367.2 817.5L367.4 818.2L367.7 817.9L367.9 817.6L368.2 818.1L368.4 817.7L368.7 816.6L368.9 818.4L369.2 816.6L369.4 818.2L369.7 816.9L369.9 817.5L370.2 818.1L370.4 817.1L370.7 817.7L370.9 818.6L371.2 817.7L371.4 817.9L371.7 817L371.9 817.3L372.2 817.9L372.4 817.7L372.7 817.1L372.9 817L373.2 816.9L373.4 817.2L373.7 818.2L373.9 817.5L374.2 817.2L374.4 818.2L374.7 818.4L374.9 818L375.2 818L375.4 818L375.7 817.8L375.9 817.7L376.2 817.9L376.4 817.4L376.7 817.7L376.9 818.3L377.2 817.3L377.4 817.1L377.7 817.2L377.9 817L378.2 817.8L378.4 817.3L378.7 818.6L378.9 817.8L379.2 817.5L379.4 817.4L379.7 817.4L379.9 816.3L380.2 817L380.4 814L380.7 809.1L380.9 807.8L381 808.1L381.2 810.6L381.4 814.6L381.6 818.3L381.7 819.5L381.9 818.4L382.2 818.1L382.4 818L382.7 818.7L382.9 818.5L383.2 817.3L383.4 818.2L383.7 817.2L383.9 817.4L384.2 817.1L384.4 817.6L384.7 818.4L384.9 818L385.2 818.1L385.4 818.7L385.7 817.5L385.9 818.1L386.2 817.7L386.4 817.8L386.7 817.4L386.9 817.4L387.2 818.1L387.4 818.4L387.7 817.4L387.9 818L388.2 818.3L388.4 818.1L388.7 819.5L388.9 817L389.2 816.5L389.4 818.3L389.7 816.6L389.9 818.7L390.2 817.9L390.4 818.7L390.7 817.1L390.9 817L391.2 819.4L391.4 817.8L391.7 818.3L391.9 817.7L392.2 818.3L392.4 817.4L392.7 817L392.9 817.9L393.2 818.4L393.4 818.1L393.7 817.3L393.9 817.6L394.2 817.2L394.4 817.5L394.7 817.6L394.9 817.5L395.2 817.8L395.4 818L395.7 816.4L395.9 818L396.2 817.5L396.4 817.2L396.7 817.3L396.9 818.4L397.2 817.4L397.4 817.8L397.7 817.9L397.9 817L398.2 817.7L398.4 817.1L398.7 817.6L398.9 817.8L399.2 817.2L399.5 818.3L399.7 817.5L400 817L400.2 819L400.5 816.6L400.7 818.5L401 818.2L401.2 818.2L401.5 817.2L401.7 817.2L402 818.5L402.2 818.5L402.5 817.8L402.7 818L403 817.6L403.2 817.2L403.5 817.2L403.7 817.9L404 817.7L404.2 817L404.5 817.8L404.7 818.3L405 817.8L405.2 817.9L405.5 817L405.7 817.1L406 817.6L406.2 817.5L406.5 818L406.7 817.7L407 816.7L407.2 817.2L407.5 818.3L407.7 817.7L408 817.2L408.2 818.3L408.5 817.9L408.7 817.6L409 817.9L409.2 817.7L409.5 818L409.7 817.8L410 817.1L410.2 813.2L410.5 809.3L410.7 807.4L410.7 807.1L411 810.8L411.2 814.1L411.3 817.1L411.5 818.4L411.7 819.4L412 818.3L412.2 816.4L412.5 818L412.7 817.3L413 817.9L413.2 817.9L413.5 816.8L413.7 817.6L414 818.5L414.2 817L414.5 817.2L414.7 817.8L415 818.1L415.2 817.4L415.5 817L415.7 817.9L416 818L416.2 817.4L416.5 817.6L416.7 818.5L417 815.6L417.2 816.7L417.5 818.1L417.7 818.4L418 817.2L418.2 817.5L418.5 818.1L418.7 818.2L419 817.1L419.2 818.4L419.5 818.3L419.7 817L420 817.9L420.2 817L420.5 817.3L420.7 816.4L421 817.9L421.2 817.9L421.5 817.5L421.7 817.6L422 816.1L422.2 817.2L422.5 817.7L422.7 817.4L423 817.7L423.2 816.3L423.5 817.4L423.7 818.6L424 817.5L424.2 817L424.5 818.3L424.7 817.3L425 818.2L425.2 818.3L425.5 817.3L425.7 817.8L426 816.9L426.2 817.2L426.5 817.8L426.7 817.2L427 818.5L427.2 817.8L427.5 816.6L427.7 818.4L428 818L428.2 817.5L428.5 817.8L428.7 818.1L429 817.4L429.2 818.6L429.5 817.2L429.7 817.2L430 818.2L430.2 817.8L430.5 817.6L430.7 816.8L431 817.3L431.2 816.9L431.5 816.7L431.7 816.4L432 816.1L432.2 817L432.2 815.2L432.5 816.2L432.7 817L432.8 817.5L433 818.1L433.2 818.9L433.5 821.8L433.7 823.3L433.7 824.4L434 823.8L434.2 825.1L434.3 824.6L434.5 824.8L434.7 824.9L435 822.9L435.2 821.9L435.5 819.8L435.7 819.3L436 818.5L436.2 818.4L436.5 817.1L436.7 818.3L437 817.6L437.2 817.5L437.5 818.3L437.7 817.9L438 816.4L438.2 818.2L438.5 817.4L438.7 817.4L439 817.9L439.2 818.2L439.5 817.2L439.7 817.7L440 817.7L440.2 817.5L440.5 816.8L440.7 816.3L441 816.9L441.2 817.9L441.5 817.7L441.7 818.2L442 818.9L442.2 817.3L442.5 818.2L442.7 817.6L443 817.2L443.2 818.5L443.5 816.8L443.7 818L444 817.3L444.2 817.8L444.5 819.2L444.7 817.5L445 817.7L445.2 816.8L445.5 818L445.7 817.5L446 817.5L446.2 817.6L446.5 816.7L446.7 818.5L447 817L447.2 817.8L447.5 817.7L447.8 816.6L448 817.3L448.2 817.3L448.5 817.1L448.8 817.5L449 818L449.2 817.3L449.5 818.8L449.8 817.6L450 817.7L450.2 817.3L450.5 817.8L450.8 817.4L451 817.6L451.2 817.9L451.5 817.6L451.8 818L452 817.4L452.2 818.7L452.5 817.4L452.8 817.3L453 817.3L453.2 818L453.5 817.7L453.8 818.9L454 816.5L454.2 818.3L454.5 817.8L454.8 819.2L455 817.6L455.2 817.2L455.5 818.3L455.8 818L456 817.2L456.2 815.1L456.5 812.6L456.8 811.1L456.9 810.2L457 810.6L457.2 813.8L457.5 816.7L457.8 819.5L458 818.8L458.2 817.8L458.5 819L458.8 818.1L459 817.1L459.3 816.5L459.5 817L459.8 817.8L460 817.4L460.3 818.4L460.5 817.4L460.8 817.6L461 818.2L461.3 818.3L461.5 817.7L461.8 817.5L462 817.8L462.3 817.2L462.5 816.1L462.8 813.7L463 811.2L463.1 811.8L463.3 812.2L463.5 816.3L463.7 816.7L463.8 817.1L464 818.7L464.3 818.1L464.5 818L464.8 817.2L465 817.7L465.3 817.3L465.5 817.1L465.8 817.6L466 818.3L466.3 817.8L466.5 817.8L466.8 817.7L467 817.9L467.3 817.4L467.5 818L467.8 817.2L468 817.7L468.3 815.6L468.5 812.3L468.8 808.1L469 805.5L469 805.6L469.3 810.3L469.5 815.6L469.6 817.6L469.8 818.6L470 819.4L470.3 818.1L470.5 817.8L470.8 817.3L471 817.8L471.3 818.2L471.5 817.9L471.8 817.6L472 817.1L472.3 816.9L472.5 819.1L472.8 817.1L473 817.7L473.3 818.3L473.5 816.9L473.8 817.7L474 818L474.3 817.9L474.5 818.3L474.8 817.2L475 818L475.3 818.1L475.5 817.3L475.8 818.4L476 817.7L476.3 818.7L476.5 816.6L476.8 818.7L477 817.5L477.3 817L477.5 817.1L477.8 817.8L478 817.8L478.3 817L478.5 816.8L478.8 819L479 817.5L479.3 817.3L479.5 818.4L479.8 816.7L480 817.5L480.3 817.6L480.5 817.9L480.8 818.2L481 818.6L481.3 818.2L481.5 817.2L481.8 816.8L482 817.7L482.3 816.6L482.5 817L482.8 817.9L483 818.4L483.3 818L483.5 817.3L483.8 818.1L484 817.6L484.3 816.5L484.5 816.7L484.8 817.8L485 817L485.3 815.6L485.5 814.6L485.8 813.1L486 812.4L486.3 810.6L486.5 809.6L486.8 808.5L486.9 809.6L487 809.4L487.3 810L487.5 811.3L487.5 811.9L487.8 813.4L488 814.8L488.3 816.2L488.5 817.5L488.8 816.4L489 817.1L489.3 818.5L489.5 817.9L489.8 818L490 816.8L490.3 818.1L490.5 817.1L490.8 818.5L491 817.8L491.3 818L491.5 817.2L491.8 816L492 816.5L492.3 815.1L492.5 812.5L492.7 812.5L492.8 813.1L493 815.2L493.3 817.8L493.3 817.1L493.5 818.4L493.8 818.3L494 817.1L494.3 818.2L494.5 816.3L494.8 817.7L495 817.5L495.3 818.2L495.5 818.2L495.8 817.7L496 816.8L496.3 818.4L496.5 817.8L496.8 819.3L497 817.6L497.3 819.1L497.5 818.1L497.8 817.3L498 817.8L498.3 817.7L498.5 817.6L498.8 817.6L499 817.6L499.3 818.7L499.5 817.8L499.8 818L500 816.6L500.3 816.4L500.5 817.5L500.8 817.1L501 818.6L501.3 817.3L501.5 816.6L501.8 816.2L502 817.3L502.3 817.8L502.5 816.7L502.8 816.9L503 816.8L503.3 816.4L503.5 817.4L503.8 818L504 817.9L504.3 818.8L504.5 818.3L504.8 818.2L505 817.4L505.3 817.3L505.5 818.9L505.8 817L506 817.9L506.3 818L506.6 817.2L506.8 817.2L507.1 818.6L507.3 816.9L507.6 816.6L507.8 816.7L508.1 816.4L508.3 818.5L508.6 817.9L508.8 817.5L509.1 817.4L509.3 816.9L509.6 817.2L509.8 817.7L510.1 817.3L510.3 818.6L510.6 817.9L510.8 817.8L511.1 817.8L511.3 818.1L511.6 817L511.8 817.3L512 818.7L512.3 816.2" fill="none" stroke="#55bd76" stroke-width="2" stroke-linejoin="round"/>
<path d="M323.4 736.5V744.5" stroke="#e672f5" stroke-width="1.5"/>
<path d="M321.1 743L325.7 743L323.4 748.5Z" fill="#e672f5"/>
<path d="M341.3 735.8V744.5" stroke="#ee9233" stroke-width="1.5"/>
<path d="M339 743L343.6 743L341.3 748.5Z" fill="#ee9233"/>
<path d="M350.1 746.3V754.4" stroke="#e672f5" stroke-width="1.5"/>
<path d="M347.8 752.9L352.4 752.9L350.1 758.4Z" fill="#e672f5"/>
<path d="M433.8 748.5V756.6" stroke="#e672f5" stroke-width="1.5"/>
<path d="M431.5 755.1L436.1 755.1L433.8 760.6Z" fill="#e672f5"/>
<rect x="215.3" y="612.7" width="297" height="218.8" fill="none" stroke="#1a1a1a" stroke-width="1.5"/>
<path d="M215.3 831.5v-4M245 831.5v-2.2M274.7 831.5v-4M304.4 831.5v-2.2M334.1 831.5v-4M363.8 831.5v-2.2M393.5 831.5v-4M423.2 831.5v-2.2M452.9 831.5v-4M482.6 831.5v-2.2M512.3 831.5v-4" stroke="#1a1a1a" stroke-width="1.3"/>
<text x="215.3" y="846" text-anchor="middle" font-size="12" font-weight="bold">10</text>
<text x="274.7" y="846" text-anchor="middle" font-size="12" font-weight="bold">20</text>
<text x="334.1" y="846" text-anchor="middle" font-size="12" font-weight="bold">30</text>
<text x="393.5" y="846" text-anchor="middle" font-size="12" font-weight="bold">40</text>
<text x="452.9" y="846" text-anchor="middle" font-size="12" font-weight="bold">50</text>
<text x="512.3" y="846" text-anchor="middle" font-size="12" font-weight="bold">60</text>
<text x="363.8" y="869.7" text-anchor="middle" font-size="14.3" font-weight="bold">2 theta / <tspan dy="0.9">°</tspan></text>
<text transform="translate(200 722.1) rotate(-90)" text-anchor="middle" font-size="14.4" font-weight="bold">Intensity (a.u.)</text>
<text x="191.5" y="613.1" font-size="28" font-weight="bold">e</text>
<text x="216.9" y="626.9" font-size="14.4">LGLZO_10</text>
<text x="457.8" y="624.2" font-size="11.45">Observed</text>
<text x="457.8" y="638" font-size="11.45">Calculated</text>
<text x="457.8" y="651.9" font-size="11.45">Difference</text>
<text x="457.8" y="665.8" font-size="11.45">Cubic</text>
<text x="457.8" y="680.4" font-size="11.45">La<tspan font-size="7.6" dy="3.3">2</tspan><tspan dy="-3.3">Zr</tspan><tspan font-size="7.6" dy="3.3">2</tspan><tspan dy="-3.3">O</tspan><tspan font-size="7.6" dy="3.3">7</tspan></text>
<text x="457.8" y="695" font-size="11.45">Tetragonal</text>
<circle cx="438.6" cy="620.8" r="0.9" fill="#ef343d"/>
<path d="M425.5 634.4H451.8" stroke="#444" stroke-width="1.8"/>
<path d="M425.5 648.2H451.8" stroke="#55bd76" stroke-width="2"/>
<path d="M438.6 658.2V666.2" stroke="#8fb6ee" stroke-width="1.3"/>
<path d="M438.6 674.8V683" stroke="#e672f5" stroke-width="1.3"/>
<path d="M438.6 687.6V696.2" stroke="#ee9233" stroke-width="1.3"/>
</svg>
</body></html>
